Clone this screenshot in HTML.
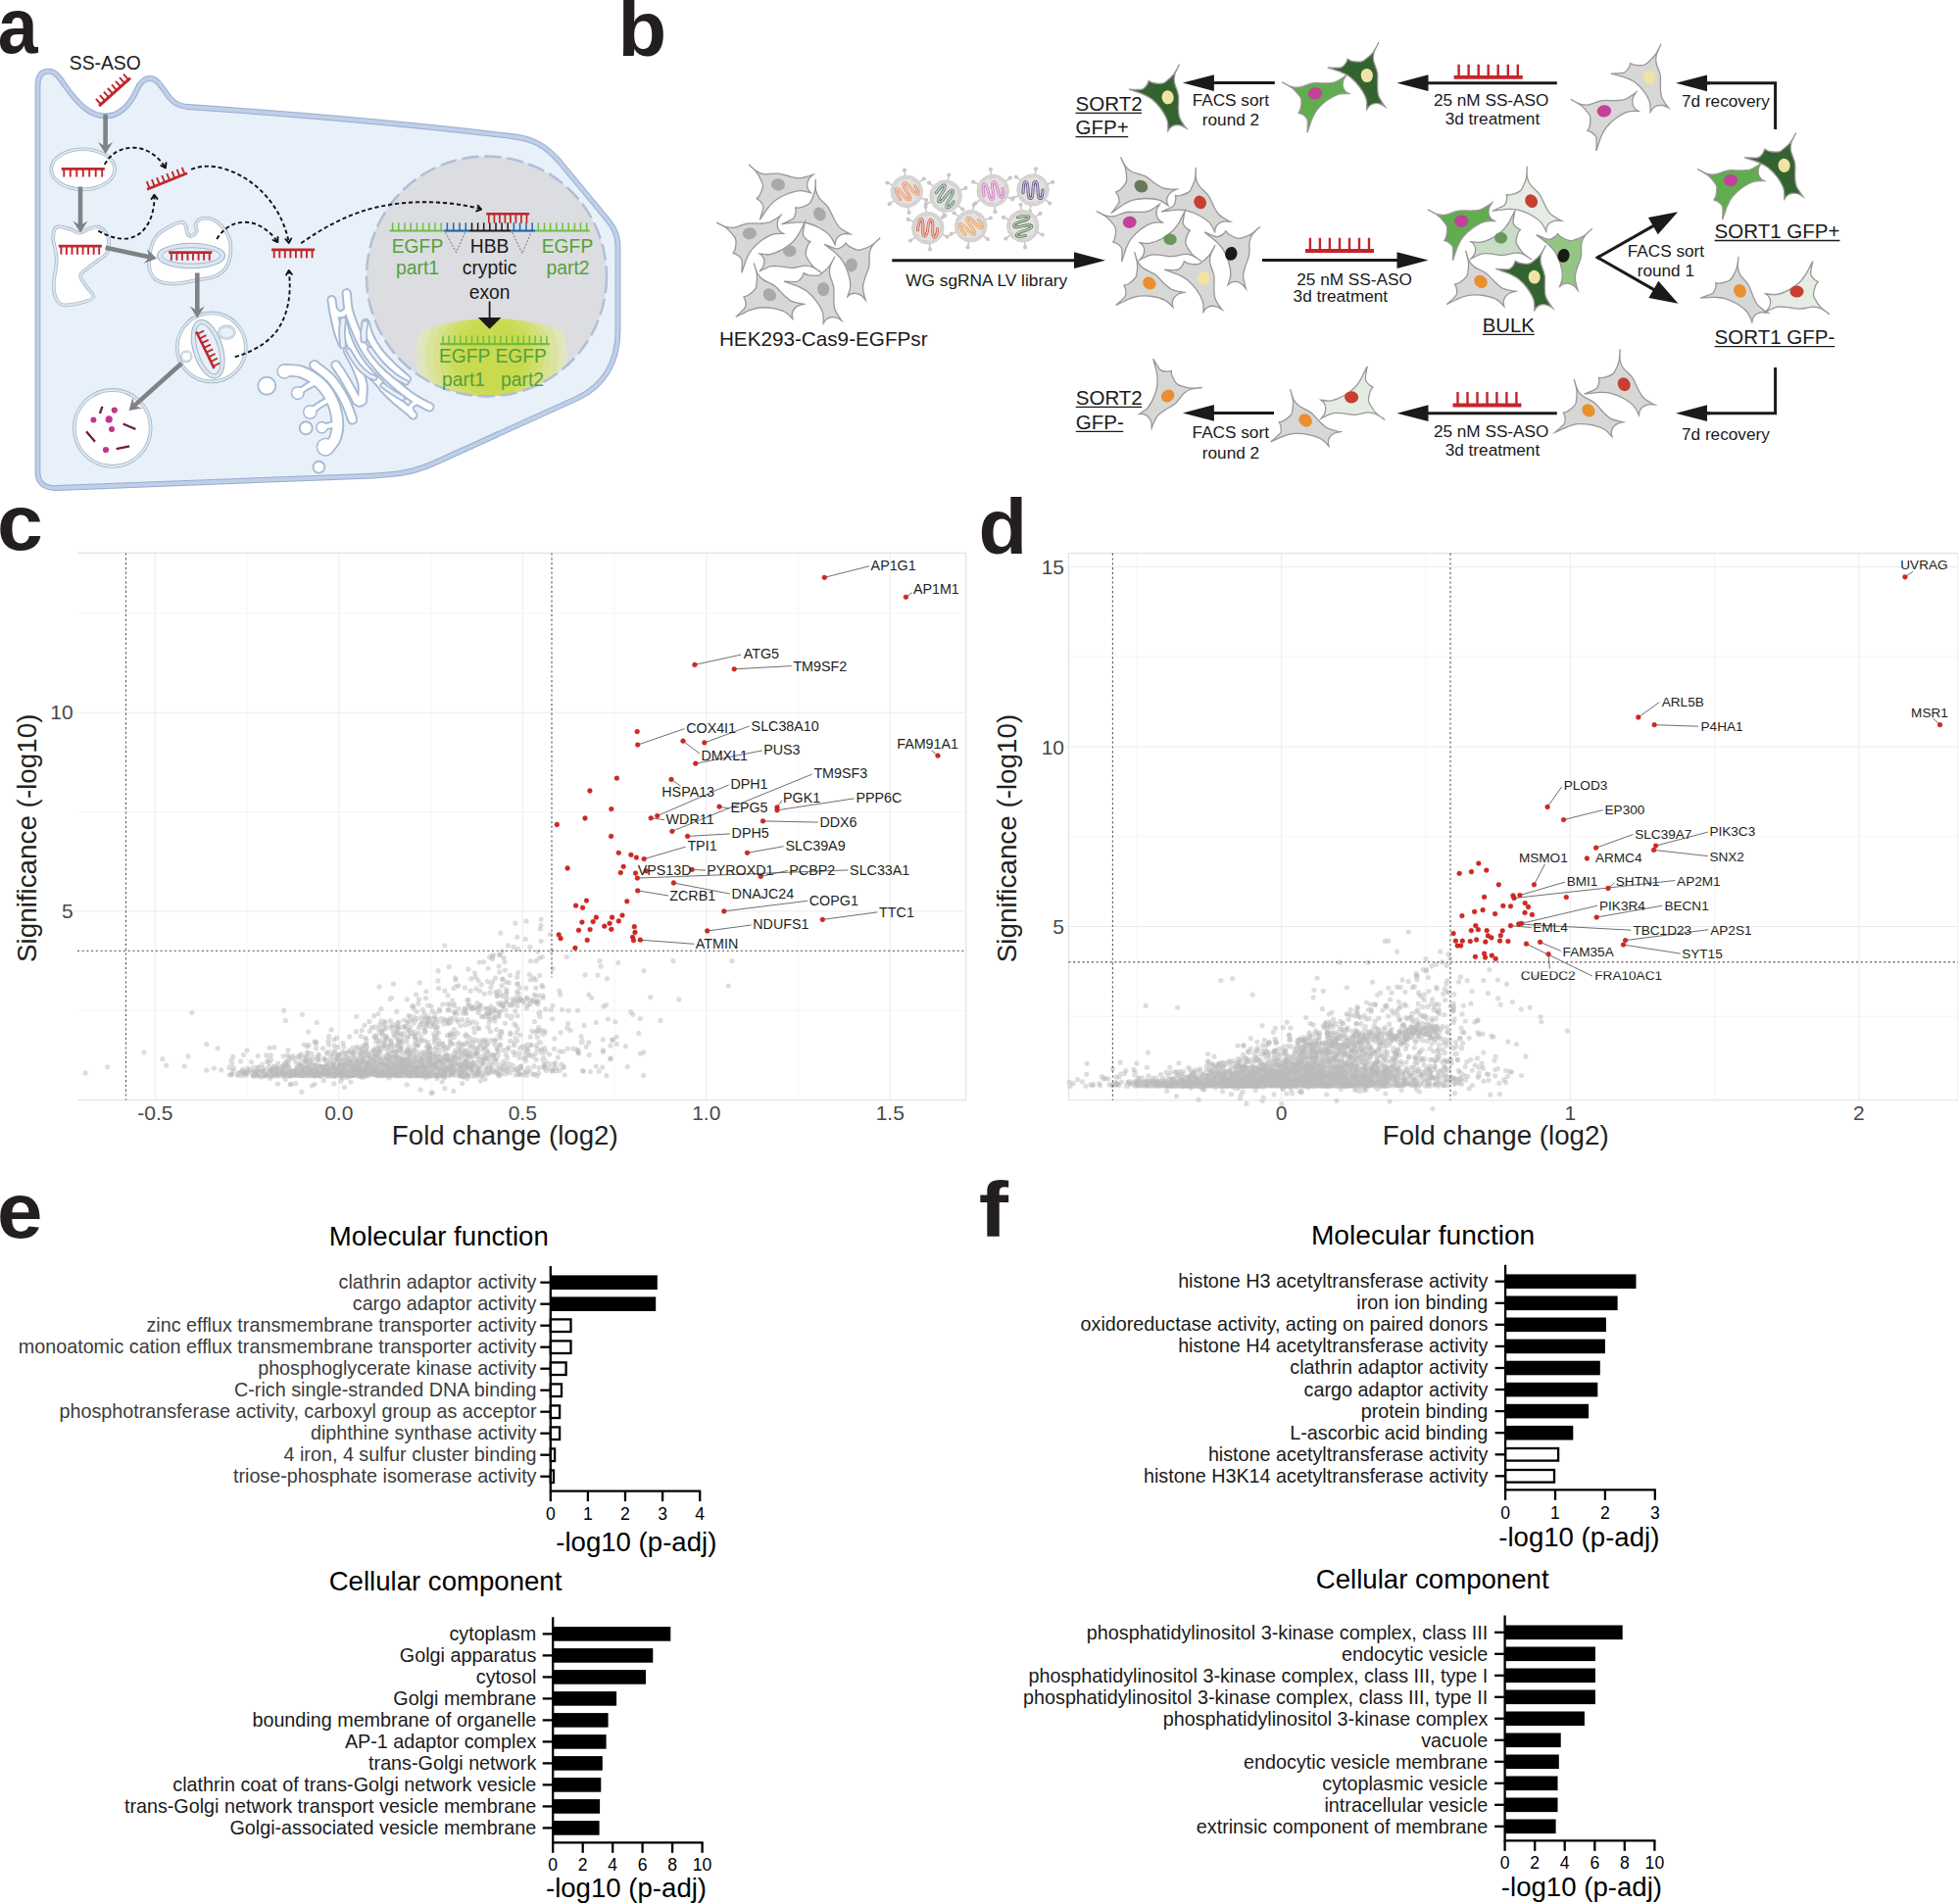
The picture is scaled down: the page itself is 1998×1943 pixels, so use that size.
<!DOCTYPE html>
<html><head><meta charset="utf-8"><title>Figure</title>
<style>
html,body{margin:0;padding:0;background:#fff;}
svg{display:block;font-family:"Liberation Sans",sans-serif;}
</style></head><body>
<svg width="1998" height="1943" viewBox="0 0 1998 1943">
<rect width="1998" height="1943" fill="#fff"/>
<text transform="translate(-2.3,54.3) scale(0.93,1)" font-size="79" font-weight="bold" fill="#231f20">a</text>
<text transform="translate(630.5,57) scale(1.03,1)" font-size="79" font-weight="bold" fill="#231f20">b</text>
<text transform="translate(-2.9,561.3) scale(1.065,1)" font-size="79" font-weight="bold" fill="#231f20">c</text>
<text transform="translate(998.6,564.6) scale(1.03,1)" font-size="79" font-weight="bold" fill="#231f20">d</text>
<text transform="translate(-3.0,1263) scale(1.057,1)" font-size="79" font-weight="bold" fill="#231f20">e</text>
<text transform="translate(998.7,1262.1) scale(1.15,1)" font-size="79" font-weight="bold" fill="#231f20">f</text>
<path d="M38.5 482 L38.5 88 C38.5 77 43 72.6 49.5 72.6 C56 72.6 60 78 65 85.5 C80 107 92 118.4 107.6 118.4 C123 118.4 133 106 139.5 92 C143 84 147 80 152.8 80 C160 80 164.5 87.5 169.5 95 C175 103.5 181 108 192 109 Q380 122 522 139 C545 141.5 557 149 571 165 L618.5 222.5 C627 233 630.5 240 630.5 252 L630.5 338 C630.5 372 614 394.5 590 406 L441 473.5 C420 482.5 405 484.3 380 485.6 L58 498 C44.5 498.5 38.5 492 38.5 482 Z" fill="#e8f0fa" stroke="#98add0" stroke-width="5.8" stroke-linejoin="round"/>
<path d="M38.5 482 L38.5 88 C38.5 77 43 72.6 49.5 72.6 C56 72.6 60 78 65 85.5 C80 107 92 118.4 107.6 118.4 C123 118.4 133 106 139.5 92 C143 84 147 80 152.8 80 C160 80 164.5 87.5 169.5 95 C175 103.5 181 108 192 109 Q380 122 522 139 C545 141.5 557 149 571 165 L618.5 222.5 C627 233 630.5 240 630.5 252 L630.5 338 C630.5 372 614 394.5 590 406 L441 473.5 C420 482.5 405 484.3 380 485.6 L58 498 C44.5 498.5 38.5 492 38.5 482 Z" fill="none" stroke="#bfcfe8" stroke-width="3.8" stroke-linejoin="round"/>
<clipPath id="nuc"><circle cx="496.5" cy="282" r="122.5"/></clipPath>
<circle cx="496.5" cy="282" r="122.5" fill="#dcdde1"/>
<radialGradient id="glow" gradientUnits="userSpaceOnUse" cx="501.7" cy="363" r="77"><stop offset="0" stop-color="#c8da4e"/><stop offset="0.46" stop-color="#c8da4e"/><stop offset="0.47" stop-color="#cbdc58"/><stop offset="0.54" stop-color="#cbdc58"/><stop offset="0.55" stop-color="#cfde66"/><stop offset="0.61" stop-color="#cfde66"/><stop offset="0.62" stop-color="#d3e078"/><stop offset="0.69" stop-color="#d3e078"/><stop offset="0.7" stop-color="#d7e28b"/><stop offset="0.77" stop-color="#d7e28b"/><stop offset="0.78" stop-color="#dbe49f"/><stop offset="0.87" stop-color="#dbe49f"/><stop offset="0.88" stop-color="#dee6b6"/><stop offset="1" stop-color="#e0e6c4"/></radialGradient>
<clipPath id="lens"><path d="M425.5 346Q425.5 337 440 334Q501.7 316 563.5 334Q578.5 337 578.5 346L578.5 412L425.5 412Z"/></clipPath>
<g clip-path="url(#nuc)"><g clip-path="url(#lens)"><circle cx="501.7" cy="363" r="77" fill="url(#glow)"/></g></g>
<circle cx="496.5" cy="282" r="122.5" fill="none" stroke="#a2b2ce" stroke-width="2.3" stroke-dasharray="17 6"/>
<circle cx="496.5" cy="282" r="122.5" fill="none" stroke="#c6d0e2" stroke-width="0.8" stroke-dasharray="17 6"/>
<path d="M373.2 329.6C373.8 331.7 374.7 337.4 376.8 342.2C379.0 347.1 382.3 353.2 386.3 358.5C390.3 363.9 396.2 369.6 401.0 374.3C405.8 379.0 412.8 384.8 415.2 386.9" fill="none" stroke="#a7b9d2" stroke-width="9.6" stroke-linecap="round" stroke-linejoin="round"/>
<path d="M353.7 299.2C354.1 302.1 354.3 310.1 355.8 316.5C357.4 322.9 360.2 330.5 363.2 337.5C366.2 344.5 369.1 351.5 373.7 358.5C378.2 365.5 384.4 373.0 390.5 379.5C396.6 386.1 404.7 393.1 410.5 397.9C416.2 402.7 420.5 405.5 425.2 408.4C429.8 411.3 436.1 414.1 438.3 415.3" fill="none" stroke="#a7b9d2" stroke-width="10.2" stroke-linecap="round" stroke-linejoin="round"/>
<path d="M338.5 306.0C338.9 308.3 339.5 314.1 340.6 319.7C341.7 325.3 343.8 334.5 345.3 339.6C346.8 344.8 348.8 348.8 349.5 350.7" fill="none" stroke="#a7b9d2" stroke-width="10.0" stroke-linecap="round" stroke-linejoin="round"/>
<path d="M341.1 316.5C342.2 317.3 345.2 321.2 347.4 321.2C349.7 321.2 353.4 317.3 354.6 316.5" fill="none" stroke="#a7b9d2" stroke-width="8.6" stroke-linecap="round" stroke-linejoin="round"/>
<path d="M350.1 327.0C350.7 329.5 351.9 336.5 353.7 341.7C355.6 347.0 358.1 353.1 361.1 358.5C364.1 364.0 368.2 369.8 371.6 374.3C375.0 378.8 379.9 383.5 381.6 385.3" fill="none" stroke="#a7b9d2" stroke-width="9.2" stroke-linecap="round" stroke-linejoin="round"/>
<path d="M391.0 395.8C392.9 397.7 397.8 403.0 402.1 406.8C406.3 410.7 413.5 416.1 416.8 418.9C420.0 421.7 420.7 422.9 421.5 423.7" fill="none" stroke="#a7b9d2" stroke-width="9.8" stroke-linecap="round" stroke-linejoin="round"/>
<path d="M421.5 423.7C421.1 422.3 418.3 417.5 418.9 415.3C419.5 413.0 424.1 410.9 425.2 410.0" fill="none" stroke="#a7b9d2" stroke-width="7.6" stroke-linecap="round" stroke-linejoin="round"/>
<path d="M381.6 385.3C382.5 386.3 385.8 389.3 387.4 391.1C388.9 392.8 390.4 395.0 391.0 395.8" fill="none" stroke="#a7b9d2" stroke-width="9.6" stroke-linecap="round" stroke-linejoin="round"/>
<path d="M355.3 358.0C356.8 360.9 361.8 369.6 364.2 375.3C366.7 381.0 369.1 386.5 370.0 392.1C370.9 397.7 369.6 406.1 369.5 408.9" fill="none" stroke="#a7b9d2" stroke-width="11.0" stroke-linecap="round" stroke-linejoin="round"/>
<path d="M342.7 372.7C343.8 374.4 347.1 378.8 349.5 382.7C352.0 386.6 355.0 392.0 357.4 396.3C359.9 400.7 363.1 406.8 364.2 408.9" fill="none" stroke="#a7b9d2" stroke-width="10.6" stroke-linecap="round" stroke-linejoin="round"/>
<path d="M364.2 408.9C364.7 409.2 366.0 410.5 366.9 410.5C367.7 410.5 369.1 409.2 369.5 408.9" fill="none" stroke="#a7b9d2" stroke-width="10.6" stroke-linecap="round" stroke-linejoin="round"/>
<path d="M320.7 372.7C323.4 374.9 332.1 380.7 336.9 385.8C341.7 391.0 346.4 398.4 349.5 403.7C352.7 408.9 354.2 413.3 355.8 417.4C357.5 421.4 358.9 426.1 359.5 427.9" fill="none" stroke="#a7b9d2" stroke-width="11.2" stroke-linecap="round" stroke-linejoin="round"/>
<path d="M290.2 378.0C293.1 378.2 301.5 377.3 307.5 379.5C313.6 381.7 321.2 386.2 326.4 391.1C331.7 396.0 336.1 402.5 339.0 408.9C342.0 415.4 343.8 423.7 344.3 430.0C344.8 436.3 343.8 442.2 342.2 446.8C340.6 451.3 336.1 455.5 334.8 457.3" fill="none" stroke="#a7b9d2" stroke-width="13.6" stroke-linecap="round" stroke-linejoin="round"/>
<path d="M303.8 401.1C305.5 399.9 310.8 396.1 313.8 394.2C316.9 392.4 320.8 390.7 322.2 390.0" fill="none" stroke="#a7b9d2" stroke-width="8.1" stroke-linecap="round" stroke-linejoin="round"/>
<path d="M316.4 420.5C318.1 419.3 323.2 415.3 326.4 413.2C329.7 411.1 334.3 408.8 335.9 407.9" fill="none" stroke="#a7b9d2" stroke-width="8.1" stroke-linecap="round" stroke-linejoin="round"/>
<path d="M328.5 436.3C329.9 435.9 334.3 434.9 336.9 434.2C339.6 433.5 343.1 432.4 344.3 432.1" fill="none" stroke="#a7b9d2" stroke-width="8.1" stroke-linecap="round" stroke-linejoin="round"/>
<circle cx="290.2" cy="379.0" r="6.9" fill="#fff" stroke="#a7b9d2" stroke-width="1.9"/>
<circle cx="303.8" cy="401.1" r="6.1" fill="#fff" stroke="#a7b9d2" stroke-width="1.9"/>
<circle cx="316.4" cy="420.5" r="6.5" fill="#fff" stroke="#a7b9d2" stroke-width="1.9"/>
<circle cx="328.5" cy="436.3" r="5.5" fill="#fff" stroke="#a7b9d2" stroke-width="1.9"/>
<circle cx="332.2" cy="456.2" r="8.6" fill="#fff" stroke="#a7b9d2" stroke-width="1.9"/>
<circle cx="272.3" cy="393.7" r="9.0" fill="#fff" stroke="#a7b9d2" stroke-width="1.9"/>
<circle cx="312.2" cy="436.8" r="6.5" fill="#fff" stroke="#a7b9d2" stroke-width="1.9"/>
<circle cx="325.4" cy="476.7" r="5.9" fill="#fff" stroke="#a7b9d2" stroke-width="1.9"/>
<path d="M373.2 329.6C373.8 331.7 374.7 337.4 376.8 342.2C379.0 347.1 382.3 353.2 386.3 358.5C390.3 363.9 396.2 369.6 401.0 374.3C405.8 379.0 412.8 384.8 415.2 386.9" fill="none" stroke="#fff" stroke-width="5.8" stroke-linecap="round" stroke-linejoin="round"/>
<path d="M353.7 299.2C354.1 302.1 354.3 310.1 355.8 316.5C357.4 322.9 360.2 330.5 363.2 337.5C366.2 344.5 369.1 351.5 373.7 358.5C378.2 365.5 384.4 373.0 390.5 379.5C396.6 386.1 404.7 393.1 410.5 397.9C416.2 402.7 420.5 405.5 425.2 408.4C429.8 411.3 436.1 414.1 438.3 415.3" fill="none" stroke="#fff" stroke-width="6.3999999999999995" stroke-linecap="round" stroke-linejoin="round"/>
<path d="M338.5 306.0C338.9 308.3 339.5 314.1 340.6 319.7C341.7 325.3 343.8 334.5 345.3 339.6C346.8 344.8 348.8 348.8 349.5 350.7" fill="none" stroke="#fff" stroke-width="6.2" stroke-linecap="round" stroke-linejoin="round"/>
<path d="M341.1 316.5C342.2 317.3 345.2 321.2 347.4 321.2C349.7 321.2 353.4 317.3 354.6 316.5" fill="none" stroke="#fff" stroke-width="4.8" stroke-linecap="round" stroke-linejoin="round"/>
<path d="M350.1 327.0C350.7 329.5 351.9 336.5 353.7 341.7C355.6 347.0 358.1 353.1 361.1 358.5C364.1 364.0 368.2 369.8 371.6 374.3C375.0 378.8 379.9 383.5 381.6 385.3" fill="none" stroke="#fff" stroke-width="5.3999999999999995" stroke-linecap="round" stroke-linejoin="round"/>
<path d="M391.0 395.8C392.9 397.7 397.8 403.0 402.1 406.8C406.3 410.7 413.5 416.1 416.8 418.9C420.0 421.7 420.7 422.9 421.5 423.7" fill="none" stroke="#fff" stroke-width="6.0" stroke-linecap="round" stroke-linejoin="round"/>
<path d="M421.5 423.7C421.1 422.3 418.3 417.5 418.9 415.3C419.5 413.0 424.1 410.9 425.2 410.0" fill="none" stroke="#fff" stroke-width="3.8" stroke-linecap="round" stroke-linejoin="round"/>
<path d="M381.6 385.3C382.5 386.3 385.8 389.3 387.4 391.1C388.9 392.8 390.4 395.0 391.0 395.8" fill="none" stroke="#fff" stroke-width="5.8" stroke-linecap="round" stroke-linejoin="round"/>
<path d="M355.3 358.0C356.8 360.9 361.8 369.6 364.2 375.3C366.7 381.0 369.1 386.5 370.0 392.1C370.9 397.7 369.6 406.1 369.5 408.9" fill="none" stroke="#fff" stroke-width="7.2" stroke-linecap="round" stroke-linejoin="round"/>
<path d="M342.7 372.7C343.8 374.4 347.1 378.8 349.5 382.7C352.0 386.6 355.0 392.0 357.4 396.3C359.9 400.7 363.1 406.8 364.2 408.9" fill="none" stroke="#fff" stroke-width="6.8" stroke-linecap="round" stroke-linejoin="round"/>
<path d="M364.2 408.9C364.7 409.2 366.0 410.5 366.9 410.5C367.7 410.5 369.1 409.2 369.5 408.9" fill="none" stroke="#fff" stroke-width="6.8" stroke-linecap="round" stroke-linejoin="round"/>
<path d="M320.7 372.7C323.4 374.9 332.1 380.7 336.9 385.8C341.7 391.0 346.4 398.4 349.5 403.7C352.7 408.9 354.2 413.3 355.8 417.4C357.5 421.4 358.9 426.1 359.5 427.9" fill="none" stroke="#fff" stroke-width="7.3999999999999995" stroke-linecap="round" stroke-linejoin="round"/>
<path d="M290.2 378.0C293.1 378.2 301.5 377.3 307.5 379.5C313.6 381.7 321.2 386.2 326.4 391.1C331.7 396.0 336.1 402.5 339.0 408.9C342.0 415.4 343.8 423.7 344.3 430.0C344.8 436.3 343.8 442.2 342.2 446.8C340.6 451.3 336.1 455.5 334.8 457.3" fill="none" stroke="#fff" stroke-width="9.8" stroke-linecap="round" stroke-linejoin="round"/>
<path d="M303.8 401.1C305.5 399.9 310.8 396.1 313.8 394.2C316.9 392.4 320.8 390.7 322.2 390.0" fill="none" stroke="#fff" stroke-width="4.3" stroke-linecap="round" stroke-linejoin="round"/>
<path d="M316.4 420.5C318.1 419.3 323.2 415.3 326.4 413.2C329.7 411.1 334.3 408.8 335.9 407.9" fill="none" stroke="#fff" stroke-width="4.3" stroke-linecap="round" stroke-linejoin="round"/>
<path d="M328.5 436.3C329.9 435.9 334.3 434.9 336.9 434.2C339.6 433.5 343.1 432.4 344.3 432.1" fill="none" stroke="#fff" stroke-width="4.3" stroke-linecap="round" stroke-linejoin="round"/>
<circle cx="290.2" cy="379.0" r="6.3" fill="#fff"/>
<circle cx="303.8" cy="401.1" r="5.5" fill="#fff"/>
<circle cx="316.4" cy="420.5" r="5.9" fill="#fff"/>
<circle cx="328.5" cy="436.3" r="4.9" fill="#fff"/>
<circle cx="332.2" cy="456.2" r="8.0" fill="#fff"/>
<path d="M350.2 326.8C350.0 328.6 349.0 333.5 349.0 337.8C348.9 342.1 349.8 350.0 350.0 352.5" fill="none" stroke="#a7b9d2" stroke-width="7.6" stroke-linecap="round"/>
<path d="M350.2 326.8C350.0 328.6 349.0 333.5 349.0 337.8C348.9 342.1 349.8 350.0 350.0 352.5" fill="none" stroke="#e8f0fa" stroke-width="4.0" stroke-linecap="round"/>
<path d="M372.5 330.1C372.3 331.5 371.4 335.8 371.2 338.5C371.0 341.3 371.3 345.3 371.3 346.6" fill="none" stroke="#a7b9d2" stroke-width="7.800000000000001" stroke-linecap="round"/>
<path d="M372.5 330.1C372.3 331.5 371.4 335.8 371.2 338.5C371.0 341.3 371.3 345.3 371.3 346.6" fill="none" stroke="#e8f0fa" stroke-width="4.2" stroke-linecap="round"/>
<path d="M377.4 356.2C379.3 358.6 384.5 366.2 388.8 370.9C393.2 375.5 399.2 380.9 403.5 384.1C407.8 387.4 412.7 389.3 414.6 390.4" fill="none" stroke="#a7b9d2" stroke-width="6.4" stroke-linecap="round"/>
<path d="M377.4 356.2C379.3 358.6 384.5 366.2 388.8 370.9C393.2 375.5 399.2 380.9 403.5 384.1C407.8 387.4 412.7 389.3 414.6 390.4" fill="none" stroke="#e8f0fa" stroke-width="2.8" stroke-linecap="round"/>
<path d="M355.7 358.0C357.3 360.5 362.0 369.0 365.3 373.1C368.6 377.2 372.8 380.6 375.6 382.6C378.4 384.7 381.1 385.1 382.2 385.6" fill="none" stroke="#a7b9d2" stroke-width="6.6" stroke-linecap="round"/>
<path d="M355.7 358.0C357.3 360.5 362.0 369.0 365.3 373.1C368.6 377.2 372.8 380.6 375.6 382.6C378.4 384.7 381.1 385.1 382.2 385.6" fill="none" stroke="#e8f0fa" stroke-width="3.0" stroke-linecap="round"/>
<path d="M390.7 393.3C392.3 394.5 397.2 398.1 400.6 400.3C404.0 402.5 409.2 405.5 410.9 406.5" fill="none" stroke="#a7b9d2" stroke-width="6.6" stroke-linecap="round"/>
<path d="M390.7 393.3C392.3 394.5 397.2 398.1 400.6 400.3C404.0 402.5 409.2 405.5 410.9 406.5" fill="none" stroke="#e8f0fa" stroke-width="3.0" stroke-linecap="round"/>
<ellipse cx="84.7" cy="172.8" rx="32.5" ry="20.5" fill="#fff" stroke="#a3b8c9" stroke-width="3.6"/>
<ellipse cx="84.7" cy="172.8" rx="32.5" ry="20.5" fill="none" stroke="#dde7f0" stroke-width="1.98"/>
<path d="M57.8 231.6C60.6 230.0 67.0 232.5 70.9 233.6C74.7 234.6 77.4 237.8 80.7 237.8C83.9 237.8 87.2 234.6 90.5 233.6C93.7 232.5 97.3 230.8 100.3 231.6C103.3 232.4 106.6 235.4 108.4 238.1C110.3 240.9 111.2 244.5 111.2 247.9C111.3 251.3 111.4 255.0 108.8 258.6C106.1 262.1 99.8 265.5 95.4 269.2C91.0 272.9 83.5 276.8 82.3 280.6C81.1 284.4 85.9 288.3 88.0 292.1C90.1 295.9 96.5 300.6 95.0 303.5C93.5 306.4 84.4 308.5 79.0 309.7C73.6 310.9 66.5 312.2 62.7 310.9C58.9 309.6 57.5 305.5 56.1 301.9C54.8 298.2 54.6 295.1 54.8 288.8C55.1 282.5 57.9 271.9 57.8 264.3C57.7 256.7 54.2 248.5 54.2 243.0C54.2 237.6 55.0 233.2 57.8 231.6Z" fill="#fff" stroke="#a3b8c9" stroke-width="3.6"/>
<path d="M57.8 231.6C60.6 230.0 67.0 232.5 70.9 233.6C74.7 234.6 77.4 237.8 80.7 237.8C83.9 237.8 87.2 234.6 90.5 233.6C93.7 232.5 97.3 230.8 100.3 231.6C103.3 232.4 106.6 235.4 108.4 238.1C110.3 240.9 111.2 244.5 111.2 247.9C111.3 251.3 111.4 255.0 108.8 258.6C106.1 262.1 99.8 265.5 95.4 269.2C91.0 272.9 83.5 276.8 82.3 280.6C81.1 284.4 85.9 288.3 88.0 292.1C90.1 295.9 96.5 300.6 95.0 303.5C93.5 306.4 84.4 308.5 79.0 309.7C73.6 310.9 66.5 312.2 62.7 310.9C58.9 309.6 57.5 305.5 56.1 301.9C54.8 298.2 54.6 295.1 54.8 288.8C55.1 282.5 57.9 271.9 57.8 264.3C57.7 256.7 54.2 248.5 54.2 243.0C54.2 237.6 55.0 233.2 57.8 231.6Z" fill="none" stroke="#dde7f0" stroke-width="2.0"/>
<path d="M154.2 252.8C155.6 247.4 157.5 243.4 160.7 239.8C164.0 236.1 169.7 233.0 173.8 230.8C177.9 228.6 182.6 226.7 185.3 226.7C187.9 226.7 188.9 228.9 189.8 230.8C190.8 232.7 190.0 236.5 191.0 238.1C191.9 239.8 193.8 241.1 195.4 240.7C197.0 240.4 200.1 238.1 200.8 236.2C201.5 234.2 198.8 231.4 199.6 229.1C200.5 226.9 202.4 223.6 205.7 222.9C209.0 222.3 215.1 222.3 219.6 225.1C224.1 227.9 230.0 234.6 232.6 239.8C235.3 244.9 235.7 250.7 235.4 256.1C235.2 261.6 233.7 268.1 231.0 272.5C228.4 276.8 225.0 279.6 219.6 281.9C214.1 284.2 205.4 285.1 198.3 286.3C191.2 287.6 183.6 289.7 177.1 289.6C170.5 289.5 163.2 288.4 159.1 285.5C155.0 282.7 153.1 277.9 152.2 272.5C151.4 267.0 152.8 258.3 154.2 252.8Z" fill="#fff" stroke="#a3b8c9" stroke-width="3.6"/>
<path d="M154.2 252.8C155.6 247.4 157.5 243.4 160.7 239.8C164.0 236.1 169.7 233.0 173.8 230.8C177.9 228.6 182.6 226.7 185.3 226.7C187.9 226.7 188.9 228.9 189.8 230.8C190.8 232.7 190.0 236.5 191.0 238.1C191.9 239.8 193.8 241.1 195.4 240.7C197.0 240.4 200.1 238.1 200.8 236.2C201.5 234.2 198.8 231.4 199.6 229.1C200.5 226.9 202.4 223.6 205.7 222.9C209.0 222.3 215.1 222.3 219.6 225.1C224.1 227.9 230.0 234.6 232.6 239.8C235.3 244.9 235.7 250.7 235.4 256.1C235.2 261.6 233.7 268.1 231.0 272.5C228.4 276.8 225.0 279.6 219.6 281.9C214.1 284.2 205.4 285.1 198.3 286.3C191.2 287.6 183.6 289.7 177.1 289.6C170.5 289.5 163.2 288.4 159.1 285.5C155.0 282.7 153.1 277.9 152.2 272.5C151.4 267.0 152.8 258.3 154.2 252.8Z" fill="none" stroke="#dde7f0" stroke-width="2.0"/>
<ellipse cx="195.1" cy="261" rx="34.6" ry="12.8" fill="#dbe6f0" stroke="#a3b8c9" stroke-width="1.1"/>
<ellipse cx="195.1" cy="261" rx="29.6" ry="8.2" fill="#e8f0fa" stroke="#a3b8c9" stroke-width="1.0"/>
<ellipse cx="215.8" cy="354.4" rx="35.0" ry="35.0" fill="#fff" stroke="#a3b8c9" stroke-width="3.6"/>
<ellipse cx="215.8" cy="354.4" rx="35.0" ry="35.0" fill="none" stroke="#dde7f0" stroke-width="1.98"/>
<ellipse cx="212.2" cy="356.2" rx="15" ry="30.8" fill="#dbe6f0" stroke="#a3b8c9" stroke-width="1.1" transform="rotate(-17 212.2 356.2)"/>
<ellipse cx="212.2" cy="356.2" rx="10.6" ry="26.4" fill="#e8f0fa" stroke="#a3b8c9" stroke-width="1.0" transform="rotate(-17 212.2 356.2)"/>
<ellipse cx="231.3" cy="339.2" rx="8.2" ry="6.4" fill="#e8f0fa" stroke="#a3b8c9" stroke-width="2.4"/>
<ellipse cx="231.3" cy="339.2" rx="8.2" ry="6.4" fill="none" stroke="#dde7f0" stroke-width="1.32"/>
<ellipse cx="190.2" cy="363.7" rx="5.2" ry="5.2" fill="#fff" stroke="#a3b8c9" stroke-width="2.2"/>
<ellipse cx="190.2" cy="363.7" rx="5.2" ry="5.2" fill="none" stroke="#dde7f0" stroke-width="1.21"/>
<ellipse cx="114.7" cy="436.9" rx="39.0" ry="39.0" fill="#fff" stroke="#a3b8c9" stroke-width="3.6"/>
<ellipse cx="114.7" cy="436.9" rx="39.0" ry="39.0" fill="none" stroke="#dde7f0" stroke-width="1.98"/>
<circle cx="116.8" cy="418.6" r="3.1" fill="#c2368c"/>
<circle cx="95.4" cy="428.4" r="3.0" fill="#c2368c"/>
<circle cx="111.2" cy="427.9" r="3.6" fill="#c2368c"/>
<circle cx="114.0" cy="438.0" r="3.0" fill="#c2368c"/>
<circle cx="108.0" cy="459.0" r="3.1" fill="#c2368c"/>
<line x1="104.4" y1="414.8" x2="101.9" y2="421.9" stroke="#6b1b45" stroke-width="2.3"/>
<line x1="125.6" y1="432.5" x2="138.4" y2="438.0" stroke="#6b1b45" stroke-width="2.3"/>
<line x1="88.0" y1="440.2" x2="97.0" y2="450.8" stroke="#6b1b45" stroke-width="2.3"/>
<line x1="118.7" y1="458.1" x2="132.1" y2="455.4" stroke="#6b1b45" stroke-width="2.3"/>
<path d="M103.0 106.5l-5.1 -5.7M107.0 102.9l-5.1 -5.7M111.0 99.3l-5.1 -5.7M115.0 95.7l-5.1 -5.7M119.1 92.1l-5.1 -5.7M123.1 88.5l-5.1 -5.7M127.1 84.9l-5.1 -5.7M131.1 81.3l-5.1 -5.7" stroke="#c1272d" stroke-width="2.0" fill="none"/>
<line x1="101.1" y1="108.2" x2="133.0" y2="79.6" stroke="#c1272d" stroke-width="3.0"/>
<path d="M65.3 172.4l-0.0 8.0M71.8 172.4l-0.0 8.0M78.3 172.4l-0.0 8.0M84.8 172.4l-0.0 8.0M91.2 172.4l-0.0 8.0M97.7 172.4l-0.0 8.0M104.2 172.4l-0.0 8.0" stroke="#c1272d" stroke-width="1.9" fill="none"/>
<line x1="62.7" y1="172.4" x2="106.8" y2="172.4" stroke="#c1272d" stroke-width="2.7"/>
<path d="M62.4 251.2l-0.0 8.5M67.9 251.2l-0.0 8.5M73.5 251.2l-0.0 8.5M79.0 251.2l-0.0 8.5M84.6 251.2l-0.0 8.5M90.1 251.2l-0.0 8.5M95.7 251.2l-0.0 8.5M101.2 251.2l-0.0 8.5" stroke="#c1272d" stroke-width="1.9" fill="none"/>
<line x1="59.7" y1="251.2" x2="103.9" y2="251.2" stroke="#c1272d" stroke-width="2.7"/>
<path d="M152.6 192.2l-2.8 -7.0M157.7 190.2l-2.8 -7.0M162.8 188.1l-2.8 -7.0M168.0 186.0l-2.8 -7.0M173.1 184.0l-2.8 -7.0M178.3 181.9l-2.8 -7.0M183.4 179.8l-2.8 -7.0M188.5 177.8l-2.8 -7.0" stroke="#c1272d" stroke-width="1.9" fill="none"/>
<line x1="150.1" y1="193.2" x2="191.0" y2="176.8" stroke="#c1272d" stroke-width="2.7"/>
<path d="M174.8 257.7l-0.0 8.0M180.4 257.7l-0.0 8.0M185.9 257.7l-0.0 8.0M191.5 257.7l-0.0 8.0M197.0 257.7l-0.0 8.0M202.6 257.7l-0.0 8.0M208.1 257.7l-0.0 8.0M213.7 257.7l-0.0 8.0" stroke="#c1272d" stroke-width="1.9" fill="none"/>
<line x1="172.2" y1="257.7" x2="216.3" y2="257.7" stroke="#c1272d" stroke-width="2.7"/>
<path d="M279.7 254.8l-0.0 8.5M285.3 254.8l-0.0 8.5M290.8 254.8l-0.0 8.5M296.4 254.8l-0.0 8.5M301.9 254.8l-0.0 8.5M307.5 254.8l-0.0 8.5M313.0 254.8l-0.0 8.5M318.6 254.8l-0.0 8.5" stroke="#c1272d" stroke-width="1.9" fill="none"/>
<line x1="277.1" y1="254.8" x2="321.2" y2="254.8" stroke="#c1272d" stroke-width="2.7"/>
<path d="M201.4 340.8l6.7 -3.3M203.7 345.5l6.7 -3.3M206.0 350.2l6.7 -3.3M208.3 354.9l6.7 -3.3M210.6 359.6l6.7 -3.3M212.9 364.3l6.7 -3.3M215.2 369.0l6.7 -3.3M217.5 373.8l6.7 -3.3" stroke="#c1272d" stroke-width="1.9" fill="none"/>
<line x1="200.3" y1="338.5" x2="218.6" y2="376.0" stroke="#c1272d" stroke-width="2.7"/>
<line x1="107.6" y1="116.5" x2="107.6" y2="150.4" stroke="#808285" stroke-width="4.6"/>
<path d="M107.6 157.0L100.1 145.0L107.6 149.6L115.1 145.0Z" fill="#808285"/>
<line x1="82.0" y1="190.5" x2="82.0" y2="230.9" stroke="#808285" stroke-width="4.6"/>
<path d="M82.0 237.5L74.5 225.5L82.0 230.1L89.5 225.5Z" fill="#808285"/>
<line x1="107.6" y1="252.8" x2="153.5" y2="262.4" stroke="#808285" stroke-width="4.6"/>
<path d="M160.0 263.8L146.7 268.7L152.7 262.3L149.8 254.0Z" fill="#808285"/>
<line x1="201.3" y1="278.5" x2="201.3" y2="317.9" stroke="#808285" stroke-width="4.6"/>
<path d="M201.3 324.5L193.8 312.5L201.3 317.1L208.8 312.5Z" fill="#808285"/>
<line x1="185.3" y1="370.7" x2="136.4" y2="414.6" stroke="#808285" stroke-width="4.6"/>
<path d="M131.5 419.0L135.4 405.4L137.0 414.0L145.4 416.6Z" fill="#808285"/>
<path d="M106.8 167.9C113 156 124 150.5 137 150.7C150 151 162 160 168.5 170.5" fill="none" stroke="#111" stroke-width="1.9" stroke-dasharray="4.2 2.8"/>
<path d="M164.3 168.9L168.9 171.3L169.5 166.1" fill="none" stroke="#111" stroke-width="1.9" stroke-linejoin="round" stroke-linecap="round"/>
<path d="M195.1 172.8C205 169 216 168.5 228 172C262 182 288 212 294.6 247" fill="none" stroke="#111" stroke-width="1.9" stroke-dasharray="4.2 2.8"/>
<path d="M291.3 244.0L294.7 248.0L297.2 243.4" fill="none" stroke="#111" stroke-width="1.9" stroke-linejoin="round" stroke-linecap="round"/>
<path d="M100.3 235.7C110 241 120 244.5 130 243.5C148 241 158 222 157.5 199.5" fill="none" stroke="#111" stroke-width="1.9" stroke-dasharray="4.2 2.8"/>
<path d="M160.5 202.9L157.4 198.7L154.6 203.1" fill="none" stroke="#111" stroke-width="1.9" stroke-linejoin="round" stroke-linecap="round"/>
<path d="M221.2 243.9C228 233 238 226.5 250.6 226.7C263 227 275 235 283 246.5" fill="none" stroke="#111" stroke-width="1.9" stroke-dasharray="4.2 2.8"/>
<path d="M278.5 245.0L283.3 247.1L283.5 241.9" fill="none" stroke="#111" stroke-width="1.9" stroke-linejoin="round" stroke-linecap="round"/>
<path d="M307.2 248.3C330 232 352 221 372.6 214.6C405 204.5 450 203 490 213" fill="none" stroke="#111" stroke-width="1.9" stroke-dasharray="4.2 2.8"/>
<path d="M486.2 215.4L491.1 213.6L487.6 209.7" fill="none" stroke="#111" stroke-width="1.9" stroke-linejoin="round" stroke-linecap="round"/>
<path d="M239.7 364.2C262 358 278 346 285.5 333C294 318 297.5 300 294.8 277" fill="none" stroke="#111" stroke-width="1.9" stroke-dasharray="4.2 2.8"/>
<path d="M297.9 280.0L294.7 275.9L292.1 280.4" fill="none" stroke="#111" stroke-width="1.9" stroke-linejoin="round" stroke-linecap="round"/>
<path d="M400.6 235.5v-8.3M406.8 235.5v-8.3M413.0 235.5v-8.3M419.2 235.5v-8.3M425.4 235.5v-8.3M431.6 235.5v-8.3M437.8 235.5v-8.3M444.0 235.5v-8.3M450.2 235.5v-8.3" stroke="#6cbe45" stroke-width="1.5" fill="none"/>
<line x1="397.5" y1="235.5" x2="453.3" y2="235.5" stroke="#6cbe45" stroke-width="2.2"/>
<path d="M456.4 235.5v-8.3M462.7 235.5v-8.3M469.0 235.5v-8.3M475.3 235.5v-8.3" stroke="#1c6aa8" stroke-width="1.5" fill="none"/>
<line x1="453.3" y1="235.5" x2="478.4" y2="235.5" stroke="#1c6aa8" stroke-width="2.2"/>
<path d="M481.5 235.5v-8.3M487.6 235.5v-8.3M493.7 235.5v-8.3M499.8 235.5v-8.3M506.0 235.5v-8.3M512.1 235.5v-8.3M518.2 235.5v-8.3" stroke="#1a1a1a" stroke-width="1.5" fill="none"/>
<line x1="478.4" y1="235.5" x2="521.3" y2="235.5" stroke="#1a1a1a" stroke-width="2.2"/>
<path d="M524.4 235.5v-8.3M530.6 235.5v-8.3M536.9 235.5v-8.3M543.1 235.5v-8.3" stroke="#1c6aa8" stroke-width="1.5" fill="none"/>
<line x1="521.3" y1="235.5" x2="546.2" y2="235.5" stroke="#1c6aa8" stroke-width="2.2"/>
<path d="M549.3 235.5v-8.3M555.5 235.5v-8.3M561.6 235.5v-8.3M567.8 235.5v-8.3M574.0 235.5v-8.3M580.2 235.5v-8.3M586.4 235.5v-8.3M592.5 235.5v-8.3M598.7 235.5v-8.3" stroke="#6cbe45" stroke-width="1.5" fill="none"/>
<line x1="546.2" y1="235.5" x2="601.8" y2="235.5" stroke="#6cbe45" stroke-width="2.2"/>
<path d="M498.8 218.2l-0.0 9.5M504.4 218.2l-0.0 9.5M509.9 218.2l-0.0 9.5M515.4 218.2l-0.0 9.5M520.9 218.2l-0.0 9.5M526.4 218.2l-0.0 9.5M531.9 218.2l-0.0 9.5M537.5 218.2l-0.0 9.5" stroke="#c1272d" stroke-width="1.7" fill="none"/>
<line x1="496.2" y1="218.2" x2="540.1" y2="218.2" stroke="#c1272d" stroke-width="2.5"/>
<path d="M454.5 237.2L465.5 257.5L474.7 237.2M522.7 237.2L532.9 258.5L542.1 237.2" fill="none" stroke="#555" stroke-width="0.8" stroke-dasharray="2 1.6"/>
<path d="M452.1 351.1v-8.6M458.0 351.1v-8.6M463.9 351.1v-8.6M469.8 351.1v-8.6M475.7 351.1v-8.6M481.5 351.1v-8.6M487.4 351.1v-8.6M493.3 351.1v-8.6M499.2 351.1v-8.6M505.0 351.1v-8.6M510.9 351.1v-8.6M516.8 351.1v-8.6M522.7 351.1v-8.6M528.6 351.1v-8.6M534.4 351.1v-8.6M540.3 351.1v-8.6M546.2 351.1v-8.6M552.1 351.1v-8.6M558.0 351.1v-8.6" stroke="#6cbe45" stroke-width="1.5" fill="none"/>
<line x1="449.2" y1="351.1" x2="560.9" y2="351.1" stroke="#6cbe45" stroke-width="2.2"/>
<line x1="499.6" y1="307.6" x2="499.6" y2="326" stroke="#1a1a1a" stroke-width="1.8"/>
<path d="M487.8 324L511.4 324L499.6 335.8Z" fill="#1a1a1a"/>
<text x="70.8" y="70.8" font-size="19.3" fill="#1a1a1a">SS-ASO</text>
<text x="426.0" y="257.5" font-size="19.3" text-anchor="middle" fill="#55a03c">EGFP</text>
<text x="426.0" y="280.4" font-size="19.3" text-anchor="middle" fill="#55a03c">part1</text>
<text x="499.6" y="257.5" font-size="19.3" text-anchor="middle" fill="#1a1a1a">HBB</text>
<text x="499.6" y="280.4" font-size="19.3" text-anchor="middle" fill="#1a1a1a">cryptic</text>
<text x="499.6" y="304.5" font-size="19.3" text-anchor="middle" fill="#1a1a1a">exon</text>
<text x="579.0" y="257.5" font-size="19.3" text-anchor="middle" fill="#55a03c">EGFP</text>
<text x="579.5" y="280.4" font-size="19.3" text-anchor="middle" fill="#55a03c">part2</text>
<text x="503.0" y="369.9" font-size="19.3" text-anchor="middle" fill="#55a03c">EGFP EGFP</text>
<text x="503.0" y="394.4" font-size="19.3" text-anchor="middle" fill="#55a03c" xml:space="preserve">part1   part2</text>
<path d="M764.1 168.0C765.5 169.2 769.8 173.5 772.6 175.1C775.4 176.8 777.1 177.4 780.7 177.8C784.3 178.1 789.8 176.7 794.3 177.1C798.8 177.6 804.0 179.8 807.7 180.6C811.4 181.4 813.7 182.0 816.7 181.9C819.7 181.7 823.6 180.2 825.8 179.5C827.9 178.9 829.2 178.2 829.9 178.0C829.1 178.7 826.4 180.8 825.4 182.6C824.3 184.5 823.6 187.0 823.5 188.9C823.4 190.7 824.2 192.4 824.9 193.8C825.5 195.1 827.1 196.3 827.6 196.9C825.8 196.5 820.8 194.5 816.7 194.7C812.7 194.9 807.5 196.4 803.3 198.0C799.1 199.6 794.7 202.0 791.5 204.3C788.3 206.5 786.2 209.3 784.2 211.5C782.3 213.7 781.3 215.6 779.8 217.7C778.3 219.9 776.0 223.3 775.3 224.5C775.7 223.1 777.4 218.3 777.9 216.0C778.5 213.7 779.2 212.5 778.8 210.7C778.5 208.9 776.8 206.7 775.7 205.4C774.6 204.1 772.7 203.2 772.1 202.7C772.6 202.1 774.3 201.2 775.3 199.1C776.4 197.0 778.2 192.5 778.5 190.2C778.8 187.8 778.1 187.1 777.1 184.9C776.1 182.6 774.8 179.3 772.6 176.5C770.4 173.7 765.5 169.4 764.1 168.0Z" fill="#d7d7d6" stroke="#9a9696" stroke-width="1.3" stroke-linejoin="miter" stroke-miterlimit="6"/>
<ellipse cx="794.0" cy="188.4" rx="7.1" ry="6.2" fill="#a9a9a9" transform="rotate(10 794.0 188.4)"/>
<path d="M731.2 227.1C732.9 227.8 738.1 230.9 741.2 231.7C744.3 232.6 746.2 232.8 749.7 232.2C753.2 231.6 758.0 228.8 762.5 228.1C766.9 227.4 772.4 228.2 776.2 228.0C780.0 227.7 782.3 227.8 785.2 226.9C788.0 225.9 791.2 223.5 793.2 222.3C795.1 221.1 796.1 220.2 796.7 219.7C796.2 220.7 794.1 223.4 793.6 225.4C793.1 227.4 793.1 230.0 793.5 231.8C793.9 233.6 795.1 235.1 796.1 236.2C797.1 237.3 798.9 238.1 799.5 238.4C797.7 238.6 792.4 238.0 788.6 239.2C784.7 240.4 780.2 243.2 776.6 245.8C773.0 248.4 769.5 251.9 767.0 254.8C764.6 257.8 763.3 261.0 762.0 263.6C760.7 266.3 760.3 268.3 759.4 270.8C758.6 273.2 757.3 277.1 756.9 278.4C757.0 276.9 757.3 271.9 757.2 269.6C757.2 267.2 757.5 265.8 756.6 264.2C755.8 262.6 753.7 261.0 752.2 260.0C750.8 259.0 748.8 258.6 748.1 258.3C748.4 257.6 749.7 256.3 750.2 254.0C750.7 251.8 751.2 247.0 750.8 244.7C750.5 242.3 749.7 241.9 748.1 239.9C746.6 238.0 744.4 235.2 741.6 233.0C738.8 230.9 732.9 228.0 731.2 227.1Z" fill="#d7d7d6" stroke="#9a9696" stroke-width="1.3" stroke-linejoin="miter" stroke-miterlimit="6"/>
<ellipse cx="764.9" cy="238.3" rx="7.1" ry="6.1" fill="#a9a9a9" transform="rotate(-6 764.9 238.3)"/>
<path d="M832.3 182.7C832.4 184.6 832.0 190.7 832.5 193.9C833.1 197.1 833.8 198.8 835.9 201.8C838.0 204.7 842.6 207.9 845.1 211.6C847.7 215.3 849.4 220.6 851.3 224.0C853.1 227.3 854.1 229.5 856.2 231.6C858.3 233.8 861.9 235.7 863.8 236.9C865.7 238.1 867.0 238.6 867.7 238.9C866.6 238.9 863.3 238.2 861.2 238.6C859.2 239.0 856.8 240.2 855.4 241.4C854.0 242.5 853.2 244.3 852.6 245.7C852.1 247.1 852.2 249.1 852.1 249.8C851.2 248.2 849.4 243.1 846.6 240.2C843.9 237.2 839.4 234.3 835.5 232.2C831.6 230.1 826.9 228.4 823.2 227.5C819.4 226.6 816.0 226.8 813.1 226.9C810.1 226.9 808.1 227.4 805.6 227.7C803.0 228.0 799.0 228.6 797.6 228.8C799.0 228.2 803.6 226.2 805.6 225.1C807.7 224.1 809.1 223.7 810.2 222.3C811.3 220.8 811.8 218.1 812.1 216.4C812.3 214.6 811.8 212.6 811.7 211.9C812.5 211.9 814.3 212.5 816.5 211.9C818.7 211.3 823.2 209.7 825.2 208.3C827.1 207.0 827.2 206.0 828.2 203.8C829.3 201.5 830.9 198.3 831.5 194.8C832.2 191.3 832.2 184.7 832.3 182.7Z" fill="#d7d7d6" stroke="#9a9696" stroke-width="1.3" stroke-linejoin="miter" stroke-miterlimit="6"/>
<ellipse cx="836.4" cy="218.4" rx="7.1" ry="6.1" fill="#a9a9a9" transform="rotate(59 836.4 218.4)"/>
<path d="M838.2 278.4C836.8 277.5 832.2 273.9 829.4 272.7C826.6 271.5 824.9 271.1 821.4 271.2C818.0 271.3 813.0 273.3 808.7 273.4C804.4 273.5 799.3 272.1 795.7 271.8C792.0 271.5 789.8 271.2 787.0 271.7C784.2 272.2 780.7 274.1 778.7 275.0C776.7 275.9 775.6 276.6 775.0 277.0C775.7 276.2 778.0 273.9 778.8 272.0C779.6 270.2 780.0 267.7 779.9 265.9C779.7 264.2 778.8 262.6 778.0 261.4C777.2 260.3 775.6 259.3 775.1 258.9C776.8 259.0 781.8 260.2 785.6 259.6C789.4 258.9 794.1 256.9 797.9 254.9C801.7 252.9 805.6 250.0 808.4 247.5C811.1 245.0 812.8 242.1 814.4 239.8C816.0 237.4 816.7 235.6 817.9 233.4C819.1 231.1 820.8 227.6 821.4 226.5C821.2 227.9 820.2 232.5 819.8 234.8C819.5 237.0 819.0 238.3 819.6 239.9C820.1 241.5 821.9 243.4 823.1 244.5C824.3 245.6 826.2 246.3 826.9 246.6C826.4 247.2 825.0 248.3 824.2 250.4C823.4 252.5 822.2 256.9 822.2 259.2C822.2 261.5 822.9 262.0 824.1 264.1C825.3 266.1 826.9 269.0 829.3 271.4C831.6 273.8 836.8 277.3 838.2 278.4Z" fill="#d7d7d6" stroke="#9a9696" stroke-width="1.3" stroke-linejoin="miter" stroke-miterlimit="6"/>
<ellipse cx="805.8" cy="256.2" rx="6.8" ry="5.9" fill="#a9a9a9" transform="rotate(183 805.8 256.2)"/>
<path d="M898.2 242.8C896.9 244.1 892.3 248.0 890.4 250.6C888.6 253.2 887.8 254.8 887.2 258.3C886.6 261.9 887.6 267.3 886.8 271.6C886.0 276.0 883.5 280.9 882.4 284.5C881.4 288.1 880.6 290.3 880.5 293.2C880.5 296.2 881.7 300.0 882.1 302.2C882.6 304.4 883.2 305.7 883.4 306.4C882.7 305.6 880.8 302.8 879.1 301.6C877.4 300.4 874.9 299.5 873.1 299.3C871.2 299.0 869.5 299.7 868.1 300.2C866.7 300.8 865.4 302.2 864.9 302.7C865.3 300.9 867.6 296.2 867.8 292.2C867.9 288.2 866.8 283.0 865.5 278.8C864.3 274.5 862.2 270.1 860.2 266.8C858.2 263.5 855.6 261.2 853.5 259.1C851.4 257.0 849.7 255.9 847.7 254.3C845.6 252.7 842.4 250.2 841.3 249.3C842.7 249.9 847.3 251.8 849.5 252.6C851.7 253.4 853.0 254.1 854.7 253.9C856.5 253.7 858.8 252.2 860.2 251.2C861.6 250.2 862.6 248.5 863.1 247.9C863.7 248.5 864.5 250.2 866.5 251.4C868.5 252.6 872.8 254.7 875.1 255.1C877.4 255.6 878.1 255.0 880.5 254.2C882.8 253.5 886.1 252.4 889.1 250.5C892.1 248.6 896.7 244.1 898.2 242.8Z" fill="#d7d7d6" stroke="#9a9696" stroke-width="1.3" stroke-linejoin="miter" stroke-miterlimit="6"/>
<ellipse cx="868.7" cy="270.5" rx="7.0" ry="6.1" fill="#a9a9a9" transform="rotate(104 868.7 270.5)"/>
<path d="M769.3 268.5C769.9 270.2 771.5 276.2 773.0 279.0C774.6 281.8 775.7 283.3 778.6 285.4C781.5 287.5 786.9 289.0 790.5 291.7C794.1 294.3 797.4 298.9 800.2 301.4C803.0 304.0 804.6 305.7 807.2 307.1C809.9 308.4 813.9 309.0 816.1 309.6C818.3 310.1 819.7 310.1 820.4 310.3C819.3 310.6 816.0 311.0 814.2 312.1C812.4 313.1 810.5 315.0 809.5 316.6C808.5 318.2 808.3 320.1 808.2 321.6C808.2 323.1 808.9 325.0 809.0 325.6C807.7 324.4 804.4 320.2 800.8 318.3C797.3 316.4 792.1 315.1 787.8 314.4C783.4 313.7 778.4 313.6 774.6 314.0C770.8 314.4 767.6 315.7 764.8 316.6C762.1 317.6 760.3 318.7 758.0 319.9C755.6 321.0 752.0 322.9 750.8 323.5C751.9 322.5 755.6 319.1 757.2 317.4C758.9 315.7 760.1 315.0 760.6 313.2C761.2 311.5 760.9 308.7 760.6 307.0C760.3 305.3 759.1 303.6 758.9 302.9C759.6 302.6 761.5 302.6 763.4 301.3C765.4 300.0 769.1 297.0 770.5 295.1C772.0 293.2 771.7 292.3 772.0 289.8C772.3 287.3 772.8 283.7 772.3 280.2C771.9 276.6 769.8 270.4 769.3 268.5Z" fill="#d7d7d6" stroke="#9a9696" stroke-width="1.3" stroke-linejoin="miter" stroke-miterlimit="6"/>
<ellipse cx="785.4" cy="300.8" rx="7.1" ry="6.1" fill="#a9a9a9" transform="rotate(40 785.4 300.8)"/>
<path d="M851.9 261.8C851.1 263.5 848.0 268.8 847.1 271.8C846.2 274.9 846.0 276.8 846.7 280.3C847.3 283.8 850.0 288.6 850.7 293.1C851.4 297.5 850.7 303.0 850.9 306.8C851.1 310.6 851.0 312.9 852.0 315.7C852.9 318.6 855.3 321.8 856.5 323.8C857.7 325.7 858.7 326.7 859.1 327.3C858.2 326.8 855.5 324.7 853.4 324.2C851.4 323.6 848.7 323.6 846.9 324.0C845.1 324.4 843.6 325.6 842.5 326.6C841.4 327.6 840.6 329.4 840.2 330.0C840.1 328.2 840.7 322.9 839.5 319.1C838.3 315.2 835.5 310.7 832.9 307.1C830.3 303.5 826.7 299.9 823.7 297.4C820.7 295.0 817.5 293.7 814.8 292.4C812.2 291.1 810.1 290.6 807.6 289.8C805.2 288.9 801.2 287.6 800.0 287.2C801.4 287.3 806.5 287.6 808.8 287.6C811.2 287.5 812.6 287.8 814.2 287.0C815.9 286.2 817.6 284.1 818.6 282.7C819.6 281.2 819.9 279.2 820.2 278.5C820.9 278.9 822.3 280.2 824.6 280.7C826.9 281.1 831.7 281.7 834.0 281.3C836.4 281.0 836.9 280.2 838.8 278.7C840.8 277.1 843.6 275.0 845.8 272.2C848.0 269.4 850.9 263.6 851.9 261.8Z" fill="#d7d7d6" stroke="#9a9696" stroke-width="1.3" stroke-linejoin="miter" stroke-miterlimit="6"/>
<ellipse cx="840.1" cy="295.0" rx="7.1" ry="6.1" fill="#a9a9a9" transform="rotate(85 840.1 295.0)"/>
<path d="M1143.5 160.5C1144.4 162.1 1146.9 167.7 1148.9 170.2C1150.9 172.7 1152.3 174.0 1155.5 175.5C1158.7 177.1 1164.3 177.7 1168.3 179.7C1172.3 181.8 1176.3 185.7 1179.5 187.7C1182.7 189.8 1184.6 191.2 1187.4 192.1C1190.3 193.0 1194.4 193.0 1196.6 193.1C1198.9 193.3 1200.3 193.1 1201.0 193.1C1200.0 193.6 1196.8 194.6 1195.2 195.9C1193.5 197.2 1192.0 199.4 1191.2 201.1C1190.5 202.8 1190.6 204.7 1190.7 206.2C1190.9 207.7 1192.0 209.4 1192.2 210.0C1190.6 209.1 1186.7 205.5 1182.8 204.2C1179.0 202.9 1173.7 202.5 1169.2 202.5C1164.8 202.5 1159.8 203.2 1156.1 204.2C1152.3 205.2 1149.4 207.1 1146.8 208.5C1144.2 209.9 1142.6 211.3 1140.4 212.8C1138.3 214.3 1135.0 216.7 1133.9 217.5C1134.8 216.3 1138.0 212.4 1139.3 210.5C1140.7 208.5 1141.8 207.6 1142.0 205.8C1142.3 204.0 1141.6 201.4 1141.0 199.7C1140.4 198.1 1139.0 196.6 1138.6 195.9C1139.3 195.6 1141.2 195.3 1142.9 193.7C1144.6 192.1 1147.9 188.5 1149.0 186.4C1150.1 184.3 1149.7 183.4 1149.6 180.9C1149.5 178.4 1149.4 174.9 1148.4 171.5C1147.4 168.1 1144.3 162.3 1143.5 160.5Z" fill="#d7d7d6" stroke="#9a9696" stroke-width="1.3" stroke-linejoin="miter" stroke-miterlimit="6"/>
<ellipse cx="1164.4" cy="190.1" rx="7.1" ry="6.1" fill="#67785c" transform="rotate(30 1164.4 190.1)"/>
<path d="M1118.7 215.5C1120.4 216.2 1125.7 219.3 1128.7 220.2C1131.8 221.0 1133.6 221.2 1137.1 220.6C1140.6 220.0 1145.3 217.2 1149.7 216.5C1154.0 215.8 1159.5 216.6 1163.3 216.4C1167.0 216.2 1169.3 216.3 1172.1 215.3C1174.9 214.4 1178.1 212.0 1180.0 210.8C1181.9 209.6 1182.8 208.6 1183.4 208.2C1182.9 209.1 1181.0 211.8 1180.4 213.9C1179.9 215.9 1180.0 218.5 1180.4 220.3C1180.8 222.1 1182.0 223.6 1183.0 224.7C1184.0 225.8 1185.9 226.6 1186.4 227.0C1184.6 227.1 1179.4 226.5 1175.6 227.7C1171.8 228.9 1167.4 231.7 1163.8 234.3C1160.3 236.9 1156.9 240.4 1154.5 243.4C1152.1 246.3 1150.8 249.5 1149.6 252.2C1148.4 254.8 1148.0 256.9 1147.2 259.3C1146.3 261.8 1145.1 265.7 1144.7 267.0C1144.8 265.5 1145.0 260.5 1144.9 258.1C1144.9 255.8 1145.2 254.4 1144.3 252.8C1143.5 251.2 1141.3 249.5 1139.9 248.5C1138.5 247.5 1136.5 247.1 1135.8 246.9C1136.1 246.1 1137.4 244.8 1137.8 242.5C1138.3 240.3 1138.7 235.5 1138.4 233.1C1138.0 230.8 1137.2 230.3 1135.6 228.4C1134.1 226.4 1131.9 223.6 1129.1 221.5C1126.3 219.3 1120.5 216.5 1118.7 215.5Z" fill="#d7d7d6" stroke="#9a9696" stroke-width="1.3" stroke-linejoin="miter" stroke-miterlimit="6"/>
<ellipse cx="1152.7" cy="226.8" rx="7.0" ry="6.1" fill="#c5409a" transform="rotate(-6 1152.7 226.8)"/>
<path d="M1220.3 171.0C1220.3 172.9 1219.8 178.9 1220.4 182.0C1221.0 185.1 1221.6 186.8 1223.7 189.7C1225.8 192.6 1230.4 195.7 1232.9 199.4C1235.5 203.0 1237.2 208.3 1239.0 211.5C1240.9 214.8 1241.9 216.9 1243.9 219.0C1246.0 221.2 1249.6 223.0 1251.5 224.2C1253.4 225.4 1254.7 225.9 1255.4 226.2C1254.3 226.2 1251.0 225.5 1248.9 225.9C1246.9 226.3 1244.5 227.4 1243.1 228.6C1241.6 229.7 1240.8 231.4 1240.3 232.8C1239.7 234.2 1239.8 236.1 1239.7 236.8C1238.8 235.2 1237.0 230.3 1234.3 227.4C1231.5 224.5 1227.0 221.6 1223.1 219.5C1219.2 217.4 1214.5 215.8 1210.8 214.9C1207.0 214.0 1203.6 214.2 1200.6 214.2C1197.7 214.2 1195.7 214.7 1193.1 215.0C1190.5 215.3 1186.4 215.8 1185.1 216.0C1186.5 215.4 1191.1 213.5 1193.2 212.5C1195.3 211.4 1196.7 211.1 1197.8 209.7C1198.8 208.3 1199.4 205.6 1199.7 203.9C1200.0 202.2 1199.4 200.2 1199.4 199.5C1200.2 199.5 1201.9 200.1 1204.2 199.6C1206.4 199.0 1210.9 197.4 1212.9 196.1C1214.9 194.8 1214.9 193.9 1216.0 191.6C1217.1 189.4 1218.7 186.3 1219.4 182.9C1220.1 179.4 1220.1 173.0 1220.3 171.0Z" fill="#d7d7d6" stroke="#9a9696" stroke-width="1.3" stroke-linejoin="miter" stroke-miterlimit="6"/>
<ellipse cx="1224.6" cy="206.4" rx="7.0" ry="6.1" fill="#c63f31" transform="rotate(59 1224.6 206.4)"/>
<path d="M1225.6 266.4C1224.1 265.5 1219.6 262.0 1216.8 260.8C1214.1 259.7 1212.3 259.3 1208.9 259.4C1205.5 259.6 1200.5 261.6 1196.3 261.7C1192.0 261.8 1186.9 260.5 1183.3 260.2C1179.7 259.9 1177.5 259.6 1174.7 260.2C1171.9 260.7 1168.5 262.6 1166.5 263.5C1164.5 264.3 1163.4 265.1 1162.8 265.5C1163.4 264.6 1165.7 262.3 1166.5 260.5C1167.4 258.7 1167.8 256.2 1167.7 254.5C1167.6 252.8 1166.7 251.3 1165.9 250.1C1165.1 249.0 1163.5 248.0 1163.0 247.6C1164.7 247.7 1169.6 248.9 1173.4 248.2C1177.2 247.5 1181.9 245.5 1185.7 243.5C1189.5 241.5 1193.4 238.6 1196.1 236.1C1198.8 233.6 1200.6 230.8 1202.2 228.5C1203.8 226.2 1204.5 224.3 1205.7 222.1C1206.9 219.9 1208.6 216.4 1209.2 215.3C1209.0 216.7 1207.9 221.3 1207.6 223.5C1207.3 225.7 1206.8 227.0 1207.3 228.6C1207.9 230.2 1209.6 232.0 1210.8 233.1C1212.0 234.2 1213.9 234.8 1214.5 235.1C1214.0 235.7 1212.6 236.8 1211.8 238.9C1211.0 241.0 1209.8 245.3 1209.8 247.6C1209.7 249.8 1210.4 250.4 1211.6 252.4C1212.8 254.4 1214.4 257.2 1216.7 259.6C1219.0 261.9 1224.1 265.3 1225.6 266.4Z" fill="#d7d7d6" stroke="#9a9696" stroke-width="1.3" stroke-linejoin="miter" stroke-miterlimit="6"/>
<ellipse cx="1194.0" cy="244.2" rx="6.7" ry="5.8" fill="#67975a" transform="rotate(182 1194.0 244.2)"/>
<path d="M1285.8 231.4C1284.5 232.6 1280.0 236.4 1278.2 239.0C1276.3 241.6 1275.6 243.2 1275.0 246.7C1274.4 250.2 1275.5 255.6 1274.7 260.0C1273.9 264.3 1271.4 269.2 1270.4 272.8C1269.4 276.4 1268.6 278.5 1268.6 281.5C1268.5 284.5 1269.7 288.3 1270.2 290.5C1270.7 292.7 1271.3 294.0 1271.5 294.7C1270.8 293.9 1268.9 291.1 1267.2 289.9C1265.5 288.6 1263.0 287.7 1261.2 287.4C1259.4 287.2 1257.6 287.7 1256.2 288.3C1254.9 288.8 1253.5 290.3 1253.0 290.7C1253.5 288.9 1255.7 284.2 1255.8 280.2C1255.9 276.3 1254.8 271.0 1253.5 266.8C1252.2 262.5 1250.1 258.0 1248.1 254.7C1246.0 251.3 1243.5 249.0 1241.4 246.9C1239.3 244.7 1237.6 243.6 1235.5 241.9C1233.5 240.3 1230.2 237.7 1229.2 236.9C1230.5 237.4 1235.1 239.5 1237.4 240.3C1239.6 241.1 1240.8 241.9 1242.6 241.7C1244.3 241.5 1246.6 240.1 1248.0 239.1C1249.4 238.1 1250.4 236.4 1250.9 235.8C1251.5 236.4 1252.3 238.1 1254.3 239.3C1256.3 240.6 1260.6 242.8 1262.9 243.3C1265.2 243.8 1265.9 243.2 1268.2 242.5C1270.5 241.7 1273.9 240.7 1276.8 238.9C1279.7 237.0 1284.3 232.6 1285.8 231.4Z" fill="#d7d7d6" stroke="#9a9696" stroke-width="1.3" stroke-linejoin="miter" stroke-miterlimit="6"/>
<ellipse cx="1256.3" cy="258.9" rx="7.0" ry="6.1" fill="#1a1a18" transform="rotate(104 1256.3 258.9)"/>
<path d="M1157.6 257.2C1158.2 258.9 1159.7 264.8 1161.2 267.6C1162.8 270.4 1163.9 271.8 1166.8 273.9C1169.7 276.0 1175.0 277.4 1178.6 280.1C1182.2 282.7 1185.5 287.2 1188.3 289.7C1191.1 292.2 1192.7 293.9 1195.3 295.3C1197.9 296.6 1201.9 297.2 1204.1 297.7C1206.3 298.2 1207.7 298.3 1208.4 298.4C1207.4 298.7 1204.0 299.2 1202.2 300.2C1200.4 301.3 1198.5 303.1 1197.5 304.6C1196.5 306.2 1196.3 308.1 1196.2 309.6C1196.1 311.1 1196.8 312.9 1197.0 313.6C1195.6 312.4 1192.3 308.2 1188.8 306.4C1185.3 304.5 1180.1 303.2 1175.8 302.5C1171.4 301.8 1166.4 301.7 1162.6 302.1C1158.8 302.5 1155.6 303.8 1152.8 304.8C1150.0 305.8 1148.3 306.8 1145.9 308.0C1143.6 309.1 1139.9 310.9 1138.7 311.5C1139.8 310.5 1143.5 307.3 1145.2 305.6C1146.9 303.9 1148.1 303.1 1148.6 301.4C1149.2 299.7 1148.9 297.0 1148.6 295.3C1148.3 293.6 1147.2 291.9 1146.9 291.2C1147.7 290.9 1149.5 290.9 1151.5 289.7C1153.4 288.4 1157.2 285.4 1158.6 283.5C1160.1 281.6 1159.8 280.7 1160.1 278.2C1160.5 275.8 1161.0 272.3 1160.5 268.8C1160.1 265.3 1158.1 259.1 1157.6 257.2Z" fill="#d7d7d6" stroke="#9a9696" stroke-width="1.3" stroke-linejoin="miter" stroke-miterlimit="6"/>
<ellipse cx="1172.9" cy="289.1" rx="7.0" ry="6.1" fill="#ea8f2d" transform="rotate(40 1172.9 289.1)"/>
<path d="M1240.1 250.2C1239.3 251.8 1236.2 257.1 1235.3 260.2C1234.4 263.2 1234.2 265.1 1234.8 268.7C1235.3 272.2 1238.1 277.1 1238.8 281.5C1239.4 285.9 1238.6 291.5 1238.8 295.3C1239.0 299.1 1238.9 301.4 1239.8 304.3C1240.7 307.1 1243.1 310.4 1244.3 312.4C1245.5 314.3 1246.5 315.4 1246.9 315.9C1246.0 315.4 1243.2 313.3 1241.2 312.8C1239.2 312.2 1236.5 312.2 1234.7 312.5C1232.9 312.9 1231.4 314.1 1230.3 315.1C1229.2 316.1 1228.4 317.9 1228.0 318.5C1227.9 316.7 1228.5 311.4 1227.3 307.5C1226.1 303.7 1223.4 299.0 1220.8 295.4C1218.2 291.8 1214.7 288.2 1211.7 285.7C1208.7 283.2 1205.5 281.8 1202.9 280.5C1200.2 279.2 1198.2 278.7 1195.7 277.8C1193.2 276.9 1189.3 275.6 1188.1 275.2C1189.5 275.2 1194.5 275.6 1196.9 275.6C1199.3 275.6 1200.7 275.9 1202.3 275.1C1203.9 274.3 1205.7 272.2 1206.7 270.8C1207.7 269.4 1208.1 267.3 1208.4 266.6C1209.1 267.0 1210.4 268.3 1212.7 268.8C1215.0 269.3 1219.8 269.9 1222.1 269.6C1224.5 269.3 1225.0 268.5 1227.0 266.9C1228.9 265.4 1231.8 263.3 1234.0 260.5C1236.1 257.7 1239.1 251.9 1240.1 250.2Z" fill="#d7d7d6" stroke="#9a9696" stroke-width="1.3" stroke-linejoin="miter" stroke-miterlimit="6"/>
<ellipse cx="1228.1" cy="284.0" rx="7.1" ry="6.1" fill="#f0e3a4" transform="rotate(85 1228.1 284.0)"/>
<path d="M1558.2 169.8C1558.3 171.7 1557.8 177.8 1558.4 180.9C1559.0 184.0 1559.6 185.8 1561.7 188.7C1563.8 191.6 1568.4 194.7 1571.0 198.3C1573.5 202.0 1575.3 207.3 1577.1 210.6C1578.9 213.9 1579.9 216.0 1582.0 218.1C1584.1 220.3 1587.7 222.1 1589.6 223.3C1591.5 224.5 1592.8 225.0 1593.5 225.4C1592.4 225.3 1589.1 224.7 1587.0 225.1C1585.0 225.5 1582.6 226.6 1581.1 227.8C1579.7 228.9 1578.9 230.6 1578.3 232.0C1577.8 233.4 1577.9 235.4 1577.8 236.1C1576.9 234.5 1575.1 229.5 1572.3 226.6C1569.5 223.7 1565.1 220.8 1561.2 218.7C1557.2 216.6 1552.5 215.0 1548.8 214.1C1545.0 213.2 1541.5 213.4 1538.6 213.4C1535.6 213.5 1533.6 213.9 1531.0 214.3C1528.4 214.6 1524.4 215.1 1523.0 215.3C1524.4 214.7 1529.0 212.8 1531.1 211.7C1533.2 210.7 1534.6 210.3 1535.7 208.9C1536.8 207.5 1537.4 204.8 1537.6 203.1C1537.9 201.4 1537.4 199.4 1537.3 198.6C1538.1 198.6 1539.9 199.3 1542.1 198.7C1544.4 198.1 1548.9 196.5 1550.9 195.1C1552.9 193.8 1552.9 192.9 1554.0 190.6C1555.1 188.4 1556.7 185.3 1557.4 181.8C1558.1 178.3 1558.1 171.8 1558.2 169.8Z" fill="#e5ece3" stroke="#9a9696" stroke-width="1.3" stroke-linejoin="miter" stroke-miterlimit="6"/>
<ellipse cx="1562.6" cy="205.2" rx="7.1" ry="6.1" fill="#c63f31" transform="rotate(59 1562.6 205.2)"/>
<path d="M1457.0 213.9C1458.7 214.7 1463.9 217.8 1467.0 218.7C1470.1 219.6 1472.0 219.8 1475.5 219.2C1479.1 218.6 1483.9 215.8 1488.3 215.1C1492.7 214.4 1498.3 215.2 1502.1 215.0C1505.9 214.8 1508.2 214.8 1511.0 213.9C1513.9 212.9 1517.1 210.5 1519.1 209.3C1521.0 208.1 1522.0 207.2 1522.6 206.7C1522.1 207.7 1520.1 210.4 1519.5 212.4C1519.0 214.5 1518.9 217.1 1519.3 218.9C1519.7 220.8 1520.9 222.2 1521.9 223.4C1522.9 224.5 1524.8 225.2 1525.4 225.6C1523.5 225.7 1518.2 225.1 1514.4 226.4C1510.5 227.6 1506.0 230.3 1502.4 232.9C1498.7 235.6 1495.2 239.1 1492.7 242.1C1490.3 245.1 1488.9 248.3 1487.7 251.0C1486.4 253.6 1485.9 255.7 1485.0 258.1C1484.2 260.6 1482.9 264.5 1482.5 265.8C1482.5 264.3 1482.8 259.3 1482.8 257.0C1482.8 254.6 1483.1 253.2 1482.3 251.6C1481.5 249.9 1479.3 248.2 1477.9 247.2C1476.5 246.2 1474.4 245.8 1473.7 245.6C1474.1 244.8 1475.4 243.5 1475.9 241.2C1476.4 238.9 1476.9 234.1 1476.6 231.8C1476.2 229.4 1475.4 228.9 1473.9 227.0C1472.3 225.0 1470.2 222.2 1467.4 220.0C1464.6 217.8 1458.7 215.0 1457.0 213.9Z" fill="#5fad4e" stroke="#9a9696" stroke-width="1.3" stroke-linejoin="miter" stroke-miterlimit="6"/>
<ellipse cx="1491.2" cy="225.6" rx="7.1" ry="6.1" fill="#c5409a" transform="rotate(-5 1491.2 225.6)"/>
<path d="M1563.0 264.9C1561.5 264.0 1557.0 260.6 1554.3 259.4C1551.5 258.3 1549.8 257.9 1546.4 258.1C1543.1 258.2 1538.2 260.2 1534.0 260.4C1529.8 260.5 1524.7 259.2 1521.2 258.9C1517.6 258.7 1515.5 258.4 1512.7 258.9C1509.9 259.5 1506.6 261.3 1504.6 262.2C1502.7 263.0 1501.6 263.8 1501.0 264.1C1501.6 263.3 1503.9 261.1 1504.6 259.3C1505.4 257.5 1505.8 255.1 1505.6 253.4C1505.5 251.7 1504.6 250.2 1503.8 249.1C1503.0 248.0 1501.4 247.1 1500.9 246.7C1502.6 246.8 1507.5 247.9 1511.2 247.2C1514.9 246.5 1519.5 244.5 1523.2 242.6C1526.9 240.6 1530.7 237.8 1533.4 235.3C1536.0 232.9 1537.7 230.1 1539.2 227.8C1540.8 225.6 1541.5 223.8 1542.6 221.6C1543.7 219.5 1545.4 216.0 1546.0 214.9C1545.7 216.3 1544.8 220.8 1544.5 222.9C1544.2 225.1 1543.8 226.3 1544.3 227.9C1544.9 229.5 1546.6 231.3 1547.8 232.3C1549.0 233.4 1550.9 234.0 1551.5 234.3C1551.1 234.9 1549.7 236.0 1548.9 238.0C1548.2 240.0 1547.1 244.3 1547.1 246.5C1547.1 248.7 1547.8 249.2 1549.0 251.2C1550.1 253.1 1551.8 255.9 1554.1 258.2C1556.4 260.5 1561.5 263.8 1563.0 264.9Z" fill="#c8dcc6" stroke="#9a9696" stroke-width="1.3" stroke-linejoin="miter" stroke-miterlimit="6"/>
<ellipse cx="1531.6" cy="242.8" rx="6.6" ry="5.7" fill="#67975a" transform="rotate(182 1531.6 242.8)"/>
<path d="M1624.6 233.4C1623.3 234.7 1618.7 238.5 1616.9 241.1C1615.1 243.6 1614.3 245.3 1613.7 248.7C1613.1 252.2 1614.2 257.5 1613.4 261.9C1612.6 266.2 1610.1 271.0 1609.0 274.6C1608.0 278.1 1607.2 280.3 1607.2 283.2C1607.1 286.1 1608.3 289.9 1608.8 292.1C1609.3 294.3 1609.9 295.5 1610.1 296.2C1609.4 295.4 1607.5 292.6 1605.8 291.5C1604.0 290.3 1601.6 289.4 1599.7 289.2C1597.9 288.9 1596.1 289.5 1594.8 290.1C1593.4 290.6 1592.1 292.1 1591.5 292.5C1592.0 290.8 1594.3 286.1 1594.4 282.1C1594.5 278.2 1593.4 273.1 1592.1 268.9C1590.8 264.7 1588.7 260.3 1586.7 257.0C1584.7 253.8 1582.1 251.5 1580.0 249.4C1577.9 247.3 1576.2 246.2 1574.1 244.6C1572.1 243.0 1568.9 240.5 1567.8 239.7C1569.2 240.3 1573.8 242.2 1576.0 243.0C1578.2 243.7 1579.4 244.5 1581.2 244.3C1583.0 244.0 1585.3 242.6 1586.7 241.6C1588.1 240.7 1589.1 238.9 1589.6 238.4C1590.1 238.9 1590.9 240.6 1592.9 241.8C1594.9 243.0 1599.2 245.1 1601.6 245.5C1603.9 246.0 1604.6 245.4 1606.9 244.6C1609.3 243.9 1612.6 242.8 1615.5 241.0C1618.5 239.1 1623.1 234.7 1624.6 233.4Z" fill="#94c584" stroke="#9a9696" stroke-width="1.3" stroke-linejoin="miter" stroke-miterlimit="6"/>
<ellipse cx="1595.5" cy="260.9" rx="7.0" ry="6.0" fill="#1a1a18" transform="rotate(104 1595.5 260.9)"/>
<path d="M1495.6 255.8C1496.2 257.5 1497.6 263.5 1499.2 266.3C1500.7 269.1 1501.8 270.5 1504.7 272.6C1507.7 274.7 1513.0 276.2 1516.6 278.9C1520.2 281.5 1523.5 286.0 1526.3 288.6C1529.1 291.1 1530.7 292.8 1533.3 294.2C1536.0 295.5 1540.0 296.1 1542.2 296.7C1544.4 297.2 1545.8 297.2 1546.6 297.3C1545.5 297.6 1542.1 298.1 1540.3 299.2C1538.5 300.2 1536.5 302.1 1535.5 303.6C1534.5 305.2 1534.3 307.1 1534.2 308.6C1534.1 310.1 1534.8 312.0 1534.9 312.7C1533.6 311.4 1530.3 307.2 1526.7 305.4C1523.2 303.5 1518.0 302.2 1513.6 301.5C1509.2 300.8 1504.2 300.7 1500.3 301.1C1496.5 301.5 1493.2 302.8 1490.4 303.8C1487.6 304.8 1485.8 305.9 1483.5 307.0C1481.1 308.1 1477.4 310.0 1476.2 310.6C1477.3 309.6 1481.1 306.3 1482.8 304.6C1484.4 302.9 1485.7 302.1 1486.3 300.4C1486.8 298.6 1486.6 295.9 1486.3 294.2C1486.0 292.5 1484.9 290.7 1484.6 290.1C1485.3 289.8 1487.2 289.8 1489.2 288.5C1491.2 287.2 1495.0 284.2 1496.4 282.3C1497.9 280.4 1497.7 279.5 1498.0 277.0C1498.3 274.5 1498.9 271.0 1498.5 267.5C1498.1 263.9 1496.0 257.7 1495.6 255.8Z" fill="#d7d7d6" stroke="#9a9696" stroke-width="1.3" stroke-linejoin="miter" stroke-miterlimit="6"/>
<ellipse cx="1511.0" cy="287.4" rx="7.1" ry="6.1" fill="#ea8f2d" transform="rotate(40 1511.0 287.4)"/>
<path d="M1577.4 250.4C1576.6 252.0 1573.6 257.1 1572.7 260.1C1571.8 263.1 1571.7 264.9 1572.2 268.3C1572.8 271.8 1575.6 276.5 1576.2 280.9C1576.9 285.2 1576.1 290.6 1576.3 294.3C1576.5 297.9 1576.5 300.2 1577.4 303.0C1578.3 305.8 1580.7 309.0 1581.9 310.9C1583.1 312.8 1584.0 313.8 1584.4 314.4C1583.5 313.8 1580.8 311.8 1578.8 311.3C1576.8 310.7 1574.2 310.6 1572.4 311.0C1570.6 311.4 1569.2 312.5 1568.1 313.5C1567.0 314.4 1566.2 316.2 1565.8 316.8C1565.7 315.0 1566.3 309.8 1565.1 306.1C1563.9 302.3 1561.2 297.8 1558.7 294.3C1556.1 290.7 1552.6 287.2 1549.7 284.8C1546.7 282.4 1543.6 281.0 1541.0 279.7C1538.3 278.4 1536.3 278.0 1533.9 277.1C1531.5 276.2 1527.6 274.9 1526.3 274.5C1527.8 274.6 1532.7 274.9 1535.1 274.9C1537.4 274.9 1538.8 275.3 1540.4 274.5C1542.0 273.7 1543.6 271.7 1544.6 270.3C1545.6 268.9 1546.0 266.9 1546.3 266.2C1547.0 266.6 1548.3 267.9 1550.5 268.4C1552.8 268.9 1557.5 269.5 1559.8 269.2C1562.2 268.9 1562.6 268.1 1564.6 266.6C1566.5 265.2 1569.3 263.1 1571.4 260.4C1573.6 257.7 1576.4 252.1 1577.4 250.4Z" fill="#33632f" stroke="#9a9696" stroke-width="1.3" stroke-linejoin="miter" stroke-miterlimit="6"/>
<ellipse cx="1565.7" cy="282.7" rx="6.9" ry="6.0" fill="#f0e3a4" transform="rotate(85 1565.7 282.7)"/>
<path d="M1732.0 172.5C1733.7 173.3 1739.0 176.4 1742.0 177.3C1745.1 178.2 1747.0 178.4 1750.5 177.8C1754.1 177.3 1758.9 174.6 1763.4 173.9C1767.8 173.3 1773.4 174.1 1777.2 174.0C1780.9 173.8 1783.3 173.9 1786.1 173.0C1789.0 172.1 1792.3 169.7 1794.2 168.5C1796.1 167.4 1797.1 166.4 1797.7 166.0C1797.2 166.9 1795.2 169.6 1794.6 171.6C1794.1 173.6 1794.1 176.2 1794.5 178.1C1794.9 179.9 1796.1 181.3 1797.1 182.5C1798.1 183.6 1799.9 184.4 1800.5 184.7C1798.7 184.8 1793.4 184.2 1789.5 185.4C1785.7 186.5 1781.1 189.2 1777.5 191.8C1773.9 194.3 1770.3 197.8 1767.9 200.7C1765.4 203.7 1764.1 206.8 1762.8 209.5C1761.5 212.1 1761.1 214.1 1760.2 216.5C1759.4 219.0 1758.1 222.9 1757.7 224.1C1757.7 222.7 1758.0 217.7 1758.0 215.3C1757.9 213.0 1758.3 211.6 1757.4 210.0C1756.6 208.4 1754.5 206.7 1753.0 205.7C1751.6 204.7 1749.5 204.3 1748.8 204.0C1749.2 203.3 1750.5 202.0 1751.0 199.7C1751.5 197.4 1752.0 192.7 1751.7 190.3C1751.3 188.0 1750.5 187.5 1748.9 185.5C1747.4 183.6 1745.2 180.8 1742.4 178.6C1739.6 176.4 1733.7 173.5 1732.0 172.5Z" fill="#5fad4e" stroke="#9a9696" stroke-width="1.3" stroke-linejoin="miter" stroke-miterlimit="6"/>
<ellipse cx="1766.1" cy="184.1" rx="7.1" ry="6.1" fill="#c5409a" transform="rotate(-5 1766.1 184.1)"/>
<path d="M1832.8 135.6C1832.0 137.3 1828.8 142.5 1827.9 145.5C1827.0 148.6 1826.8 150.4 1827.5 154.0C1828.1 157.5 1830.9 162.3 1831.6 166.7C1832.3 171.1 1831.5 176.6 1831.7 180.3C1831.9 184.1 1831.8 186.4 1832.8 189.2C1833.7 192.1 1836.2 195.3 1837.4 197.2C1838.6 199.2 1839.6 200.2 1840.0 200.8C1839.0 200.2 1836.3 198.2 1834.2 197.7C1832.2 197.1 1829.5 197.1 1827.6 197.5C1825.8 197.9 1824.3 199.0 1823.2 200.0C1822.0 201.0 1821.2 202.9 1820.8 203.4C1820.7 201.6 1821.3 196.3 1820.1 192.5C1818.9 188.7 1816.1 184.2 1813.5 180.6C1810.8 177.0 1807.2 173.4 1804.2 171.0C1801.2 168.5 1797.9 167.2 1795.2 165.9C1792.5 164.7 1790.5 164.2 1788.0 163.3C1785.4 162.5 1781.5 161.2 1780.2 160.7C1781.7 160.8 1786.8 161.1 1789.2 161.1C1791.6 161.1 1793.0 161.4 1794.6 160.6C1796.3 159.8 1798.0 157.7 1799.0 156.3C1800.0 154.8 1800.4 152.8 1800.7 152.1C1801.4 152.5 1802.8 153.8 1805.1 154.3C1807.4 154.8 1812.3 155.3 1814.7 155.0C1817.1 154.7 1817.6 153.8 1819.5 152.3C1821.5 150.8 1824.4 148.7 1826.6 145.9C1828.8 143.1 1831.7 137.3 1832.8 135.6Z" fill="#33632f" stroke="#9a9696" stroke-width="1.3" stroke-linejoin="miter" stroke-miterlimit="6"/>
<ellipse cx="1820.6" cy="168.8" rx="7.1" ry="6.1" fill="#f0e3a4" transform="rotate(85 1820.6 168.8)"/>
<path d="M1774.1 261.9C1773.9 263.7 1773.0 269.6 1773.3 272.8C1773.6 275.9 1774.1 277.7 1775.9 280.7C1777.8 283.8 1782.1 287.2 1784.3 291.0C1786.5 294.8 1787.8 300.2 1789.4 303.6C1790.9 307.0 1791.7 309.1 1793.6 311.4C1795.5 313.6 1798.9 315.8 1800.7 317.1C1802.5 318.4 1803.8 319.0 1804.4 319.4C1803.3 319.3 1800.1 318.4 1798.0 318.6C1795.9 318.9 1793.5 319.8 1791.9 320.8C1790.4 321.9 1789.4 323.5 1788.8 324.8C1788.1 326.1 1788.1 328.1 1787.9 328.8C1787.1 327.1 1785.8 322.0 1783.3 319.0C1780.8 315.9 1776.6 312.7 1772.8 310.3C1769.1 308.0 1764.6 306.0 1760.9 304.8C1757.3 303.6 1753.8 303.6 1750.9 303.4C1747.9 303.2 1745.9 303.5 1743.3 303.6C1740.7 303.7 1736.6 303.9 1735.3 304.0C1736.7 303.5 1741.4 302.0 1743.6 301.1C1745.8 300.2 1747.2 300.0 1748.4 298.7C1749.6 297.3 1750.4 294.7 1750.8 293.1C1751.2 291.4 1750.8 289.4 1750.8 288.6C1751.6 288.7 1753.3 289.5 1755.6 289.1C1757.9 288.7 1762.6 287.4 1764.6 286.3C1766.7 285.1 1766.8 284.2 1768.1 282.1C1769.4 279.9 1771.2 277.0 1772.2 273.6C1773.2 270.2 1773.8 263.8 1774.1 261.9Z" fill="#d7d7d6" stroke="#9a9696" stroke-width="1.3" stroke-linejoin="miter" stroke-miterlimit="6"/>
<ellipse cx="1775.5" cy="296.8" rx="7.0" ry="6.1" fill="#ea8f2d" transform="rotate(63 1775.5 296.8)"/>
<path d="M1867.0 320.8C1865.5 319.8 1860.8 316.0 1857.9 314.7C1855.0 313.4 1853.2 313.0 1849.6 313.1C1846.1 313.2 1840.9 315.2 1836.5 315.2C1832.0 315.3 1826.7 313.7 1823.0 313.4C1819.2 313.0 1816.9 312.7 1814.0 313.2C1811.1 313.7 1807.5 315.6 1805.4 316.5C1803.4 317.4 1802.2 318.2 1801.6 318.5C1802.2 317.7 1804.6 315.3 1805.5 313.4C1806.3 311.5 1806.7 308.9 1806.6 307.1C1806.5 305.2 1805.5 303.6 1804.7 302.4C1803.9 301.2 1802.2 300.1 1801.7 299.7C1803.5 299.8 1808.6 301.2 1812.6 300.5C1816.5 299.9 1821.4 297.9 1825.4 295.8C1829.3 293.8 1833.3 290.8 1836.2 288.2C1839.0 285.7 1840.8 282.7 1842.5 280.3C1844.1 277.9 1844.9 276.0 1846.1 273.7C1847.3 271.4 1849.2 267.7 1849.8 266.5C1849.5 268.0 1848.5 272.8 1848.1 275.1C1847.8 277.5 1847.3 278.8 1847.9 280.5C1848.4 282.2 1850.3 284.2 1851.5 285.3C1852.8 286.5 1854.7 287.2 1855.3 287.5C1854.9 288.2 1853.4 289.3 1852.6 291.5C1851.8 293.6 1850.5 298.2 1850.5 300.6C1850.5 303.0 1851.2 303.5 1852.4 305.7C1853.6 307.8 1855.3 310.9 1857.7 313.4C1860.2 315.9 1865.5 319.6 1867.0 320.8Z" fill="#e5ece3" stroke="#9a9696" stroke-width="1.3" stroke-linejoin="miter" stroke-miterlimit="6"/>
<ellipse cx="1833.5" cy="297.5" rx="7.0" ry="6.1" fill="#c63f31" transform="rotate(183 1833.5 297.5)"/>
<path d="M1203.6 65.7C1202.8 67.3 1199.7 72.6 1198.9 75.7C1198.0 78.7 1197.8 80.6 1198.4 84.1C1199.0 87.7 1201.7 92.5 1202.4 96.9C1203.1 101.3 1202.3 106.8 1202.4 110.6C1202.6 114.4 1202.6 116.7 1203.5 119.5C1204.4 122.3 1206.8 125.6 1208.0 127.5C1209.2 129.4 1210.1 130.4 1210.6 131.0C1209.6 130.5 1206.9 128.5 1204.9 128.0C1202.9 127.4 1200.3 127.4 1198.4 127.8C1196.6 128.2 1195.2 129.4 1194.1 130.4C1192.9 131.4 1192.2 133.2 1191.8 133.8C1191.7 132.0 1192.3 126.7 1191.1 122.9C1189.9 119.1 1187.2 114.5 1184.6 110.9C1182.0 107.3 1178.5 103.8 1175.6 101.3C1172.6 98.9 1169.4 97.6 1166.8 96.3C1164.1 95.0 1162.1 94.6 1159.6 93.7C1157.2 92.8 1153.3 91.6 1152.0 91.2C1153.5 91.2 1158.5 91.5 1160.8 91.5C1163.2 91.4 1164.6 91.7 1166.2 90.9C1167.8 90.1 1169.5 88.0 1170.5 86.6C1171.5 85.1 1171.9 83.1 1172.2 82.4C1172.9 82.8 1174.2 84.1 1176.5 84.5C1178.7 85.0 1183.5 85.5 1185.9 85.2C1188.2 84.9 1188.7 84.0 1190.6 82.5C1192.6 81.0 1195.4 78.8 1197.6 76.0C1199.7 73.2 1202.6 67.4 1203.6 65.7Z" fill="#33632f" stroke="#9a9696" stroke-width="1.3" stroke-linejoin="miter" stroke-miterlimit="6"/>
<ellipse cx="1191.6" cy="99.3" rx="7.1" ry="6.1" fill="#f0e3a4" transform="rotate(85 1191.6 99.3)"/>
<path d="M1308.0 83.7C1309.7 84.5 1315.0 87.6 1318.1 88.5C1321.2 89.4 1323.1 89.6 1326.6 89.0C1330.2 88.4 1335.0 85.7 1339.4 85.0C1343.8 84.3 1349.4 85.2 1353.1 85.0C1356.9 84.8 1359.3 84.9 1362.1 83.9C1364.9 83.0 1368.2 80.6 1370.1 79.5C1372.0 78.3 1373.0 77.3 1373.6 76.9C1373.1 77.8 1371.1 80.5 1370.6 82.5C1370.0 84.6 1370.0 87.2 1370.5 89.0C1370.9 90.8 1372.1 92.3 1373.1 93.4C1374.1 94.5 1376.0 95.3 1376.6 95.6C1374.7 95.8 1369.4 95.1 1365.6 96.3C1361.8 97.5 1357.2 100.2 1353.6 102.8C1350.0 105.4 1346.5 108.8 1344.1 111.8C1341.7 114.8 1340.4 117.9 1339.1 120.6C1337.9 123.2 1337.4 125.2 1336.6 127.7C1335.7 130.1 1334.5 134.0 1334.1 135.3C1334.1 133.8 1334.4 128.8 1334.3 126.5C1334.3 124.1 1334.6 122.7 1333.7 121.1C1332.9 119.5 1330.7 117.8 1329.3 116.8C1327.9 115.8 1325.8 115.4 1325.1 115.2C1325.5 114.4 1326.8 113.1 1327.2 110.9C1327.7 108.6 1328.2 103.8 1327.8 101.5C1327.5 99.1 1326.6 98.7 1325.1 96.7C1323.5 94.8 1321.3 92.0 1318.5 89.8C1315.7 87.6 1309.8 84.7 1308.0 83.7Z" fill="#5fad4e" stroke="#9a9696" stroke-width="1.3" stroke-linejoin="miter" stroke-miterlimit="6"/>
<ellipse cx="1342.0" cy="95.3" rx="7.1" ry="6.1" fill="#c5409a" transform="rotate(-5 1342.0 95.3)"/>
<path d="M1406.9 43.4C1406.1 45.1 1403.0 50.3 1402.1 53.4C1401.2 56.5 1401.0 58.4 1401.6 61.9C1402.1 65.5 1404.9 70.3 1405.6 74.7C1406.2 79.2 1405.4 84.7 1405.6 88.5C1405.7 92.3 1405.7 94.6 1406.6 97.5C1407.5 100.3 1409.9 103.6 1411.1 105.5C1412.3 107.5 1413.3 108.5 1413.7 109.1C1412.7 108.5 1410.0 106.5 1408.0 106.0C1406.0 105.4 1403.3 105.4 1401.5 105.8C1399.6 106.2 1398.1 107.4 1397.0 108.4C1395.9 109.4 1395.1 111.2 1394.7 111.8C1394.6 110.0 1395.3 104.7 1394.1 100.8C1392.9 97.0 1390.1 92.4 1387.5 88.8C1384.9 85.2 1381.4 81.6 1378.5 79.2C1375.5 76.7 1372.3 75.4 1369.6 74.1C1366.9 72.8 1364.9 72.3 1362.4 71.5C1359.9 70.6 1356.0 69.3 1354.7 68.9C1356.2 69.0 1361.2 69.3 1363.6 69.2C1366.0 69.2 1367.4 69.5 1369.0 68.7C1370.7 67.9 1372.4 65.7 1373.4 64.3C1374.4 62.9 1374.8 60.8 1375.1 60.1C1375.8 60.5 1377.1 61.8 1379.4 62.3C1381.7 62.8 1386.5 63.3 1388.9 63.0C1391.3 62.6 1391.8 61.8 1393.7 60.3C1395.7 58.7 1398.6 56.6 1400.8 53.8C1403.0 51.0 1405.9 45.1 1406.9 43.4Z" fill="#33632f" stroke="#9a9696" stroke-width="1.3" stroke-linejoin="miter" stroke-miterlimit="6"/>
<ellipse cx="1394.8" cy="77.0" rx="7.1" ry="6.1" fill="#f0e3a4" transform="rotate(85 1394.8 77.0)"/>
<path d="M1695.0 45.1C1694.2 46.9 1691.2 52.4 1690.4 55.6C1689.5 58.7 1689.4 60.6 1690.0 64.1C1690.6 67.6 1693.4 72.2 1694.2 76.5C1694.9 80.9 1694.2 86.5 1694.4 90.3C1694.7 94.1 1694.6 96.4 1695.6 99.2C1696.6 101.9 1699.0 105.0 1700.2 106.8C1701.4 108.7 1702.4 109.6 1702.8 110.1C1701.9 109.7 1699.2 107.9 1697.1 107.5C1695.1 107.2 1692.5 107.4 1690.7 107.9C1688.9 108.5 1687.4 109.8 1686.3 110.9C1685.2 112.0 1684.5 113.9 1684.1 114.5C1684.0 112.7 1684.5 107.4 1683.2 103.6C1682.0 99.9 1679.2 95.6 1676.6 92.2C1673.9 88.8 1670.4 85.5 1667.4 83.3C1664.4 81.2 1661.2 80.1 1658.5 79.1C1655.9 78.0 1653.8 77.7 1651.4 77.1C1648.9 76.4 1645.0 75.5 1643.7 75.2C1645.2 75.1 1650.2 75.0 1652.5 74.7C1654.9 74.5 1656.3 74.7 1657.9 73.7C1659.5 72.8 1661.2 70.5 1662.1 69.0C1663.1 67.4 1663.5 65.4 1663.7 64.6C1664.5 64.9 1665.8 66.1 1668.1 66.4C1670.4 66.7 1675.1 66.8 1677.5 66.3C1679.8 65.7 1680.3 64.9 1682.2 63.2C1684.1 61.4 1686.9 59.0 1689.1 56.0C1691.2 53.0 1694.0 46.9 1695.0 45.1Z" fill="#d7d7d6" stroke="#9a9696" stroke-width="1.3" stroke-linejoin="miter" stroke-miterlimit="6"/>
<ellipse cx="1683.2" cy="79.1" rx="7.0" ry="6.1" fill="#f0e3a4" transform="rotate(82 1683.2 79.1)"/>
<path d="M1602.8 101.5C1604.5 102.3 1609.9 105.4 1613.0 106.3C1616.1 107.2 1618.0 107.4 1621.6 106.8C1625.2 106.2 1630.1 103.4 1634.6 102.7C1639.0 102.0 1644.7 102.8 1648.5 102.6C1652.3 102.4 1654.7 102.5 1657.6 101.6C1660.4 100.6 1663.8 98.2 1665.7 97.0C1667.6 95.8 1668.7 94.8 1669.3 94.4C1668.7 95.3 1666.7 98.1 1666.1 100.1C1665.6 102.2 1665.6 104.8 1666.0 106.7C1666.4 108.5 1667.6 110.0 1668.6 111.1C1669.7 112.3 1671.5 113.1 1672.1 113.4C1670.3 113.6 1664.9 112.9 1661.0 114.2C1657.1 115.4 1652.5 118.1 1648.8 120.8C1645.2 123.4 1641.6 126.9 1639.1 130.0C1636.7 133.0 1635.3 136.2 1634.0 138.9C1632.7 141.6 1632.3 143.7 1631.4 146.2C1630.5 148.6 1629.3 152.6 1628.8 153.9C1628.9 152.4 1629.2 147.3 1629.1 144.9C1629.1 142.5 1629.4 141.1 1628.6 139.5C1627.7 137.9 1625.6 136.1 1624.1 135.1C1622.7 134.1 1620.6 133.7 1619.9 133.4C1620.3 132.7 1621.6 131.4 1622.1 129.1C1622.5 126.7 1623.1 121.9 1622.7 119.5C1622.4 117.1 1621.5 116.7 1620.0 114.7C1618.4 112.7 1616.2 109.8 1613.4 107.6C1610.5 105.4 1604.6 102.5 1602.8 101.5Z" fill="#d7d7d6" stroke="#9a9696" stroke-width="1.3" stroke-linejoin="miter" stroke-miterlimit="6"/>
<ellipse cx="1636.9" cy="113.4" rx="7.2" ry="6.2" fill="#c5409a" transform="rotate(-5 1636.9 113.4)"/>
<path d="M1653.1 356.3C1653.1 358.2 1652.6 364.3 1653.1 367.5C1653.7 370.7 1654.3 372.5 1656.4 375.5C1658.6 378.5 1663.2 381.7 1665.8 385.4C1668.4 389.2 1670.1 394.6 1672.0 398.0C1673.8 401.3 1674.8 403.5 1676.9 405.7C1679.0 407.9 1682.7 409.8 1684.6 411.0C1686.6 412.3 1687.9 412.8 1688.6 413.1C1687.5 413.1 1684.1 412.4 1682.0 412.8C1679.9 413.2 1677.4 414.3 1675.9 415.4C1674.5 416.6 1673.6 418.3 1673.0 419.7C1672.5 421.1 1672.6 423.2 1672.5 423.9C1671.6 422.2 1669.8 417.1 1667.0 414.1C1664.2 411.2 1659.6 408.2 1655.6 406.0C1651.7 403.9 1646.9 402.1 1643.0 401.2C1639.2 400.2 1635.7 400.4 1632.7 400.4C1629.7 400.4 1627.6 400.9 1625.0 401.1C1622.3 401.4 1618.2 402.0 1616.8 402.1C1618.2 401.5 1622.9 399.6 1625.1 398.6C1627.2 397.5 1628.7 397.2 1629.8 395.7C1630.9 394.3 1631.5 391.6 1631.8 389.9C1632.1 388.1 1631.5 386.1 1631.5 385.3C1632.3 385.3 1634.1 386.0 1636.4 385.4C1638.7 384.9 1643.3 383.3 1645.4 381.9C1647.4 380.6 1647.5 379.6 1648.6 377.4C1649.7 375.1 1651.3 372.0 1652.1 368.4C1652.8 364.9 1652.9 358.3 1653.1 356.3Z" fill="#d7d7d6" stroke="#9a9696" stroke-width="1.3" stroke-linejoin="miter" stroke-miterlimit="6"/>
<ellipse cx="1657.2" cy="392.2" rx="7.2" ry="6.2" fill="#c63f31" transform="rotate(59 1657.2 392.2)"/>
<path d="M1606.2 387.0C1606.8 388.8 1608.2 394.8 1609.7 397.7C1611.2 400.6 1612.4 402.1 1615.2 404.3C1618.1 406.5 1623.4 408.2 1627.0 411.0C1630.5 413.8 1633.8 418.5 1636.5 421.1C1639.3 423.8 1640.9 425.6 1643.5 427.1C1646.1 428.5 1650.1 429.3 1652.3 429.9C1654.5 430.5 1655.9 430.6 1656.6 430.8C1655.6 431.0 1652.2 431.4 1650.4 432.3C1648.5 433.3 1646.6 435.1 1645.6 436.6C1644.6 438.2 1644.4 440.1 1644.3 441.6C1644.1 443.1 1644.9 445.0 1645.0 445.7C1643.6 444.4 1640.4 440.1 1636.9 438.0C1633.4 436.0 1628.3 434.5 1623.9 433.6C1619.6 432.7 1614.6 432.4 1610.8 432.7C1606.9 432.9 1603.7 434.1 1600.9 435.0C1598.1 435.8 1596.4 436.9 1594.0 437.9C1591.6 439.0 1588.0 440.7 1586.8 441.2C1587.8 440.3 1591.6 437.1 1593.3 435.4C1595.0 433.8 1596.2 433.1 1596.8 431.4C1597.4 429.7 1597.1 426.9 1596.9 425.2C1596.6 423.4 1595.5 421.7 1595.2 421.0C1595.9 420.7 1597.8 420.8 1599.8 419.6C1601.7 418.4 1605.5 415.5 1607.0 413.7C1608.4 411.8 1608.2 410.9 1608.5 408.4C1608.9 405.9 1609.4 402.4 1609.0 398.8C1608.6 395.3 1606.7 389.0 1606.2 387.0Z" fill="#d7d7d6" stroke="#9a9696" stroke-width="1.3" stroke-linejoin="miter" stroke-miterlimit="6"/>
<ellipse cx="1620.9" cy="418.9" rx="7.1" ry="6.1" fill="#ea8f2d" transform="rotate(42 1620.9 418.9)"/>
<path d="M1413.1 428.4C1411.6 427.4 1406.9 423.7 1403.9 422.5C1401.0 421.2 1399.3 420.8 1395.7 420.9C1392.2 421.1 1387.0 423.2 1382.6 423.3C1378.2 423.5 1372.9 422.0 1369.1 421.7C1365.4 421.4 1363.1 421.1 1360.2 421.6C1357.3 422.2 1353.7 424.2 1351.7 425.2C1349.6 426.1 1348.5 426.9 1347.9 427.3C1348.5 426.4 1350.9 424.0 1351.7 422.0C1352.5 420.1 1352.9 417.4 1352.7 415.6C1352.6 413.7 1351.6 412.1 1350.8 410.9C1350.0 409.6 1348.3 408.6 1347.8 408.2C1349.6 408.3 1354.7 409.6 1358.6 408.9C1362.5 408.1 1367.4 406.0 1371.3 403.8C1375.2 401.7 1379.1 398.7 1381.9 396.0C1384.8 393.3 1386.5 390.3 1388.1 387.8C1389.7 385.4 1390.5 383.4 1391.6 381.1C1392.8 378.7 1394.6 375.0 1395.2 373.8C1394.9 375.2 1394.0 380.2 1393.7 382.5C1393.4 384.9 1392.9 386.2 1393.5 387.9C1394.0 389.6 1395.9 391.6 1397.2 392.8C1398.4 394.0 1400.4 394.6 1401.0 395.0C1400.6 395.6 1399.1 396.8 1398.3 399.0C1397.5 401.2 1396.4 405.9 1396.4 408.3C1396.4 410.7 1397.1 411.2 1398.4 413.4C1399.6 415.5 1401.3 418.6 1403.8 421.1C1406.2 423.6 1411.6 427.2 1413.1 428.4Z" fill="#e5ece3" stroke="#9a9696" stroke-width="1.3" stroke-linejoin="miter" stroke-miterlimit="6"/>
<ellipse cx="1379.1" cy="405.3" rx="7.1" ry="6.1" fill="#c63f31" transform="rotate(182 1379.1 405.3)"/>
<path d="M1316.6 397.1C1317.2 398.8 1318.6 404.8 1320.1 407.7C1321.7 410.5 1322.8 412.0 1325.7 414.2C1328.7 416.5 1334.1 418.2 1337.7 420.9C1341.3 423.7 1344.6 428.4 1347.4 431.0C1350.2 433.7 1351.8 435.5 1354.5 436.9C1357.2 438.4 1361.3 439.2 1363.5 439.8C1365.7 440.4 1367.1 440.5 1367.8 440.6C1366.8 440.9 1363.4 441.2 1361.5 442.2C1359.7 443.2 1357.7 444.9 1356.7 446.4C1355.6 448.0 1355.4 449.8 1355.3 451.3C1355.2 452.8 1355.9 454.7 1356.0 455.4C1354.6 454.1 1351.4 449.8 1347.8 447.8C1344.2 445.8 1339.0 444.2 1334.5 443.3C1330.1 442.4 1325.0 442.2 1321.1 442.4C1317.2 442.6 1313.9 443.8 1311.1 444.6C1308.3 445.5 1306.4 446.5 1304.0 447.5C1301.6 448.6 1297.9 450.3 1296.6 450.8C1297.8 449.9 1301.6 446.7 1303.3 445.1C1305.1 443.5 1306.3 442.8 1306.9 441.1C1307.5 439.4 1307.2 436.6 1307.0 434.9C1306.7 433.2 1305.5 431.4 1305.3 430.7C1306.0 430.5 1307.9 430.6 1309.9 429.4C1311.9 428.2 1315.8 425.4 1317.3 423.5C1318.8 421.7 1318.6 420.8 1318.9 418.3C1319.3 415.9 1319.8 412.4 1319.4 408.8C1319.0 405.3 1317.0 399.0 1316.6 397.1Z" fill="#d7d7d6" stroke="#9a9696" stroke-width="1.3" stroke-linejoin="miter" stroke-miterlimit="6"/>
<ellipse cx="1332.1" cy="428.9" rx="7.2" ry="6.2" fill="#ea8f2d" transform="rotate(42 1332.1 428.9)"/>
<path d="M1226.8 395.6C1224.9 395.8 1218.8 396.1 1215.7 397.0C1212.6 397.9 1210.9 398.8 1208.2 401.2C1205.6 403.6 1203.0 408.5 1199.6 411.4C1196.3 414.4 1191.1 416.7 1188.0 418.9C1184.9 421.1 1182.9 422.3 1181.0 424.6C1179.2 426.9 1177.7 430.7 1176.7 432.7C1175.8 434.7 1175.4 436.1 1175.2 436.8C1175.1 435.7 1175.3 432.3 1174.7 430.4C1174.0 428.4 1172.6 426.2 1171.2 424.9C1169.9 423.6 1168.1 423.0 1166.6 422.6C1165.2 422.2 1163.2 422.6 1162.5 422.6C1164.0 421.5 1168.8 419.1 1171.4 416.0C1173.9 413.0 1176.3 408.2 1177.9 404.1C1179.6 400.0 1180.7 395.2 1181.1 391.4C1181.5 387.6 1180.9 384.2 1180.5 381.3C1180.1 378.4 1179.4 376.5 1178.8 373.9C1178.2 371.4 1177.1 367.5 1176.8 366.2C1177.5 367.4 1180.0 371.8 1181.3 373.7C1182.7 375.7 1183.2 377.0 1184.8 377.9C1186.3 378.8 1189.1 379.1 1190.8 379.2C1192.6 379.2 1194.5 378.4 1195.3 378.3C1195.4 379.1 1195.0 380.9 1195.8 383.0C1196.7 385.2 1198.8 389.5 1200.4 391.3C1202.0 393.1 1203.0 393.0 1205.3 393.8C1207.7 394.6 1211.1 395.8 1214.7 396.1C1218.2 396.4 1224.8 395.6 1226.8 395.6Z" fill="#d7d7d6" stroke="#9a9696" stroke-width="1.3" stroke-linejoin="miter" stroke-miterlimit="6"/>
<ellipse cx="1191.6" cy="404.0" rx="7.1" ry="6.1" fill="#ea8f2d" transform="rotate(142 1191.6 404.0)"/>
<line x1="910.3" y1="265.7" x2="1097.0" y2="265.7" stroke="#1a1a1a" stroke-width="3.0"/>
<path d="M1128.0 265.7L1096.0 274.1L1096.0 257.3Z" fill="#1a1a1a"/>
<line x1="1287.9" y1="265.6" x2="1426.5" y2="265.6" stroke="#1a1a1a" stroke-width="3.0"/>
<path d="M1457.5 265.6L1425.5 274.0L1425.5 257.2Z" fill="#1a1a1a"/>
<line x1="1300.8" y1="84.6" x2="1237.9" y2="84.6" stroke="#1a1a1a" stroke-width="3.0"/>
<path d="M1206.9 84.6L1238.9 76.2L1238.9 93.0Z" fill="#1a1a1a"/>
<line x1="1588.8" y1="84.7" x2="1456.5" y2="84.7" stroke="#1a1a1a" stroke-width="3.0"/>
<path d="M1425.5 84.7L1457.5 76.3L1457.5 93.1Z" fill="#1a1a1a"/>
<line x1="1300.0" y1="421.4" x2="1237.9" y2="421.4" stroke="#1a1a1a" stroke-width="3.0"/>
<path d="M1206.9 421.4L1238.9 413.0L1238.9 429.8Z" fill="#1a1a1a"/>
<line x1="1588.8" y1="421.7" x2="1456.5" y2="421.7" stroke="#1a1a1a" stroke-width="3.0"/>
<path d="M1425.5 421.7L1457.5 413.3L1457.5 430.1Z" fill="#1a1a1a"/>
<path d="M1811.6 131.9V84.8H1740" fill="none" stroke="#1a1a1a" stroke-width="3.0"/>
<line x1="1745.0" y1="84.8" x2="1741.0" y2="84.8" stroke="#1a1a1a" stroke-width="3.0"/>
<path d="M1710.0 84.8L1742.0 76.4L1742.0 93.2Z" fill="#1a1a1a"/>
<path d="M1811.6 375V421.7H1740" fill="none" stroke="#1a1a1a" stroke-width="3.0"/>
<line x1="1745.0" y1="421.7" x2="1741.0" y2="421.7" stroke="#1a1a1a" stroke-width="3.0"/>
<path d="M1710.0 421.7L1742.0 413.3L1742.0 430.1Z" fill="#1a1a1a"/>
<line x1="1630.3" y1="262.8" x2="1687.8" y2="230.1" stroke="#1a1a1a" stroke-width="3.0"/>
<path d="M1712.1 216.3L1691.8 239.3L1681.9 221.9Z" fill="#1a1a1a"/>
<line x1="1630.3" y1="262.8" x2="1688.2" y2="295.9" stroke="#1a1a1a" stroke-width="3.0"/>
<path d="M1712.5 309.8L1682.4 304.1L1692.3 286.7Z" fill="#1a1a1a"/>
<path d="M1632.5 261.5L1630.3 262.8L1632.5 264.1" fill="none" stroke="#1a1a1a" stroke-width="3.0" stroke-linejoin="miter"/>
<path d="M1336.9 256V242.8M1346.9 256V242.8M1356.9 256V242.8M1367.0 256V242.8M1377.0 256V242.8M1387.0 256V242.8M1397.0 256V242.8" stroke="#c4242b" stroke-width="2.4" fill="none"/>
<line x1="1331.9" y1="256" x2="1402" y2="256" stroke="#c4242b" stroke-width="3.8"/>
<path d="M1488.6 78.9V65.7M1498.6 78.9V65.7M1508.7 78.9V65.7M1518.7 78.9V65.7M1528.7 78.9V65.7M1538.8 78.9V65.7M1548.8 78.9V65.7" stroke="#c4242b" stroke-width="2.4" fill="none"/>
<line x1="1483.6" y1="78.9" x2="1553.8" y2="78.9" stroke="#c4242b" stroke-width="3.8"/>
<path d="M1487.5 413.5V400M1497.5 413.5V400M1507.5 413.5V400M1517.5 413.5V400M1527.4 413.5V400M1537.4 413.5V400M1547.4 413.5V400" stroke="#c4242b" stroke-width="2.4" fill="none"/>
<line x1="1482.5" y1="413.5" x2="1552.4" y2="413.5" stroke="#c4242b" stroke-width="3.8"/>
<circle cx="923.0" cy="173.7" r="2.1" fill="#cbc7c7"/>
<circle cx="942.9" cy="182.5" r="2.1" fill="#cbc7c7"/>
<circle cx="945.2" cy="204.2" r="2.1" fill="#cbc7c7"/>
<circle cx="927.6" cy="217.0" r="2.1" fill="#cbc7c7"/>
<circle cx="907.7" cy="208.2" r="2.1" fill="#cbc7c7"/>
<circle cx="905.4" cy="186.5" r="2.1" fill="#cbc7c7"/>
<path d="M923.6 179.2L923.0 173.7M938.4 185.8L942.9 182.5M940.1 201.9L945.2 204.2M927.0 211.5L927.6 217.0M912.2 204.9L907.7 208.2M910.5 188.8L905.4 186.5" stroke="#cbc7c7" stroke-width="1.6"/>
<circle cx="925.3" cy="195.4" r="16.2" fill="#d9d5d5" stroke="#d0cccc" stroke-width="1"/>
<circle cx="925.3" cy="195.4" r="13.2" fill="#e4e1e1" stroke="#cfcbcb" stroke-width="0.9" stroke-dasharray="7 2.5"/>
<path d="M915.3 198.4C915.3 183.9 920.3 183.9 920.3 195.4C920.3 206.9 925.3 206.9 925.3 195.4C925.3 183.9 930.3 183.9 930.3 195.4C930.3 206.9 935.3 206.9 935.3 195.4" fill="none" stroke="#ee8352" stroke-width="2.9" stroke-linecap="round" transform="rotate(-35 925.3 195.4)"/>
<path d="M915.3 198.4C915.3 183.9 920.3 183.9 920.3 195.4C920.3 206.9 925.3 206.9 925.3 195.4C925.3 183.9 930.3 183.9 930.3 195.4C930.3 206.9 935.3 206.9 935.3 195.4" fill="none" stroke="#ece4e0" stroke-width="1.5" stroke-linecap="round" opacity="0.8" transform="rotate(-35 925.3 195.4)"/>
<circle cx="968.2" cy="178.5" r="2.1" fill="#cbc7c7"/>
<circle cx="985.4" cy="191.9" r="2.1" fill="#cbc7c7"/>
<circle cx="982.3" cy="213.5" r="2.1" fill="#cbc7c7"/>
<circle cx="962.1" cy="221.6" r="2.1" fill="#cbc7c7"/>
<circle cx="944.9" cy="208.2" r="2.1" fill="#cbc7c7"/>
<circle cx="948.0" cy="186.6" r="2.1" fill="#cbc7c7"/>
<path d="M967.4 184.0L968.2 178.5M980.2 194.0L985.4 191.9M977.9 210.0L982.3 213.5M962.9 216.1L962.1 221.6M950.1 206.1L944.9 208.2M952.4 190.1L948.0 186.6" stroke="#cbc7c7" stroke-width="1.6"/>
<circle cx="965.1" cy="200.1" r="16.2" fill="#d9d5d5" stroke="#d0cccc" stroke-width="1"/>
<circle cx="965.1" cy="200.1" r="13.2" fill="#e4e1e1" stroke="#cfcbcb" stroke-width="0.9" stroke-dasharray="7 2.5"/>
<path d="M955.1 203.1C955.1 188.6 960.1 188.6 960.1 200.1C960.1 211.6 965.1 211.6 965.1 200.1C965.1 188.6 970.1 188.6 970.1 200.1C970.1 211.6 975.1 211.6 975.1 200.1" fill="none" stroke="#4f7a66" stroke-width="2.9" stroke-linecap="round" transform="rotate(35 965.1 200.1)"/>
<path d="M955.1 203.1C955.1 188.6 960.1 188.6 960.1 200.1C960.1 211.6 965.1 211.6 965.1 200.1C965.1 188.6 970.1 188.6 970.1 200.1C970.1 211.6 975.1 211.6 975.1 200.1" fill="none" stroke="#ece4e0" stroke-width="1.5" stroke-linecap="round" opacity="0.8" transform="rotate(35 965.1 200.1)"/>
<circle cx="1010.9" cy="172.9" r="2.1" fill="#cbc7c7"/>
<circle cx="1030.8" cy="181.7" r="2.1" fill="#cbc7c7"/>
<circle cx="1033.1" cy="203.4" r="2.1" fill="#cbc7c7"/>
<circle cx="1015.4" cy="216.2" r="2.1" fill="#cbc7c7"/>
<circle cx="995.5" cy="207.3" r="2.1" fill="#cbc7c7"/>
<circle cx="993.2" cy="185.7" r="2.1" fill="#cbc7c7"/>
<path d="M1011.5 178.4L1010.9 172.9M1026.3 185.0L1030.8 181.7M1028.0 201.1L1033.1 203.4M1014.8 210.6L1015.4 216.2M1000.1 204.1L995.5 207.3M998.4 187.9L993.2 185.7" stroke="#cbc7c7" stroke-width="1.6"/>
<circle cx="1013.2" cy="194.5" r="16.2" fill="#d9d5d5" stroke="#d0cccc" stroke-width="1"/>
<circle cx="1013.2" cy="194.5" r="13.2" fill="#e4e1e1" stroke="#cfcbcb" stroke-width="0.9" stroke-dasharray="7 2.5"/>
<path d="M1003.2 197.5C1003.2 183.0 1008.2 183.0 1008.2 194.5C1008.2 206.0 1013.2 206.0 1013.2 194.5C1013.2 183.0 1018.2 183.0 1018.2 194.5C1018.2 206.0 1023.2 206.0 1023.2 194.5" fill="none" stroke="#d56bc5" stroke-width="2.9" stroke-linecap="round" transform="rotate(-12 1013.2 194.5)"/>
<path d="M1003.2 197.5C1003.2 183.0 1008.2 183.0 1008.2 194.5C1008.2 206.0 1013.2 206.0 1013.2 194.5C1013.2 183.0 1018.2 183.0 1018.2 194.5C1018.2 206.0 1023.2 206.0 1023.2 194.5" fill="none" stroke="#ece4e0" stroke-width="1.5" stroke-linecap="round" opacity="0.8" transform="rotate(-12 1013.2 194.5)"/>
<circle cx="1057.0" cy="172.3" r="2.1" fill="#cbc7c7"/>
<circle cx="1074.2" cy="185.8" r="2.1" fill="#cbc7c7"/>
<circle cx="1071.2" cy="207.3" r="2.1" fill="#cbc7c7"/>
<circle cx="1051.0" cy="215.5" r="2.1" fill="#cbc7c7"/>
<circle cx="1033.8" cy="202.1" r="2.1" fill="#cbc7c7"/>
<circle cx="1036.8" cy="180.5" r="2.1" fill="#cbc7c7"/>
<path d="M1056.3 177.9L1057.0 172.3M1069.0 187.9L1074.2 185.8M1066.8 203.9L1071.2 207.3M1051.8 210.0L1051.0 215.5M1039.0 200.0L1033.8 202.1M1041.2 183.9L1036.8 180.5" stroke="#cbc7c7" stroke-width="1.6"/>
<circle cx="1054.0" cy="193.9" r="16.2" fill="#d9d5d5" stroke="#d0cccc" stroke-width="1"/>
<circle cx="1054.0" cy="193.9" r="13.2" fill="#e4e1e1" stroke="#cfcbcb" stroke-width="0.9" stroke-dasharray="7 2.5"/>
<path d="M1044.0 196.9C1044.0 182.4 1049.0 182.4 1049.0 193.9C1049.0 205.4 1054.0 205.4 1054.0 193.9C1054.0 182.4 1059.0 182.4 1059.0 193.9C1059.0 205.4 1064.0 205.4 1064.0 193.9" fill="none" stroke="#4a3f86" stroke-width="2.9" stroke-linecap="round" transform="rotate(0 1054.0 193.9)"/>
<path d="M1044.0 196.9C1044.0 182.4 1049.0 182.4 1049.0 193.9C1049.0 205.4 1054.0 205.4 1054.0 193.9C1054.0 182.4 1059.0 182.4 1059.0 193.9C1059.0 205.4 1064.0 205.4 1064.0 193.9" fill="none" stroke="#ece4e0" stroke-width="1.5" stroke-linecap="round" opacity="0.8" transform="rotate(0 1054.0 193.9)"/>
<circle cx="944.5" cy="211.1" r="2.1" fill="#cbc7c7"/>
<circle cx="964.4" cy="219.9" r="2.1" fill="#cbc7c7"/>
<circle cx="966.7" cy="241.6" r="2.1" fill="#cbc7c7"/>
<circle cx="949.0" cy="254.4" r="2.1" fill="#cbc7c7"/>
<circle cx="929.1" cy="245.6" r="2.1" fill="#cbc7c7"/>
<circle cx="926.8" cy="223.9" r="2.1" fill="#cbc7c7"/>
<path d="M945.1 216.6L944.5 211.1M959.9 223.2L964.4 219.9M961.6 239.3L966.7 241.6M948.5 248.8L949.0 254.4M933.7 242.3L929.1 245.6M932.0 226.1L926.8 223.9" stroke="#cbc7c7" stroke-width="1.6"/>
<circle cx="946.8" cy="232.7" r="16.2" fill="#d9d5d5" stroke="#d0cccc" stroke-width="1"/>
<circle cx="946.8" cy="232.7" r="13.2" fill="#e4e1e1" stroke="#cfcbcb" stroke-width="0.9" stroke-dasharray="7 2.5"/>
<path d="M936.8 235.7C936.8 221.2 941.8 221.2 941.8 232.7C941.8 244.2 946.8 244.2 946.8 232.7C946.8 221.2 951.8 221.2 951.8 232.7C951.8 244.2 956.8 244.2 956.8 232.7" fill="none" stroke="#d8502e" stroke-width="2.9" stroke-linecap="round" transform="rotate(5 946.8 232.7)"/>
<path d="M936.8 235.7C936.8 221.2 941.8 221.2 941.8 232.7C941.8 244.2 946.8 244.2 946.8 232.7C946.8 221.2 951.8 221.2 951.8 232.7C951.8 244.2 956.8 244.2 956.8 232.7" fill="none" stroke="#ece4e0" stroke-width="1.5" stroke-linecap="round" opacity="0.8" transform="rotate(5 946.8 232.7)"/>
<circle cx="993.7" cy="209.1" r="2.1" fill="#cbc7c7"/>
<circle cx="1010.9" cy="222.5" r="2.1" fill="#cbc7c7"/>
<circle cx="1007.9" cy="244.1" r="2.1" fill="#cbc7c7"/>
<circle cx="987.7" cy="252.3" r="2.1" fill="#cbc7c7"/>
<circle cx="970.5" cy="238.9" r="2.1" fill="#cbc7c7"/>
<circle cx="973.5" cy="217.3" r="2.1" fill="#cbc7c7"/>
<path d="M992.9 214.7L993.7 209.1M1005.7 224.6L1010.9 222.5M1003.5 240.7L1007.9 244.1M988.4 246.7L987.7 252.3M975.7 236.8L970.5 238.9M977.9 220.7L973.5 217.3" stroke="#cbc7c7" stroke-width="1.6"/>
<circle cx="990.7" cy="230.7" r="16.2" fill="#d9d5d5" stroke="#d0cccc" stroke-width="1"/>
<circle cx="990.7" cy="230.7" r="13.2" fill="#e4e1e1" stroke="#cfcbcb" stroke-width="0.9" stroke-dasharray="7 2.5"/>
<path d="M980.7 233.7C980.7 219.2 985.7 219.2 985.7 230.7C985.7 242.2 990.7 242.2 990.7 230.7C990.7 219.2 995.7 219.2 995.7 230.7C995.7 242.2 1000.7 242.2 1000.7 230.7" fill="none" stroke="#f0963f" stroke-width="2.9" stroke-linecap="round" transform="rotate(-40 990.7 230.7)"/>
<path d="M980.7 233.7C980.7 219.2 985.7 219.2 985.7 230.7C985.7 242.2 990.7 242.2 990.7 230.7C990.7 219.2 995.7 219.2 995.7 230.7C995.7 242.2 1000.7 242.2 1000.7 230.7" fill="none" stroke="#ece4e0" stroke-width="1.5" stroke-linecap="round" opacity="0.8" transform="rotate(-40 990.7 230.7)"/>
<circle cx="1041.5" cy="209.0" r="2.1" fill="#cbc7c7"/>
<circle cx="1061.4" cy="217.9" r="2.1" fill="#cbc7c7"/>
<circle cx="1063.7" cy="239.6" r="2.1" fill="#cbc7c7"/>
<circle cx="1046.1" cy="252.4" r="2.1" fill="#cbc7c7"/>
<circle cx="1026.2" cy="243.5" r="2.1" fill="#cbc7c7"/>
<circle cx="1023.9" cy="221.8" r="2.1" fill="#cbc7c7"/>
<path d="M1042.1 214.6L1041.5 209.0M1056.9 221.2L1061.4 217.9M1058.6 237.3L1063.7 239.6M1045.5 246.8L1046.1 252.4M1030.7 240.2L1026.2 243.5M1029.0 224.1L1023.9 221.8" stroke="#cbc7c7" stroke-width="1.6"/>
<circle cx="1043.8" cy="230.7" r="16.2" fill="#d9d5d5" stroke="#d0cccc" stroke-width="1"/>
<circle cx="1043.8" cy="230.7" r="13.2" fill="#e4e1e1" stroke="#cfcbcb" stroke-width="0.9" stroke-dasharray="7 2.5"/>
<path d="M1033.8 233.7C1033.8 219.2 1038.8 219.2 1038.8 230.7C1038.8 242.2 1043.8 242.2 1043.8 230.7C1043.8 219.2 1048.8 219.2 1048.8 230.7C1048.8 242.2 1053.8 242.2 1053.8 230.7" fill="none" stroke="#3f6d42" stroke-width="2.9" stroke-linecap="round" transform="rotate(75 1043.8 230.7)"/>
<path d="M1033.8 233.7C1033.8 219.2 1038.8 219.2 1038.8 230.7C1038.8 242.2 1043.8 242.2 1043.8 230.7C1043.8 219.2 1048.8 219.2 1048.8 230.7C1048.8 242.2 1053.8 242.2 1053.8 230.7" fill="none" stroke="#ece4e0" stroke-width="1.5" stroke-linecap="round" opacity="0.8" transform="rotate(75 1043.8 230.7)"/>
<text x="733.9" y="353.3" font-size="20.7" fill="#1a1a1a">HEK293-Cas9-EGFPsr</text>
<text x="924.3" y="292.4" font-size="17.3" fill="#1a1a1a">WG sgRNA LV library</text>
<text x="1323.3" y="290.8" font-size="17.2" fill="#1a1a1a">25 nM SS-ASO</text>
<text x="1319.6" y="307.5" font-size="17.2" fill="#1a1a1a">3d treatment</text>
<text x="1462.9" y="108.0" font-size="17.2" fill="#1a1a1a">25 nM SS-ASO</text>
<text x="1474.7" y="126.9" font-size="17.2" fill="#1a1a1a">3d treatment</text>
<text x="1462.9" y="446.3" font-size="17.2" fill="#1a1a1a">25 nM SS-ASO</text>
<text x="1474.7" y="464.5" font-size="17.2" fill="#1a1a1a">3d treatment</text>
<text x="1716.0" y="108.7" font-size="17.2" fill="#1a1a1a">7d recovery</text>
<text x="1716.0" y="448.5" font-size="17.2" fill="#1a1a1a">7d recovery</text>
<text x="1216.7" y="107.5" font-size="17.2" fill="#1a1a1a">FACS sort</text>
<text x="1226.8" y="128.2" font-size="17.2" fill="#1a1a1a">round 2</text>
<text x="1216.6" y="447.4" font-size="17.2" fill="#1a1a1a">FACS sort</text>
<text x="1226.8" y="468.2" font-size="17.2" fill="#1a1a1a">round 2</text>
<text x="1660.8" y="261.6" font-size="17.2" fill="#1a1a1a">FACS sort</text>
<text x="1670.7" y="282.0" font-size="17.2" fill="#1a1a1a">round 1</text>
<text x="1097.6" y="112.7" font-size="20.5" fill="#1a1a1a">SORT2</text>
<line x1="1097.6" y1="115.4" x2="1165.0" y2="115.4" stroke="#1a1a1a" stroke-width="1.3"/>
<text x="1097.6" y="136.9" font-size="20.5" fill="#1a1a1a">GFP+</text>
<line x1="1097.6" y1="139.6" x2="1151.2" y2="139.6" stroke="#1a1a1a" stroke-width="1.3"/>
<text x="1097.8" y="412.6" font-size="20.5" fill="#1a1a1a">SORT2</text>
<line x1="1097.8" y1="415.3" x2="1165.2" y2="415.3" stroke="#1a1a1a" stroke-width="1.3"/>
<text x="1097.8" y="437.6" font-size="20.5" fill="#1a1a1a">GFP-</text>
<line x1="1097.8" y1="440.3" x2="1146.3" y2="440.3" stroke="#1a1a1a" stroke-width="1.3"/>
<text x="1512.8" y="338.7" font-size="20.3" fill="#1a1a1a">BULK</text>
<line x1="1512.8" y1="341.4" x2="1565.7" y2="341.4" stroke="#1a1a1a" stroke-width="1.3"/>
<text x="1749.6" y="242.8" font-size="20.5" fill="#1a1a1a">SORT1 GFP+</text>
<line x1="1749.6" y1="245.5" x2="1877.4" y2="245.5" stroke="#1a1a1a" stroke-width="1.3"/>
<text x="1749.6" y="350.9" font-size="20.5" fill="#1a1a1a">SORT1 GFP-</text>
<line x1="1749.6" y1="353.6" x2="1872.3" y2="353.6" stroke="#1a1a1a" stroke-width="1.3"/>
<line x1="252.1" x2="252.1" y1="564.4" y2="1122.6" stroke="#f2f2f2" stroke-width="0.8"/>
<line x1="439.6" x2="439.6" y1="564.4" y2="1122.6" stroke="#f2f2f2" stroke-width="0.8"/>
<line x1="627.0" x2="627.0" y1="564.4" y2="1122.6" stroke="#f2f2f2" stroke-width="0.8"/>
<line x1="814.5" x2="814.5" y1="564.4" y2="1122.6" stroke="#f2f2f2" stroke-width="0.8"/>
<line x1="79" x2="985.8" y1="1031.2" y2="1031.2" stroke="#f2f2f2" stroke-width="0.8"/>
<line x1="79" x2="985.8" y1="828.5" y2="828.5" stroke="#f2f2f2" stroke-width="0.8"/>
<line x1="79" x2="985.8" y1="625.8" y2="625.8" stroke="#f2f2f2" stroke-width="0.8"/>
<line x1="158.3" x2="158.3" y1="564.4" y2="1122.6" stroke="#ebebeb" stroke-width="1"/>
<line x1="345.8" x2="345.8" y1="564.4" y2="1122.6" stroke="#ebebeb" stroke-width="1"/>
<line x1="533.3" x2="533.3" y1="564.4" y2="1122.6" stroke="#ebebeb" stroke-width="1"/>
<line x1="720.8" x2="720.8" y1="564.4" y2="1122.6" stroke="#ebebeb" stroke-width="1"/>
<line x1="908.3" x2="908.3" y1="564.4" y2="1122.6" stroke="#ebebeb" stroke-width="1"/>
<line x1="76.5" x2="985.8" y1="929.9" y2="929.9" stroke="#ebebeb" stroke-width="1"/>
<line x1="76.5" x2="985.8" y1="727.2" y2="727.2" stroke="#ebebeb" stroke-width="1"/>
<path d="M79 564.4H985.8V1122.6H79" fill="none" stroke="#e2e2e2" stroke-width="1.1"/>
<path d="M398.4 1083.3h0M406.2 1081.9h0M357.9 1092.8h0M389.9 1055.7h0M308.4 1090.5h0M309.3 1091.7h0M450.0 1085.6h0M365.0 1093.0h0M245.7 1083.1h0M437.3 1098.4h0M313.4 1096.7h0M393.4 1080.6h0M470.7 1088.4h0M348.0 1091.5h0M341.9 1098.0h0M445.6 1097.4h0M438.9 1046.8h0M312.4 1083.1h0M333.8 1084.2h0M425.0 1093.6h0M376.5 1077.7h0M483.1 1067.7h0M303.0 1088.9h0M317.5 1086.9h0M406.6 1079.6h0M403.4 1092.8h0M464.6 997.8h0M549.5 1048.5h0M383.5 1091.7h0M414.4 1093.5h0M252.3 1095.0h0M310.5 1089.1h0M369.1 1090.8h0M370.0 1081.8h0M376.1 1093.6h0M423.6 1058.3h0M283.6 1085.1h0M386.7 1081.0h0M262.8 1097.9h0M341.6 1093.8h0M541.4 1000.0h0M437.8 1080.9h0M368.8 1071.3h0M352.7 1075.1h0M415.8 1079.2h0M370.3 1081.2h0M273.5 1095.4h0M486.0 1074.8h0M517.9 1070.8h0M442.1 1094.5h0M333.5 1092.9h0M525.9 1091.6h0M499.0 1063.6h0M284.1 1090.0h0M449.0 1082.9h0M548.2 1098.1h0M341.4 1083.1h0M371.9 1089.3h0M489.2 1062.0h0M372.7 1093.0h0M400.0 1096.7h0M357.8 1097.7h0M376.5 1093.0h0M382.8 1070.4h0M448.1 1065.5h0M349.6 1073.4h0M394.4 1087.2h0M289.1 1094.7h0M405.2 1097.3h0M396.1 1095.9h0M440.0 1098.1h0M353.2 1097.6h0M406.5 1097.5h0M390.0 1090.3h0M380.2 1096.8h0M299.4 1093.0h0M465.8 1096.9h0M487.7 1049.0h0M350.0 1098.1h0M488.4 1080.8h0M453.5 1086.7h0M329.9 1095.5h0M477.7 1099.4h0M549.9 1052.6h0M426.2 1073.8h0M447.2 1088.5h0M460.7 1095.0h0M484.2 1053.5h0M454.5 1089.9h0M508.6 1095.6h0M408.2 1072.1h0M457.1 1041.4h0M384.7 1093.1h0M342.1 1097.8h0M446.9 1000.9h0M444.6 1096.5h0M386.0 1094.1h0M436.1 1094.3h0M397.9 1090.7h0M483.5 1049.3h0M392.3 1042.3h0M288.9 1097.9h0M487.0 1069.0h0M506.6 1050.6h0M313.2 1075.7h0M350.8 1096.5h0M358.0 1094.6h0M334.7 1095.5h0M330.3 1091.5h0M414.8 1095.7h0M452.1 1094.9h0M345.0 1076.6h0M466.7 1092.3h0M441.6 1093.3h0M234.0 1089.4h0M451.4 1065.8h0M386.0 1075.4h0M407.1 1068.4h0M520.5 1094.8h0M387.4 1084.2h0M284.7 1097.0h0M488.2 1092.4h0M372.2 1096.1h0M395.7 1095.2h0M436.3 1063.3h0M348.0 1097.9h0M370.8 1083.4h0M410.8 1082.1h0M397.8 1042.2h0M493.1 1083.7h0M447.8 1062.2h0M562.4 1030.5h0M271.5 1076.9h0M368.7 1071.9h0M407.7 1081.7h0M335.5 1091.5h0M385.9 1069.9h0M236.8 1095.9h0M355.3 1085.3h0M367.6 1095.5h0M397.4 1068.5h0M475.7 1087.3h0M456.6 1091.6h0M260.1 1097.2h0M527.7 1004.0h0M347.9 1103.3h0M408.8 1093.0h0M475.6 1082.0h0M371.3 1090.3h0M413.3 1085.2h0M378.9 1089.2h0M325.0 1087.3h0M309.6 1089.3h0M399.1 1095.5h0M281.0 1095.0h0M468.4 1080.1h0M443.2 1097.8h0M391.9 1084.6h0M352.5 1090.1h0M555.7 1069.3h0M408.6 1056.0h0M326.9 1097.5h0M472.2 1065.6h0M302.3 1097.2h0M315.6 1093.0h0M405.6 1059.9h0M294.8 1093.0h0M266.7 1092.8h0M497.5 1073.6h0M320.3 1092.1h0M326.9 1097.9h0M406.6 1084.3h0M528.0 1089.8h0M388.9 1041.9h0M400.5 1092.0h0M454.0 1080.5h0M401.3 1087.4h0M419.1 1093.9h0M433.3 1091.5h0M369.7 1095.1h0M385.0 1097.4h0M340.9 1097.2h0M292.7 1082.5h0M426.9 1096.4h0M474.3 1007.9h0M539.8 1076.8h0M504.5 1094.2h0M278.5 1092.4h0M374.3 1089.6h0M446.8 1088.2h0M473.1 1072.2h0M356.6 1081.9h0M354.5 1096.3h0M339.8 1095.7h0M428.8 1097.0h0M353.7 1093.8h0M402.7 1094.7h0M376.3 1095.7h0M274.1 1088.7h0M441.9 1078.5h0M375.6 1097.0h0M296.7 1080.4h0M411.7 1097.0h0M405.5 1090.2h0M390.9 1044.1h0M354.3 1097.4h0M401.4 1095.2h0M310.5 1097.4h0M403.2 1088.1h0M481.2 1085.9h0M360.8 1091.7h0M399.5 1066.8h0M375.1 1090.6h0M464.6 1097.2h0M471.7 1105.7h0M368.0 1069.2h0M349.9 1093.3h0M315.1 1092.1h0M557.3 1092.5h0M321.3 1096.4h0M476.9 1091.5h0M309.5 1097.1h0M358.4 1092.4h0M290.3 1097.4h0M320.4 1090.6h0M297.7 1097.6h0M366.4 1087.0h0M432.9 1098.0h0M236.7 1085.5h0M321.8 1097.4h0M443.4 1085.4h0M530.5 1069.4h0M339.1 1082.9h0M444.5 1080.0h0M274.9 1089.1h0M477.7 1097.6h0M424.0 1096.3h0M438.5 1073.5h0M425.2 1079.6h0M351.9 1096.0h0M459.0 1091.5h0M340.1 1088.0h0M441.6 1084.5h0M421.4 1089.0h0M393.2 1083.6h0M383.8 1091.3h0M292.0 1090.5h0M375.7 1092.0h0M433.1 1084.1h0M465.5 1094.9h0M452.8 1067.7h0M387.7 1084.8h0M355.2 1095.0h0M434.0 1096.9h0M370.1 1097.4h0M386.7 1074.3h0M405.1 1073.1h0M365.7 1096.2h0M381.9 1095.7h0M405.9 1096.1h0M374.0 1088.8h0M324.4 1093.8h0M443.8 1088.6h0M447.3 1088.7h0M536.7 1082.8h0M465.7 1040.3h0M399.9 1071.9h0M414.2 1087.0h0M350.6 1097.8h0M289.5 1093.2h0M353.3 1087.6h0M315.0 1088.9h0M368.3 1075.3h0M345.9 1092.4h0M473.6 1085.5h0M319.5 1097.6h0M562.9 970.5h0M308.1 1095.0h0M513.4 1088.4h0M344.8 1068.5h0M246.8 1092.8h0M263.3 1091.7h0M351.9 1091.3h0M430.7 1073.7h0M370.1 1095.2h0M362.3 1087.5h0M438.5 1069.2h0M260.9 1094.0h0M329.5 1069.8h0M398.5 1096.1h0M343.2 1091.4h0M428.8 1095.4h0M310.8 1095.3h0M366.2 1088.6h0M412.6 1091.2h0M312.5 1097.2h0M382.0 1093.7h0M358.0 1087.6h0M343.8 1059.2h0M461.8 1087.4h0M423.3 1091.5h0M445.8 1100.4h0M402.1 1095.3h0M555.5 1089.2h0M455.2 1092.6h0M427.0 1065.4h0M529.1 1095.4h0M399.7 1083.3h0M369.5 1094.6h0M398.8 1083.2h0M370.4 1090.0h0M367.7 1096.9h0M394.0 1096.9h0M445.0 1096.4h0M374.4 1085.9h0M527.9 1093.2h0M475.2 1055.8h0M487.7 1093.8h0M322.4 1063.2h0M431.5 1093.1h0M375.3 1085.4h0M361.5 1092.7h0M425.5 1089.9h0M360.7 1093.6h0M497.7 1079.2h0M402.7 1096.2h0M470.4 1094.8h0M248.4 1076.5h0M293.6 1087.4h0M307.7 1089.5h0M410.9 1086.9h0M353.7 1099.8h0M274.8 1094.0h0M418.4 1083.4h0M381.8 1058.0h0M406.7 1090.6h0M374.5 1068.3h0M352.0 1090.7h0M453.2 1095.7h0M512.3 1091.8h0M407.6 1090.6h0M430.6 1094.3h0M259.3 1098.1h0M368.5 1098.1h0M392.4 1089.5h0M398.5 1089.4h0M449.7 1092.7h0M434.8 1087.7h0M411.1 1084.3h0M428.0 1091.3h0M355.3 1091.2h0M314.9 1093.1h0M418.8 1098.1h0M291.8 1095.0h0M363.4 1052.7h0M408.8 1070.5h0M459.0 1082.6h0M449.9 1086.6h0M393.9 1083.3h0M288.4 1088.4h0M395.2 1086.7h0M321.7 1088.0h0M438.3 1090.5h0M451.1 1104.0h0M369.0 1091.6h0M306.5 1087.6h0M429.7 1081.6h0M323.2 1092.1h0M332.3 1094.0h0M573.7 1030.3h0M437.4 1039.4h0M421.4 1089.9h0M401.5 1090.5h0M531.3 1088.7h0M463.4 1093.3h0M333.6 1085.7h0M362.2 1092.7h0M270.6 1097.6h0M420.6 1085.3h0M415.6 1080.6h0M355.8 1090.5h0M448.4 1093.7h0M363.0 1088.3h0M319.2 1096.4h0M307.5 1075.8h0M415.2 1106.8h0M352.1 1087.9h0M505.7 1081.6h0M372.3 1073.0h0M295.1 1090.2h0M468.3 1086.7h0M313.6 1074.0h0M365.6 1082.8h0M469.9 1097.5h0M370.0 1099.5h0M281.1 1092.0h0M553.5 976.5h0M424.5 1098.0h0M416.9 1051.8h0M428.8 1096.1h0M396.8 1083.4h0M487.1 1098.1h0M354.5 1095.9h0M456.5 1076.7h0M396.2 1085.3h0M411.7 1081.4h0M369.2 1051.6h0M400.2 1079.3h0M475.9 1065.4h0M464.0 1052.0h0M392.0 1057.9h0M311.4 1077.9h0M406.0 1066.3h0M476.8 1097.1h0M428.2 1083.6h0M314.9 1093.7h0M526.3 1097.0h0M484.5 1097.7h0M476.9 1100.8h0M409.4 1091.6h0M335.0 1062.2h0M445.2 1078.0h0M309.8 1098.0h0M501.9 1090.8h0M327.9 1096.4h0M300.8 1095.0h0M390.2 1095.7h0M491.2 1081.7h0M477.7 1028.4h0M409.0 1084.5h0M429.8 1089.1h0M524.8 1045.2h0M460.3 1042.9h0M446.9 1082.6h0M438.9 1082.9h0M452.8 1078.6h0M414.9 1073.1h0M313.4 1091.6h0M332.6 1081.9h0M274.4 1097.0h0M364.5 1068.1h0M489.0 1094.7h0M280.1 1096.3h0M288.7 1097.1h0M378.8 1074.2h0M394.2 1059.1h0M367.0 1092.9h0M537.3 1028.9h0M495.7 1094.3h0M406.3 1092.3h0M369.5 1093.6h0M365.8 1096.9h0M390.4 1094.9h0M398.3 1070.0h0M462.8 1113.4h0M374.6 1073.0h0M422.3 1094.5h0M359.8 1095.6h0M425.6 1075.5h0M499.2 1029.8h0M423.2 1065.7h0M375.6 1095.2h0M323.2 1087.4h0M268.6 1093.8h0M368.8 1096.6h0M399.3 1078.2h0M523.6 1073.5h0M343.1 1081.2h0M475.3 1075.8h0M361.2 1078.3h0M389.8 1086.8h0M321.2 1106.3h0M463.3 1050.5h0M462.2 1039.6h0M365.7 1091.5h0M422.5 1070.0h0M390.3 1096.1h0M576.2 1097.0h0M368.2 1096.5h0M238.7 1090.1h0M373.0 1098.1h0M366.6 1089.1h0M438.2 1098.1h0M383.7 1069.6h0M309.2 1095.2h0M436.7 1072.9h0M480.1 1090.2h0M396.0 1090.4h0M288.7 1091.0h0M272.1 1083.5h0M477.1 1085.1h0M414.1 1090.0h0M235.9 1082.4h0M474.5 1093.9h0M345.8 1095.4h0M491.6 1097.9h0M448.1 1078.2h0M564.8 1086.3h0M383.2 1082.0h0M278.0 1094.0h0M443.7 1064.2h0M390.9 1090.1h0M537.6 1097.3h0M298.7 1077.5h0M380.0 1091.1h0M462.9 1055.0h0M416.1 1087.0h0M367.5 1097.6h0M383.0 1079.2h0M418.5 1074.4h0M408.5 1097.5h0M364.2 1082.8h0M332.8 1094.1h0M357.5 1079.5h0M478.9 1066.3h0M571.2 1092.5h0M341.9 1098.1h0M347.7 1087.9h0M408.6 1097.6h0M361.3 1096.8h0M439.1 1074.6h0M498.4 1063.1h0M431.0 1092.2h0M263.1 1089.8h0M392.2 1091.1h0M596.2 1046.3h0M620.4 1040.1h0M615.5 1073.4h0M560.7 1076.1h0M580.2 1031.2h0M579.2 1070.2h0M575.2 1088.4h0M590.5 1075.0h0M589.9 1071.5h0M618.6 1025.5h0M560.6 1085.5h0M547.3 1066.8h0M555.2 1086.4h0M546.3 1075.2h0M594.7 1092.6h0M549.8 1033.9h0M613.0 986.1h0M550.2 1089.7h0M496.5 1034.4h0M468.2 1029.6h0M441.0 1047.2h0M533.4 1021.5h0M524.5 1021.4h0M537.7 1018.1h0M479.9 1028.6h0M511.7 1023.6h0M488.7 1029.3h0M489.4 1030.4h0M500.5 1033.6h0M453.7 1040.7h0M513.2 1026.3h0M463.5 1026.7h0M505.7 1031.1h0M548.8 1022.5h0M453.5 1041.2h0M444.0 1034.7h0M413.9 1048.8h0M401.2 1045.7h0M405.9 1044.0h0M478.2 1020.5h0M425.2 1032.5h0M433.0 1038.8h0M406.4 1049.3h0M507.1 1016.0h0M477.8 1025.2h0M437.2 1043.7h0M546.9 1016.2h0M443.8 1037.4h0M147.1 1073.8h0M188.3 1088.0h0M210.8 1092.1h0M289.6 1031.2h0M387.1 1006.9h0M510.8 952.2h0M527.7 956.3h0M578.3 976.5h0M630.8 982.6h0M657.0 990.7h0M747.0 980.6h0M638.3 1067.7h0M582.0 1051.5h0M448.5 1030.0h0M386.6 1063.9h0M527.8 997.2h0M459.4 1063.3h0M512.5 999.1h0M417.0 1057.3h0M499.7 976.7h0M463.0 1026.4h0M505.9 1012.4h0M414.8 1063.2h0M550.8 1032.9h0M457.5 1044.5h0M390.2 1067.0h0M492.8 1037.6h0M490.2 1025.4h0M440.1 1026.8h0M494.2 1014.2h0M428.7 1045.6h0M519.4 1002.9h0M500.0 1013.2h0M499.2 1043.0h0M459.0 1025.3h0M536.2 958.3h0M480.2 1011.2h0M424.5 1014.9h0M548.9 971.1h0M408.7 1062.9h0M398.4 1041.5h0M459.0 1056.1h0M541.1 1058.1h0M445.1 1048.5h0M530.7 1018.4h0M515.5 1044.3h0M509.9 1032.4h0M463.4 1033.0h0M501.1 1061.6h0M542.9 1052.1h0M422.7 1029.9h0M497.5 1064.7h0M504.2 1037.8h0" stroke="#b4b4b4" stroke-opacity="0.45" stroke-width="5.2" stroke-linecap="round" fill="none"/>
<path d="M331.5 1096.3h0M450.4 1039.3h0M283.5 1106.1h0M306.4 1085.8h0M384.1 1086.5h0M465.7 1076.5h0M379.5 1095.0h0M396.5 1091.4h0M410.6 1081.4h0M319.2 1095.8h0M461.8 1087.3h0M325.2 1096.0h0M373.8 1064.6h0M341.1 1092.7h0M387.6 1080.5h0M400.0 1091.6h0M467.4 1066.0h0M322.2 1086.7h0M325.4 1097.4h0M293.8 1095.9h0M346.4 1092.3h0M394.3 1096.3h0M299.0 1096.9h0M487.4 1075.0h0M383.0 1096.5h0M393.3 1094.3h0M295.3 1079.1h0M319.9 1097.9h0M349.2 1081.8h0M395.3 1077.3h0M451.3 1082.5h0M311.9 1081.3h0M290.0 1088.0h0M307.3 1090.4h0M385.1 1071.9h0M363.9 1088.1h0M325.0 1075.9h0M316.9 1082.7h0M481.2 1087.0h0M277.0 1091.7h0M322.4 1088.4h0M317.5 1083.3h0M391.3 1093.2h0M320.1 1093.6h0M403.3 1092.2h0M356.9 1093.2h0M419.6 1090.4h0M281.5 1092.4h0M303.7 1094.8h0M375.1 1084.7h0M465.6 1079.4h0M420.9 1096.3h0M325.8 1081.7h0M435.3 1093.1h0M403.8 1094.0h0M513.3 1071.4h0M444.7 1084.6h0M278.6 1091.9h0M360.2 1097.5h0M342.7 1095.8h0M307.8 1114.4h0M396.1 1084.4h0M392.0 1063.9h0M407.4 1068.8h0M280.2 1092.2h0M517.3 1093.1h0M389.9 1097.3h0M413.9 1093.8h0M344.0 1096.2h0M362.6 1091.8h0M445.6 1097.2h0M455.8 1082.2h0M459.3 1082.5h0M365.5 1071.9h0M412.0 1088.6h0M503.9 1077.0h0M403.4 1076.4h0M492.8 1097.9h0M358.1 1071.0h0M336.4 1073.4h0M447.3 1078.9h0M396.3 1089.6h0M404.5 1084.5h0M470.2 1089.1h0M381.9 1092.2h0M374.3 1091.8h0M249.6 1094.9h0M367.9 1090.7h0M538.4 1070.6h0M378.1 1090.0h0M350.2 1084.6h0M357.7 1097.8h0M436.2 1071.3h0M410.3 1078.1h0M531.7 1090.6h0M402.2 1072.7h0M361.5 1090.7h0M261.9 1092.5h0M387.2 1097.5h0M385.2 1096.2h0M428.5 1090.7h0M415.3 1089.4h0M500.4 1052.6h0M467.8 1069.7h0M305.8 1091.7h0M345.2 1089.4h0M503.2 1093.0h0M526.9 1017.9h0M394.0 1079.5h0M417.6 1071.7h0M324.4 1089.3h0M361.5 1073.2h0M526.5 1074.7h0M441.2 1087.5h0M470.1 1076.5h0M508.4 1023.8h0M495.6 1090.6h0M415.2 1087.4h0M458.4 1097.4h0M432.3 1085.7h0M516.7 1014.2h0M344.6 1078.0h0M454.8 1042.9h0M330.3 1095.9h0M510.0 1090.1h0M346.5 1083.9h0M429.9 1061.5h0M366.1 1092.9h0M516.9 1091.4h0M402.1 1087.6h0M400.1 1090.7h0M454.8 1096.9h0M406.2 1067.5h0M479.2 1073.5h0M408.3 1080.2h0M360.2 1069.4h0M552.6 1071.0h0M365.4 1092.6h0M486.9 1088.3h0M405.8 1094.9h0M323.7 1092.6h0M408.4 1069.8h0M424.4 1097.5h0M458.9 1086.6h0M486.2 1075.3h0M458.1 1094.4h0M341.6 1072.0h0M468.1 1005.8h0M454.7 1076.5h0M473.9 1029.7h0M337.1 1080.5h0M365.8 1089.0h0M403.1 1097.1h0M452.0 1087.3h0M391.5 1050.4h0M448.7 1091.5h0M297.9 1095.7h0M407.6 1070.3h0M432.0 1078.9h0M323.2 1097.2h0M347.0 1086.9h0M450.6 1088.9h0M339.7 1090.9h0M347.1 1089.3h0M434.3 1092.6h0M304.1 1096.1h0M277.0 1098.1h0M526.8 1046.8h0M424.6 1093.0h0M356.7 1057.9h0M372.5 1097.9h0M322.5 1064.5h0M477.2 1097.9h0M372.9 1087.5h0M329.6 1090.9h0M356.5 1097.5h0M359.4 1083.9h0M327.9 1088.1h0M462.6 1079.3h0M287.9 1088.8h0M331.3 1096.2h0M405.1 1077.1h0M323.6 1095.3h0M409.5 1096.2h0M354.3 1097.2h0M337.6 1089.6h0M454.5 1076.3h0M545.5 1096.1h0M378.6 1083.0h0M368.8 1093.2h0M343.2 1095.1h0M415.7 1085.6h0M397.1 1079.5h0M376.5 1077.7h0M310.4 1066.0h0M444.2 1083.1h0M308.4 1097.6h0M459.3 1091.5h0M336.7 1095.1h0M316.8 1090.8h0M407.6 1085.8h0M546.0 1053.6h0M339.6 1092.8h0M307.9 1091.2h0M441.6 1075.0h0M399.6 1018.3h0M469.2 1098.0h0M555.8 1052.2h0M237.7 1092.6h0M451.6 1079.4h0M482.5 1084.6h0M340.8 1097.4h0M365.2 1074.0h0M416.6 1080.2h0M342.5 1092.4h0M531.0 1056.3h0M481.2 1096.8h0M367.5 1077.4h0M458.8 1066.6h0M508.9 1097.3h0M310.6 1083.8h0M376.1 1075.5h0M382.6 1048.2h0M382.2 1072.0h0M334.7 1085.6h0M302.7 1090.5h0M296.2 1098.1h0M281.9 1089.8h0M349.4 1092.1h0M347.7 1097.0h0M494.6 1068.8h0M377.5 1086.2h0M349.1 1095.5h0M409.8 1090.7h0M464.6 1084.9h0M301.5 1094.7h0M440.0 1094.0h0M489.8 1078.0h0M451.8 1097.9h0M346.3 1095.7h0M473.0 1085.5h0M345.1 1094.2h0M495.1 1101.3h0M369.2 1078.2h0M391.7 1048.2h0M300.7 1096.2h0M260.0 1093.7h0M357.3 1097.9h0M339.4 1087.5h0M456.5 1056.6h0M404.9 1080.1h0M516.1 1076.1h0M403.2 1089.4h0M431.0 1093.8h0M430.1 1097.6h0M411.7 1084.3h0M450.4 1096.0h0M373.0 1092.7h0M315.2 1085.1h0M473.6 1077.8h0M455.7 1095.8h0M362.2 1084.0h0M292.2 1087.0h0M435.2 1068.6h0M477.4 1097.2h0M530.2 1075.2h0M326.9 1092.2h0M331.1 1088.4h0M364.1 1096.2h0M392.5 1069.7h0M514.9 981.5h0M488.3 1089.4h0M314.6 1089.9h0M528.2 1036.5h0M398.3 1090.8h0M318.7 1096.9h0M461.8 1090.3h0M431.7 1095.7h0M428.3 1088.7h0M480.4 1085.5h0M488.8 1049.7h0M384.5 1096.1h0M329.8 1093.5h0M279.9 1088.2h0M505.9 1061.2h0M423.3 1084.7h0M436.3 1094.8h0M458.6 1091.7h0M402.9 1088.8h0M465.4 1093.7h0M455.5 1042.3h0M491.7 1094.7h0M334.2 1093.3h0M394.4 1085.0h0M472.3 1066.0h0M448.6 1082.1h0M313.2 1094.8h0M429.0 1092.2h0M402.1 1096.3h0M334.9 1097.6h0M399.7 1096.8h0M294.0 1071.5h0M525.3 1076.6h0M380.5 1080.1h0M306.4 1097.2h0M405.4 1086.6h0M329.5 1091.0h0M472.6 1091.7h0M403.3 1086.4h0M281.7 1089.7h0M413.6 1090.0h0M314.0 1098.0h0M379.5 1096.3h0M426.3 1067.5h0M405.3 1093.6h0M259.1 1089.3h0M439.9 1115.4h0M449.8 1098.0h0M483.2 1097.9h0M390.2 1084.6h0M360.3 1094.6h0M536.0 1094.4h0M382.3 1085.7h0M263.2 1089.1h0M335.9 1086.3h0M478.3 1077.5h0M372.1 1096.6h0M318.4 1108.1h0M344.2 1096.9h0M386.4 1050.1h0M388.6 1096.0h0M438.5 1088.1h0M433.9 1095.2h0M386.8 1096.2h0M341.4 1092.0h0M366.6 1098.1h0M324.3 1093.0h0M284.2 1098.0h0M430.2 1082.1h0M444.6 1096.9h0M333.3 1097.6h0M423.8 1054.0h0M485.7 1008.8h0M421.2 1097.7h0M362.9 1093.4h0M330.8 1079.7h0M320.3 1095.2h0M317.8 1091.8h0M274.2 1081.2h0M369.4 1092.9h0M457.9 1090.9h0M312.0 1078.8h0M349.0 1088.5h0M450.6 1041.9h0M448.3 1094.0h0M409.5 1097.4h0M390.7 1095.0h0M523.1 1087.1h0M501.6 1086.9h0M501.0 1027.2h0M420.2 1093.4h0M249.4 1094.2h0M357.7 1095.0h0M495.9 1095.5h0M481.0 1092.2h0M389.9 1082.5h0M376.5 1088.5h0M432.5 1098.0h0M314.7 1053.0h0M281.0 1094.7h0M371.6 1079.9h0M394.2 1087.0h0M447.3 1096.7h0M465.7 1084.8h0M401.0 1093.5h0M332.7 1097.7h0M247.1 1095.3h0M445.6 1088.8h0M314.5 1095.4h0M347.1 1092.2h0M363.6 1084.5h0M397.9 1094.3h0M435.7 1095.8h0M450.7 1092.2h0M452.6 1084.8h0M474.5 1073.6h0M289.5 1095.4h0M369.7 1094.6h0M384.7 1088.6h0M434.7 1088.0h0M356.6 1073.3h0M306.9 1090.7h0M409.7 1087.4h0M435.6 1077.4h0M567.8 1089.3h0M508.5 1073.6h0M475.5 1087.5h0M357.1 1087.1h0M334.3 1092.9h0M388.9 1029.4h0M268.9 1090.1h0M455.8 1090.6h0M529.2 1093.5h0M338.7 1094.9h0M461.0 1095.9h0M388.8 1093.6h0M433.5 1076.0h0M495.9 1080.3h0M472.7 1089.4h0M353.9 1080.8h0M461.6 1021.0h0M490.4 1103.1h0M367.2 1072.8h0M445.2 1089.1h0M339.2 1094.2h0M369.9 1084.1h0M334.9 1075.1h0M510.0 1096.8h0M263.2 1089.0h0M345.9 1082.2h0M463.8 1084.1h0M415.4 1097.2h0M291.3 1101.3h0M327.7 1092.4h0M280.0 1094.5h0M382.0 1077.5h0M429.0 1092.7h0M494.4 1076.1h0M508.9 1035.9h0M456.9 1080.2h0M384.2 1077.5h0M491.5 1066.8h0M263.2 1097.2h0M344.2 1080.3h0M337.1 1077.2h0M410.6 1096.1h0M447.5 1097.9h0M526.1 1059.6h0M476.7 1087.9h0M307.8 1092.9h0M306.3 1091.9h0M394.7 1059.6h0M337.7 1075.5h0M399.1 1097.8h0M511.9 1052.7h0M472.3 1097.9h0M388.2 1094.4h0M478.0 1080.7h0M367.2 1083.8h0M288.4 1095.8h0M253.4 1093.7h0M322.1 1090.7h0M398.9 1061.7h0M355.3 1092.8h0M497.0 1096.1h0M456.4 1097.8h0M394.1 1096.5h0M393.9 1079.3h0M440.2 1080.6h0M563.6 1039.8h0M364.7 1070.6h0M460.0 1064.9h0M351.4 1088.8h0M434.9 1086.8h0M455.3 1093.7h0M395.8 1096.0h0M310.2 1087.6h0M407.6 1092.5h0M432.2 1090.3h0M271.6 1097.3h0M386.2 1068.8h0M341.1 1097.0h0M456.6 1097.2h0M422.8 1072.2h0M424.5 1087.8h0M360.4 1087.8h0M252.8 1093.1h0M437.6 1097.3h0M343.3 1096.0h0M424.3 1083.6h0M306.8 1091.9h0M267.8 1093.1h0M487.9 1000.3h0M367.3 1086.6h0M387.5 1061.7h0M425.3 1094.1h0M322.4 1097.0h0M475.8 1034.3h0M382.6 1093.7h0M464.6 1071.9h0M285.8 1093.8h0M434.3 1042.5h0M381.7 1081.8h0M327.5 1092.0h0M296.9 1106.4h0M411.4 1059.1h0M306.1 1077.4h0M438.5 1083.8h0M435.4 1085.7h0M373.8 1061.3h0M331.9 1091.6h0M322.0 1097.5h0M366.2 1096.2h0M263.1 1091.4h0M529.7 1096.6h0M375.4 1094.8h0M393.7 1097.5h0M319.2 1097.3h0M304.0 1092.2h0M398.2 1019.5h0M298.9 1092.7h0M435.2 1090.1h0M418.7 1054.6h0M431.7 1087.5h0M276.8 1081.6h0M447.9 1079.9h0M471.3 1092.8h0M279.8 1068.6h0M445.5 1068.7h0M487.4 1093.3h0M430.0 1090.2h0M347.0 1089.0h0M324.3 1080.9h0M501.6 1092.1h0M349.0 1093.2h0M536.3 1072.5h0M589.1 1072.4h0M594.1 1061.8h0M602.5 1093.6h0M543.9 1078.2h0M615.3 1060.9h0M614.9 1089.0h0M565.9 1059.9h0M587.7 1070.8h0M622.6 1080.8h0M624.6 1061.2h0M600.7 1063.9h0M571.0 1073.0h0M563.9 988.4h0M593.0 1057.5h0M584.9 1070.2h0M563.1 1093.0h0M611.2 1093.2h0M466.1 1035.1h0M464.5 1035.2h0M416.7 1036.5h0M482.0 1029.5h0M502.4 1032.4h0M505.2 1038.4h0M425.4 1039.4h0M494.8 1029.1h0M550.9 1016.0h0M516.0 1030.5h0M501.0 1032.8h0M431.0 1042.0h0M501.0 1007.5h0M400.6 1048.0h0M405.5 1048.6h0M421.6 1052.9h0M454.1 1041.0h0M500.9 1040.3h0M429.2 1038.5h0M445.1 1040.2h0M478.8 1025.8h0M432.4 1048.7h0M448.4 1031.9h0M487.9 1033.5h0M554.0 1016.2h0M453.0 1045.0h0M540.6 1021.1h0M528.6 1021.5h0M546.8 1023.0h0M504.0 1032.6h0M165.8 1080.7h0M195.8 1033.3h0M218.3 1090.0h0M308.3 1035.3h0M428.3 1002.9h0M525.8 942.1h0M540.8 966.4h0M597.1 994.8h0M600.8 1015.0h0M687.0 980.6h0M653.3 1039.4h0M608.3 1043.4h0M593.3 1063.7h0M433.7 1039.9h0M528.7 992.6h0M463.0 1024.0h0M405.8 1054.1h0M501.4 1003.6h0M541.4 1020.0h0M513.2 999.4h0M550.5 977.6h0M524.8 1064.2h0M492.8 1061.7h0M441.8 1044.1h0M520.4 995.2h0M372.0 1046.2h0M413.4 1047.7h0M502.8 975.9h0M406.7 1043.2h0M544.4 997.8h0M410.6 1063.0h0M528.6 1049.9h0M540.2 994.5h0M521.0 1055.5h0M552.0 944.3h0M471.5 1040.7h0M476.9 1020.4h0M514.3 1027.7h0M432.9 1034.2h0M516.2 1002.2h0M412.2 1041.0h0M550.9 1037.6h0M530.3 1007.9h0M541.5 980.8h0M480.8 998.9h0M447.5 1054.0h0M529.1 1013.7h0M509.6 974.3h0M392.5 1043.7h0M458.2 1030.7h0M513.6 1030.7h0M527.5 1062.1h0M502.7 1001.9h0" stroke="#b4b4b4" stroke-opacity="0.45" stroke-width="5.2" stroke-linecap="round" fill="none"/>
<path d="M402.8 1056.4h0M260.2 1096.2h0M337.6 1092.1h0M282.3 1096.4h0M448.3 1085.0h0M338.7 1092.6h0M375.5 1097.8h0M477.2 1040.9h0M351.5 1078.5h0M471.2 1097.8h0M334.9 1092.5h0M394.5 1088.5h0M507.6 1069.8h0M382.7 1095.1h0M498.5 1048.3h0M427.0 1097.6h0M304.8 1086.1h0M275.0 1069.3h0M393.7 1087.9h0M397.2 1081.3h0M346.9 1091.9h0M439.7 1083.7h0M363.5 1087.9h0M513.0 1017.0h0M440.0 1087.3h0M381.3 1095.3h0M443.5 1057.7h0M315.3 1080.6h0M470.3 1074.1h0M436.1 1080.0h0M370.4 1097.7h0M481.7 1090.4h0M414.5 1095.5h0M433.1 1074.4h0M410.6 1088.3h0M336.3 1094.8h0M510.7 1053.2h0M470.2 1073.7h0M342.6 1091.9h0M537.9 1066.2h0M459.8 1059.8h0M325.0 1094.2h0M395.4 1094.6h0M417.1 1089.4h0M376.2 1086.3h0M416.0 1086.0h0M378.8 1094.2h0M426.6 1088.7h0M428.0 1082.2h0M275.3 1100.6h0M397.2 1094.0h0M395.3 1095.9h0M457.3 1083.0h0M380.3 1093.4h0M414.3 1090.3h0M407.1 1063.5h0M331.5 1088.9h0M470.0 1086.4h0M440.7 1095.0h0M372.7 1074.0h0M424.0 1078.6h0M497.4 1090.1h0M569.3 1079.1h0M404.5 1086.3h0M348.4 1077.3h0M341.6 1090.8h0M445.7 1058.1h0M406.1 1093.6h0M322.7 1097.0h0M367.3 1096.8h0M338.1 1096.7h0M422.8 1091.7h0M555.5 1087.1h0M407.3 1079.5h0M571.8 1015.2h0M419.1 1092.7h0M345.3 1094.6h0M371.4 1096.5h0M400.5 1091.7h0M537.5 1068.1h0M445.8 1084.6h0M475.0 1057.0h0M368.3 1083.4h0M431.0 1082.0h0M267.2 1086.7h0M530.0 1079.6h0M372.0 1092.7h0M346.5 1086.8h0M463.5 1075.2h0M418.7 1037.4h0M347.3 1076.5h0M454.2 1093.4h0M388.8 1091.7h0M339.7 1089.4h0M360.0 1093.8h0M405.5 1083.1h0M328.8 1096.0h0M234.2 1097.0h0M415.3 1071.7h0M370.6 1094.4h0M443.7 1087.7h0M492.8 1085.3h0M388.5 1086.1h0M347.6 1095.7h0M345.4 1096.5h0M388.8 1094.4h0M512.1 1005.9h0M383.3 1092.1h0M481.3 1076.9h0M533.8 1096.8h0M464.5 1074.1h0M275.7 1094.3h0M299.5 1096.9h0M429.4 1087.4h0M409.5 1090.3h0M396.7 1096.2h0M339.8 1094.2h0M305.6 1097.3h0M443.8 1089.9h0M327.6 1091.2h0M382.2 1083.9h0M304.3 1096.5h0M330.3 1095.1h0M366.3 1095.8h0M306.5 1093.6h0M409.5 1073.3h0M256.3 1083.8h0M517.5 1079.7h0M509.4 1097.7h0M547.2 1081.3h0M459.9 1086.8h0M403.9 1094.6h0M304.6 1095.4h0M320.7 1095.2h0M349.3 1097.9h0M335.5 1095.1h0M419.1 1077.6h0M428.8 1095.2h0M461.6 1085.6h0M291.9 1095.5h0M432.0 1087.6h0M390.8 1097.5h0M341.1 1098.0h0M566.5 1084.7h0M485.0 1088.2h0M307.0 1097.6h0M484.6 1071.1h0M475.2 1085.0h0M449.1 1097.0h0M341.1 1087.0h0M482.9 1074.6h0M421.3 1080.0h0M515.3 990.1h0M415.8 1089.0h0M375.1 1084.7h0M443.6 1070.7h0M474.6 1088.8h0M423.9 1080.5h0M422.5 1081.1h0M393.9 1097.1h0M438.0 1042.7h0M426.1 1079.7h0M342.9 1087.6h0M459.3 1056.2h0M357.9 1094.7h0M423.9 1097.3h0M370.0 1098.1h0M352.7 1086.1h0M458.9 1096.8h0M458.5 1091.1h0M348.6 1098.1h0M297.7 1093.6h0M355.5 1084.4h0M517.3 1089.7h0M486.1 1044.2h0M455.6 1070.9h0M424.6 1097.5h0M394.5 1092.6h0M255.8 1092.0h0M379.7 1084.9h0M445.2 1090.4h0M372.7 1093.1h0M315.6 1094.1h0M429.6 1057.9h0M388.5 1084.9h0M423.2 1057.4h0M486.9 1073.0h0M359.5 1074.3h0M375.8 1095.0h0M364.4 1082.7h0M338.1 1050.9h0M416.6 1092.4h0M403.7 1097.9h0M574.8 1089.4h0M289.1 1092.1h0M447.9 1084.4h0M404.4 1079.9h0M368.9 1094.7h0M380.3 1082.7h0M378.9 1092.4h0M379.3 1048.7h0M487.1 1095.4h0M246.3 1097.7h0M429.7 1093.9h0M393.0 1097.2h0M362.9 1095.4h0M407.2 1087.8h0M280.6 1097.0h0M255.1 1091.6h0M550.7 995.5h0M443.4 1095.8h0M337.4 1093.4h0M513.1 1091.7h0M367.4 1097.9h0M427.6 1078.8h0M444.1 1092.1h0M428.8 1097.4h0M394.3 1089.2h0M422.7 1093.1h0M410.8 1088.3h0M359.4 1091.8h0M350.0 1064.4h0M296.2 1106.5h0M258.0 1097.3h0M541.0 1024.7h0M408.1 1080.0h0M313.4 1090.4h0M381.8 1095.6h0M315.0 1066.4h0M510.7 1066.6h0M457.8 1092.7h0M482.8 1084.4h0M515.5 1094.1h0M350.2 1096.0h0M297.8 1095.8h0M413.8 1095.5h0M527.0 1054.0h0M336.0 1090.5h0M412.6 1093.4h0M506.0 1076.4h0M410.6 1087.1h0M471.9 1076.3h0M396.2 1075.8h0M251.2 1097.3h0M425.8 1088.7h0M470.4 1089.2h0M418.7 1084.9h0M289.2 1077.8h0M390.1 1054.6h0M390.9 1087.5h0M410.2 1092.9h0M480.9 1068.7h0M295.5 1096.1h0M499.7 1094.6h0M553.9 1081.4h0M541.2 1066.1h0M396.7 1087.6h0M415.4 1096.0h0M341.6 1074.3h0M400.3 1085.0h0M402.5 1067.3h0M383.1 1088.9h0M469.7 1046.8h0M379.1 1092.6h0M434.3 1097.8h0M334.2 1092.6h0M306.4 1080.7h0M406.8 1097.2h0M511.8 1086.2h0M366.5 1089.4h0M351.3 1095.5h0M320.7 1093.7h0M338.2 1090.9h0M401.4 1004.1h0M473.2 1098.1h0M266.2 1099.0h0M427.3 1054.6h0M428.9 1076.7h0M430.9 1062.0h0M329.1 1094.0h0M272.8 1097.6h0M398.8 1065.4h0M545.0 1087.8h0M373.2 1093.3h0M531.6 1087.9h0M387.5 1053.5h0M395.2 1097.4h0M358.2 1096.4h0M350.7 1090.7h0M330.4 1093.4h0M544.6 1088.4h0M325.2 1077.5h0M415.4 1019.8h0M351.8 1085.7h0M355.1 1097.7h0M409.9 1091.8h0M386.3 1095.3h0M290.9 1084.6h0M351.5 1074.9h0M482.8 1092.1h0M436.8 1066.6h0M504.6 1062.2h0M377.2 1079.9h0M336.0 1097.9h0M506.0 1079.0h0M314.2 1096.2h0M513.4 1095.6h0M291.9 1097.5h0M421.4 1096.9h0M249.9 1095.0h0M415.7 1075.0h0M425.7 1060.5h0M364.7 1086.5h0M355.2 1095.9h0M446.7 1097.9h0M392.3 1066.0h0M413.7 1081.0h0M386.3 1089.9h0M485.2 1093.9h0M388.8 1096.8h0M325.8 1095.2h0M322.7 1069.7h0M362.4 1087.5h0M365.3 1092.7h0M289.8 1096.8h0M563.8 1092.6h0M507.4 1094.8h0M396.9 1078.5h0M420.2 1094.2h0M438.5 1074.3h0M324.1 1096.4h0M290.3 1095.2h0M495.9 1078.4h0M420.6 1097.3h0M311.7 1092.6h0M423.1 1094.8h0M470.3 1069.1h0M443.1 1061.3h0M312.6 1092.1h0M424.5 1082.2h0M471.1 1092.2h0M463.6 1078.7h0M456.4 1082.2h0M482.3 1063.6h0M556.7 1082.9h0M481.1 1088.8h0M402.0 1085.3h0M385.2 1091.9h0M476.4 1056.6h0M387.6 1072.0h0M462.2 1065.3h0M372.8 1090.3h0M427.2 1049.2h0M362.1 1087.7h0M311.7 1094.6h0M390.1 1081.8h0M367.1 1093.2h0M414.9 1096.3h0M335.4 1097.0h0M494.0 1063.2h0M420.4 1089.9h0M322.0 1092.0h0M453.2 1098.1h0M392.8 1077.5h0M345.3 1092.9h0M395.4 1091.7h0M386.9 1094.5h0M438.2 1069.7h0M335.1 1097.7h0M451.8 1064.5h0M469.7 1097.7h0M476.4 1071.6h0M373.8 1075.9h0M418.8 1097.0h0M401.9 1087.4h0M372.8 1091.1h0M409.3 1082.7h0M400.1 1097.3h0M300.6 1080.1h0M452.2 1084.4h0M482.4 1042.9h0M464.7 1085.8h0M317.8 1092.0h0M295.5 1093.8h0M419.4 1097.2h0M421.8 1037.8h0M421.3 1091.1h0M282.2 1091.1h0M446.0 1082.8h0M310.6 1091.8h0M342.1 1097.3h0M300.3 1096.0h0M351.6 1109.5h0M364.9 1090.9h0M428.1 1090.2h0M438.0 1096.8h0M554.9 1079.8h0M535.0 1080.1h0M449.6 1090.0h0M380.0 1084.5h0M333.3 1087.8h0M380.4 1086.7h0M508.1 1077.7h0M367.8 1082.5h0M430.7 1096.3h0M352.3 1093.3h0M430.9 1093.9h0M388.2 1094.6h0M426.4 1080.5h0M513.7 1083.3h0M515.8 1091.6h0M440.6 1087.2h0M344.5 1095.0h0M360.5 1097.5h0M379.9 1092.3h0M395.1 1093.9h0M359.4 1084.2h0M329.3 1090.4h0M442.4 1078.8h0M376.0 1097.0h0M364.9 1094.0h0M406.4 1098.0h0M332.5 1094.3h0M331.2 1095.4h0M286.8 1094.5h0M462.8 1090.8h0M381.7 1096.1h0M330.5 1092.2h0M393.1 1093.1h0M409.2 1082.5h0M394.2 1079.5h0M389.0 1070.5h0M406.1 1083.2h0M263.3 1077.5h0M434.6 1099.9h0M475.4 1083.6h0M494.5 1069.8h0M394.3 1057.0h0M360.4 1094.1h0M497.1 1072.3h0M270.2 1097.9h0M417.5 1097.5h0M460.4 1082.0h0M553.8 1055.3h0M350.5 1093.0h0M449.9 1097.1h0M312.2 1096.5h0M367.0 1083.7h0M297.3 1097.2h0M370.0 1094.7h0M385.7 1090.5h0M453.5 1096.5h0M459.8 1094.5h0M358.1 1092.3h0M427.3 1087.5h0M388.3 1087.7h0M289.7 1095.6h0M339.3 1089.9h0M313.7 1092.4h0M487.0 1090.2h0M298.6 1094.0h0M243.9 1094.7h0M441.5 1114.9h0M372.9 1059.0h0M456.1 1088.3h0M249.8 1096.5h0M243.1 1096.9h0M425.7 1092.5h0M433.3 1053.6h0M319.9 1096.1h0M444.4 1085.9h0M401.8 1066.9h0M528.5 1090.9h0M500.3 1076.3h0M487.9 1093.2h0M437.4 1078.9h0M433.7 1091.1h0M302.9 1092.6h0M478.3 1089.2h0M296.5 1095.6h0M429.1 1112.0h0M420.4 1094.5h0M358.9 1085.4h0M377.1 1093.3h0M524.5 1066.8h0M403.1 1078.4h0M395.2 1091.1h0M400.3 1084.4h0M434.2 1052.9h0M404.5 1078.0h0M536.8 1092.6h0M418.4 1091.1h0M386.0 1034.6h0M281.4 1097.9h0M497.4 1001.6h0M444.7 1072.1h0M493.3 1081.5h0M437.3 1069.6h0M394.5 1095.4h0M411.1 1088.3h0M477.2 1077.4h0M370.7 1067.2h0M515.9 1095.9h0M476.7 1096.4h0M452.5 1067.2h0M315.6 1095.5h0M462.1 1093.3h0M383.6 1076.2h0M418.5 1048.3h0M435.2 1097.8h0M277.3 1092.1h0M537.7 1093.4h0M327.3 1088.8h0M403.7 1058.0h0M347.9 1080.1h0M281.9 1096.0h0M360.7 1073.1h0M549.7 1095.2h0M335.2 1098.0h0M432.4 1092.0h0M475.2 1057.7h0M294.9 1098.1h0M453.9 964.8h0M470.7 1093.6h0M366.2 1088.1h0M623.0 1066.9h0M560.2 1089.8h0M579.6 1044.4h0M629.4 1065.4h0M572.7 1086.2h0M618.9 1097.6h0M601.2 1076.5h0M552.3 1051.2h0M538.9 1089.5h0M609.9 995.2h0M595.2 1093.2h0M653.4 1075.2h0M629.3 1058.1h0M643.6 1032.5h0M565.6 1070.4h0M627.8 1042.8h0M564.0 1026.4h0M546.9 1008.2h0M512.7 1025.6h0M537.2 1018.9h0M498.1 1035.4h0M489.9 1026.5h0M423.7 1041.6h0M496.9 1035.2h0M516.1 1022.0h0M444.9 1042.4h0M436.3 1037.1h0M527.9 1026.3h0M497.2 1029.0h0M536.7 1008.2h0M507.6 1016.5h0M491.5 1037.2h0M421.8 1040.9h0M499.6 1031.1h0M516.8 1009.6h0M435.0 1047.4h0M481.9 1028.9h0M422.4 1043.9h0M553.0 1005.5h0M487.0 1023.5h0M549.1 1021.3h0M442.1 1038.8h0M474.8 1032.7h0M530.6 1019.9h0M521.7 1025.2h0M544.6 1022.0h0M485.9 1029.1h0M87.1 1094.9h0M169.6 1087.2h0M210.8 1065.7h0M225.8 1092.1h0M291.4 1041.4h0M447.1 990.7h0M537.0 940.0h0M552.1 960.3h0M612.0 980.6h0M615.8 1027.2h0M692.7 1019.9h0M673.9 1041.4h0M589.5 1031.2h0M623.3 1079.9h0M510.8 1059.2h0M484.5 992.9h0M403.4 1054.2h0M505.6 998.2h0M518.4 964.8h0M497.9 1047.8h0M496.2 1037.8h0M511.7 1054.7h0M408.9 1054.7h0M525.8 1031.7h0M524.1 966.4h0M520.4 1025.9h0M491.1 1004.7h0M435.0 1011.8h0M451.8 1025.1h0M547.1 980.7h0M440.7 1040.5h0M416.2 1042.2h0M504.9 1041.9h0M465.5 1006.7h0M383.9 1058.8h0M517.3 1036.1h0M462.9 1008.5h0M433.4 1061.8h0M555.9 1054.3h0M399.7 1065.1h0M439.6 1041.9h0M447.8 1065.5h0M446.0 1043.5h0M383.7 1062.8h0M510.1 974.4h0M561.3 953.5h0M512.5 970.8h0M446.7 1048.3h0M528.4 1004.1h0M427.6 1019.9h0M548.3 1058.2h0M493.6 981.6h0M551.5 948.0h0M421.8 1026.5h0" stroke="#b4b4b4" stroke-opacity="0.45" stroke-width="5.2" stroke-linecap="round" fill="none"/>
<path d="M351.8 1092.3h0M418.6 1097.2h0M395.9 1085.2h0M350.2 1085.2h0M413.5 1083.4h0M363.6 1090.6h0M383.5 1058.9h0M301.5 1097.5h0M385.1 1082.7h0M354.0 1085.6h0M283.0 1095.0h0M302.5 1094.5h0M294.9 1096.5h0M453.4 1090.4h0M395.8 1091.4h0M469.5 1081.1h0M463.8 1058.6h0M401.6 1088.7h0M331.8 1089.4h0M454.0 1080.3h0M401.8 1055.9h0M436.6 1083.8h0M417.1 1068.2h0M262.0 1093.1h0M350.7 1068.1h0M278.8 1096.9h0M398.1 1091.3h0M479.4 1061.3h0M360.5 1077.1h0M402.5 1095.6h0M567.6 1093.1h0M362.7 1097.4h0M339.5 1077.1h0M443.2 1090.6h0M472.1 1089.6h0M301.6 1084.1h0M381.3 1083.9h0M269.2 1092.6h0M337.7 1096.8h0M396.0 1091.3h0M371.7 1086.9h0M368.2 1057.5h0M388.0 1078.3h0M327.2 1094.4h0M409.6 1095.0h0M387.7 1073.4h0M413.8 1074.6h0M370.5 1078.7h0M340.4 1096.4h0M271.0 1096.8h0M389.0 1097.9h0M386.4 1091.7h0M329.7 1090.6h0M334.2 1094.8h0M365.4 1090.2h0M274.8 1084.5h0M483.2 1027.3h0M552.6 1073.9h0M344.4 1097.3h0M417.3 1081.3h0M390.1 1095.0h0M506.5 1085.3h0M438.2 1068.5h0M251.9 1090.9h0M242.5 1096.8h0M431.0 1086.8h0M430.2 1084.4h0M377.2 1052.4h0M457.1 1015.9h0M265.3 1095.6h0M485.2 1061.8h0M267.7 1098.0h0M409.8 1067.1h0M396.7 1067.2h0M453.8 1110.7h0M434.9 1094.7h0M384.2 1076.6h0M366.3 1096.3h0M481.8 1079.0h0M325.6 1097.6h0M381.1 1071.7h0M399.6 1083.7h0M425.2 1084.0h0M376.8 1090.7h0M325.8 1097.7h0M325.3 1096.9h0M294.8 1092.7h0M370.3 1070.7h0M326.8 1098.1h0M237.8 1078.4h0M288.6 1093.0h0M308.1 1091.0h0M317.0 1086.3h0M247.7 1091.6h0M495.5 1061.1h0M287.5 1092.8h0M322.1 1089.8h0M370.2 1070.5h0M361.1 1087.9h0M396.8 1081.4h0M395.9 1072.7h0M373.0 1091.5h0M466.6 1089.2h0M413.2 1089.6h0M329.1 1094.3h0M493.3 1080.3h0M309.9 1092.8h0M519.0 1068.9h0M412.0 1047.7h0M276.9 1092.3h0M341.2 1067.2h0M548.8 1024.8h0M295.4 1097.2h0M377.1 1093.7h0M344.7 1089.9h0M270.6 1096.5h0M305.2 1094.8h0M434.5 1018.6h0M269.2 1092.3h0M462.2 1096.3h0M347.2 1096.9h0M438.1 1078.8h0M475.4 1094.0h0M383.5 1074.3h0M429.9 1096.4h0M550.3 1071.7h0M389.7 1085.5h0M301.8 1093.0h0M423.2 1088.6h0M311.1 1082.5h0M492.2 1070.8h0M385.0 1097.9h0M344.9 1093.8h0M333.7 1090.2h0M328.0 1098.1h0M367.6 1078.7h0M388.8 1095.9h0M420.1 1090.0h0M288.4 1095.8h0M311.6 1093.9h0M361.9 1088.5h0M404.8 1032.2h0M448.7 1082.4h0M377.6 1094.9h0M294.5 1083.9h0M361.3 1079.6h0M428.8 1096.6h0M293.5 1076.6h0M536.6 1078.4h0M422.1 1079.0h0M351.2 1082.6h0M384.8 1088.7h0M474.8 1092.0h0M359.9 1075.7h0M374.5 1093.9h0M396.8 1089.0h0M459.2 1080.7h0M394.4 1094.6h0M421.2 1055.1h0M314.9 1075.2h0M389.6 1051.8h0M443.0 1055.4h0M360.9 1090.8h0M336.4 1091.2h0M417.0 1094.6h0M457.4 1090.7h0M496.6 1066.7h0M430.0 1079.2h0M408.7 1093.7h0M507.5 1013.3h0M309.1 1091.0h0M371.0 1077.5h0M555.5 1089.7h0M437.2 1084.9h0M340.9 1061.1h0M485.4 1077.3h0M324.2 1081.4h0M433.3 1092.6h0M377.2 1089.6h0M313.5 1068.1h0M292.2 1094.6h0M321.4 1089.3h0M346.5 1085.7h0M509.2 1056.6h0M405.1 1090.8h0M478.2 1075.8h0M406.0 1097.7h0M317.2 1092.9h0M348.2 1095.7h0M411.7 1081.5h0M412.7 1095.8h0M384.8 1084.5h0M460.3 1077.7h0M385.5 1092.8h0M464.2 1082.5h0M364.0 1094.8h0M368.7 1091.1h0M318.9 1081.2h0M421.2 1074.3h0M340.6 1088.0h0M410.8 1097.5h0M479.5 1089.1h0M272.6 1092.5h0M353.9 1092.9h0M339.5 1092.0h0M482.5 1094.0h0M242.7 1095.7h0M542.1 1066.7h0M574.5 1073.1h0M423.7 1060.3h0M327.6 1096.5h0M353.8 1097.3h0M519.1 1085.1h0M473.4 1096.0h0M384.6 1089.1h0M374.2 1084.2h0M304.6 1097.8h0M285.2 1094.8h0M534.2 1068.8h0M447.7 1075.1h0M470.1 1095.3h0M331.1 1095.1h0M476.6 1045.2h0M404.0 1087.7h0M316.3 1097.7h0M263.5 1096.9h0M373.5 1070.5h0M415.0 1085.4h0M349.1 1083.2h0M407.0 1092.9h0M317.9 1075.1h0M463.4 1090.0h0M289.5 1087.1h0M335.7 1057.5h0M382.2 1093.7h0M370.4 1075.4h0M509.1 1037.2h0M418.3 1096.9h0M342.7 1097.6h0M381.7 1075.9h0M423.9 1095.8h0M357.7 1083.1h0M335.5 1066.0h0M355.6 1073.0h0M437.9 1075.5h0M310.3 1096.4h0M419.7 1085.9h0M319.2 1078.5h0M396.6 1096.4h0M502.7 1076.5h0M402.0 1094.6h0M397.0 1075.2h0M554.2 1074.8h0M350.6 1097.4h0M473.4 1082.3h0M408.7 1087.9h0M499.5 1088.7h0M343.9 1081.1h0M379.9 1093.5h0M467.3 1042.3h0M472.9 1099.2h0M429.6 1098.1h0M453.4 1099.8h0M487.5 1096.8h0M444.5 1076.5h0M406.6 1062.4h0M418.5 1075.6h0M432.9 1089.5h0M458.0 1044.0h0M504.9 1066.2h0M475.6 1097.0h0M507.4 1071.1h0M326.3 1096.1h0M392.0 1096.8h0M394.4 1049.5h0M478.3 1076.6h0M394.7 1093.6h0M368.2 1094.9h0M407.8 1089.8h0M412.9 1098.0h0M301.6 1096.5h0M540.7 1093.0h0M451.8 1071.4h0M383.4 1056.6h0M398.6 1092.9h0M338.3 1097.9h0M437.0 1087.5h0M338.1 1086.0h0M444.0 1086.0h0M236.2 1096.7h0M387.3 1045.9h0M444.1 1058.9h0M378.9 1081.2h0M303.9 1093.6h0M453.3 1094.3h0M327.7 1094.8h0M370.3 1085.9h0M376.8 1042.4h0M372.6 1091.3h0M479.3 1077.9h0M483.0 1087.6h0M507.2 1092.5h0M280.0 1097.1h0M411.7 1092.2h0M393.8 1067.3h0M479.1 1044.6h0M421.6 1092.3h0M461.6 1094.8h0M441.3 1031.9h0M362.2 1091.7h0M479.5 1058.9h0M412.4 1054.7h0M440.0 1090.1h0M524.1 1091.6h0M479.8 1059.6h0M304.2 1077.9h0M401.4 1078.6h0M468.3 1064.1h0M497.9 1087.1h0M455.8 1077.4h0M404.4 1073.1h0M445.6 1096.9h0M378.7 1089.7h0M464.2 1078.8h0M333.8 1097.3h0M448.7 1095.4h0M452.0 1095.3h0M520.6 1090.1h0M334.2 1094.9h0M402.3 1092.3h0M321.4 1097.8h0M364.6 1097.7h0M320.9 1063.1h0M321.0 1087.1h0M468.3 1073.1h0M487.8 1070.3h0M420.3 1041.0h0M310.2 1097.0h0M450.3 1097.5h0M516.1 1085.5h0M530.7 1096.6h0M399.0 1092.3h0M368.5 1097.9h0M294.2 1087.9h0M507.6 1090.1h0M289.6 1096.9h0M328.1 1097.5h0M371.8 1070.0h0M408.1 1061.6h0M482.6 1078.1h0M276.3 1076.8h0M301.6 1105.7h0M400.3 1074.7h0M351.5 1084.6h0M359.6 1097.4h0M363.8 1037.3h0M477.7 1085.5h0M399.1 1088.8h0M349.9 1092.5h0M348.7 1092.7h0M409.8 1068.8h0M477.0 1062.9h0M292.2 1095.3h0M435.1 1044.6h0M445.5 1053.6h0M453.8 1011.2h0M352.5 1092.5h0M373.5 1065.8h0M320.3 1079.5h0M387.2 1089.1h0M395.6 1089.7h0M540.8 1076.3h0M367.6 1092.8h0M506.4 1082.6h0M348.6 1095.9h0M336.1 1092.3h0M455.2 1091.7h0M351.0 1089.4h0M372.5 1083.4h0M257.4 1094.4h0M487.3 1084.0h0M279.1 1089.2h0M358.6 1096.2h0M458.5 1090.2h0M476.2 1088.9h0M477.0 1085.1h0M421.9 1082.9h0M486.6 1094.8h0M294.1 1083.7h0M249.5 1096.0h0M458.4 1078.4h0M307.9 1088.0h0M321.7 1096.0h0M536.8 1076.2h0M358.0 1091.0h0M333.0 1091.5h0M503.0 1083.3h0M414.1 1093.4h0M502.4 1080.1h0M340.4 1095.8h0M336.7 1097.1h0M292.8 1091.9h0M406.8 1096.0h0M354.3 1078.3h0M331.5 1081.5h0M424.2 1061.5h0M417.3 1051.3h0M403.2 1078.3h0M364.4 1080.7h0M342.2 1078.7h0M397.9 1047.9h0M381.3 1093.3h0M425.4 1095.3h0M438.2 1098.0h0M420.2 1082.9h0M462.2 1055.7h0M381.7 1082.0h0M448.8 1070.9h0M355.0 1097.7h0M359.1 1091.1h0M350.7 1082.9h0M435.1 1077.9h0M375.3 1082.9h0M565.2 1091.1h0M291.1 1090.5h0M548.2 1070.3h0M249.4 1093.8h0M310.3 1097.4h0M315.6 1094.1h0M392.8 1062.0h0M420.0 1075.8h0M330.3 1102.7h0M412.6 1098.0h0M369.5 1095.8h0M551.2 1063.8h0M412.5 1086.0h0M394.2 1048.4h0M461.4 1096.9h0M314.5 1087.6h0M426.6 1089.6h0M379.9 1084.7h0M468.0 1091.8h0M399.3 1095.0h0M266.4 1093.6h0M418.3 1073.2h0M454.0 1097.4h0M307.7 1089.8h0M344.9 1094.2h0M258.4 1097.7h0M450.4 1094.8h0M358.0 1104.0h0M329.7 1096.3h0M327.8 1088.5h0M520.7 1054.1h0M382.2 1094.9h0M484.5 1060.7h0M436.9 1083.1h0M417.1 1098.0h0M509.9 1066.2h0M393.4 1086.5h0M398.6 1062.7h0M418.0 1089.8h0M382.7 1094.2h0M373.7 1095.6h0M403.0 1054.9h0M417.7 1093.8h0M446.6 1075.0h0M340.8 1105.9h0M348.2 1092.7h0M259.0 1097.9h0M410.1 1083.2h0M283.8 1089.9h0M427.2 1097.2h0M434.7 1096.4h0M498.4 1083.0h0M423.7 1083.6h0M520.5 1062.3h0M396.9 1100.0h0M392.9 1095.7h0M490.3 1089.2h0M468.7 1089.7h0M442.0 1097.3h0M252.5 1090.1h0M390.4 1087.6h0M381.9 1090.2h0M356.0 1080.8h0M434.5 1094.3h0M433.7 1095.3h0M415.6 1093.4h0M415.8 1059.1h0M491.9 1085.6h0M322.8 1094.6h0M510.2 1025.5h0M356.1 1087.9h0M470.0 1085.7h0M374.0 1094.7h0M401.7 1082.4h0M457.2 1069.2h0M499.5 1094.5h0M273.9 1092.8h0M412.2 1096.0h0M314.0 1085.4h0M333.4 1074.1h0M457.1 1080.6h0M420.5 1026.9h0M413.2 1095.9h0M342.6 1095.6h0M318.1 1096.9h0M335.2 1091.6h0M349.0 1100.0h0M448.3 1092.8h0M390.8 1092.5h0M318.6 1089.6h0M340.2 1085.1h0M437.5 1092.5h0M339.6 1095.1h0M372.3 1091.1h0M379.5 1087.9h0M345.9 1076.3h0M460.1 1088.5h0M443.0 1086.7h0M434.7 1080.6h0M278.2 1098.0h0M329.4 1096.7h0M283.1 1094.6h0M598.2 1068.3h0M538.6 1072.7h0M625.6 1061.2h0M603.7 1018.3h0M590.1 1073.8h0M615.3 1071.7h0M556.8 1029.9h0M578.9 1049.1h0M651.8 1054.4h0M640.4 1088.5h0M556.6 1072.8h0M656.7 1097.4h0M548.3 1051.6h0M550.2 1063.3h0M543.8 1096.4h0M572.0 1053.6h0M663.7 1017.7h0M517.0 1012.2h0M472.4 1033.9h0M523.4 1022.5h0M430.5 1044.3h0M498.8 1038.1h0M433.5 1052.1h0M527.5 1022.1h0M545.2 1021.1h0M517.3 1018.3h0M543.4 1020.9h0M508.9 1033.1h0M464.9 1032.5h0M535.2 1023.5h0M554.3 1018.1h0M416.1 1043.9h0M517.1 1023.0h0M437.5 1039.7h0M531.8 1020.8h0M498.3 1035.1h0M405.5 1047.5h0M553.8 1007.0h0M538.5 1025.8h0M408.9 1048.3h0M474.5 1029.9h0M400.9 1052.2h0M458.5 1042.1h0M459.4 1039.6h0M527.5 1012.0h0M545.2 1015.0h0M504.2 1029.4h0M109.6 1088.8h0M192.1 1077.9h0M222.1 1069.8h0M252.1 1071.8h0M323.3 1043.4h0M458.3 986.7h0M552.1 938.0h0M503.3 974.5h0M619.5 998.8h0M645.8 1035.3h0M743.3 1006.1h0M657.0 1073.8h0M570.8 1011.0h0M608.3 1088.0h0M447.5 1008.6h0M438.0 1067.4h0M498.1 988.0h0M514.1 977.5h0M431.4 1030.2h0M490.0 1065.5h0M523.4 1025.7h0M527.3 1021.1h0M436.7 1026.0h0M456.8 1024.6h0M425.1 1066.1h0M478.0 989.0h0M509.1 986.1h0M522.2 1037.1h0M489.2 982.1h0M381.6 1036.7h0M520.6 1025.5h0M460.3 1054.4h0M487.9 1028.0h0M426.9 1024.3h0M489.3 1011.1h0M485.2 997.0h0M546.6 999.8h0M474.4 1045.8h0M465.0 1000.0h0M533.4 1067.5h0M545.5 1042.4h0M509.7 992.0h0M444.7 1051.6h0M509.3 1011.4h0M443.0 1046.4h0M523.1 1019.5h0M521.3 1039.2h0M404.8 1051.8h0M467.2 1054.5h0M511.1 1014.5h0M502.5 978.7h0M483.9 1028.1h0M528.5 968.4h0M457.1 1030.7h0" stroke="#b4b4b4" stroke-opacity="0.45" stroke-width="5.2" stroke-linecap="round" fill="none"/>
<line x1="128.5" y1="564.4" x2="128.5" y2="1122.6" stroke="#555" stroke-width="1.1" stroke-dasharray="2.2 2.6"/>
<line x1="563.0" y1="564.4" x2="563.0" y2="997.5" stroke="#555" stroke-width="1.1" stroke-dasharray="2.2 2.6"/>
<line x1="79" y1="970.4" x2="985.8" y2="970.4" stroke="#6e6e6e" stroke-width="1.4" stroke-dasharray="2 2.7"/>
<path d="M841.3 589.3L887.2 577.7M924.4 609.3L930.9 604.7M708.9 678.4L756.2 668.1M749.2 682.8L807.7 679.6M650.7 760.1L698.3 743.7M718.8 757.9L764.7 741.0M697.0 756.2L714.0 769.0M709.8 779.2L778.0 765.9M957.0 771.2L950.7 765.9M685.0 795.4L694.6 802.1M670.7 832.6L743.7 800.9M685.9 848.3L828.7 790.1M734.0 823.2L744.2 825.1M793.0 823.9L798.0 816.6M793.0 826.8L871.5 814.9M664.2 834.8L678.2 836.7M778.5 837.9L834.8 839.1M701.6 853.4L744.9 850.9M657.2 876.6L699.5 864.2M762.5 870.3L799.7 863.7M706.2 887.4L720.0 888.2M776.3 894.4L803.8 888.4M650.4 896.1L865.4 887.9M687.4 901.0L744.9 912.1M650.7 908.9L682.1 914.0M738.8 929.9L824.1 919.3M839.3 938.4L895.2 930.9M721.7 950.0L766.6 944.0M653.3 959.2L708.4 963.3" stroke="#4a4a4a" stroke-width="0.8" fill="none"/>
<g fill="#d7261e" stroke="#a01812" stroke-width="0.4"><circle cx="841.3" cy="589.3" r="2.4"/><circle cx="924.4" cy="609.3" r="2.4"/><circle cx="708.9" cy="678.4" r="2.4"/><circle cx="749.2" cy="682.8" r="2.4"/><circle cx="650.7" cy="760.1" r="2.4"/><circle cx="718.8" cy="757.9" r="2.4"/><circle cx="697.0" cy="756.2" r="2.4"/><circle cx="709.8" cy="779.2" r="2.4"/><circle cx="957.0" cy="771.2" r="2.4"/><circle cx="685.0" cy="795.4" r="2.4"/><circle cx="670.7" cy="832.6" r="2.4"/><circle cx="685.9" cy="848.3" r="2.4"/><circle cx="734.0" cy="823.2" r="2.4"/><circle cx="793.0" cy="823.9" r="2.4"/><circle cx="793.0" cy="826.8" r="2.4"/><circle cx="664.2" cy="834.8" r="2.4"/><circle cx="778.5" cy="837.9" r="2.4"/><circle cx="701.6" cy="853.4" r="2.4"/><circle cx="657.2" cy="876.6" r="2.4"/><circle cx="762.5" cy="870.3" r="2.4"/><circle cx="659.4" cy="888.9" r="2.4"/><circle cx="706.2" cy="887.4" r="2.4"/><circle cx="776.3" cy="894.4" r="2.4"/><circle cx="650.4" cy="896.1" r="2.4"/><circle cx="687.4" cy="901.0" r="2.4"/><circle cx="650.7" cy="908.9" r="2.4"/><circle cx="738.8" cy="929.9" r="2.4"/><circle cx="839.3" cy="938.4" r="2.4"/><circle cx="721.7" cy="950.0" r="2.4"/><circle cx="653.3" cy="959.2" r="2.4"/><circle cx="650.2" cy="746.6" r="2.4"/><circle cx="629.4" cy="794.2" r="2.4"/><circle cx="601.9" cy="807.0" r="2.4"/><circle cx="623.8" cy="825.6" r="2.4"/><circle cx="597.0" cy="835.0" r="2.4"/><circle cx="568.3" cy="841.5" r="2.4"/><circle cx="623.6" cy="853.4" r="2.4"/><circle cx="631.3" cy="870.3" r="2.4"/><circle cx="643.9" cy="872.4" r="2.4"/><circle cx="649.4" cy="875.1" r="2.4"/><circle cx="636.2" cy="884.3" r="2.4"/><circle cx="579.1" cy="886.0" r="2.4"/><circle cx="633.3" cy="890.6" r="2.4"/><circle cx="648.5" cy="891.1" r="2.4"/><circle cx="598.5" cy="919.1" r="2.4"/><circle cx="587.6" cy="924.2" r="2.4"/><circle cx="594.6" cy="926.3" r="2.4"/><circle cx="639.8" cy="919.8" r="2.4"/><circle cx="608.4" cy="936.2" r="2.4"/><circle cx="624.6" cy="936.2" r="2.4"/><circle cx="635.0" cy="934.1" r="2.4"/><circle cx="593.9" cy="941.1" r="2.4"/><circle cx="605.2" cy="940.6" r="2.4"/><circle cx="622.1" cy="942.3" r="2.4"/><circle cx="631.3" cy="939.9" r="2.4"/><circle cx="616.8" cy="945.2" r="2.4"/><circle cx="647.3" cy="945.7" r="2.4"/><circle cx="590.5" cy="949.3" r="2.4"/><circle cx="602.1" cy="948.6" r="2.4"/><circle cx="623.8" cy="948.3" r="2.4"/><circle cx="648.0" cy="951.5" r="2.4"/><circle cx="570.2" cy="953.9" r="2.4"/><circle cx="572.1" cy="957.7" r="2.4"/><circle cx="645.6" cy="956.3" r="2.4"/><circle cx="646.5" cy="959.7" r="2.4"/><circle cx="599.2" cy="959.4" r="2.4"/><circle cx="586.9" cy="967.4" r="2.4"/></g>
<g font-size="14.3" fill="#231f20">
<text x="888.6" y="581.6" font-size="14.3" fill="#231f20" >AP1G1</text>
<text x="931.9" y="605.7" font-size="14.3" fill="#231f20" >AP1M1</text>
<text x="758.7" y="672.4" font-size="14.3" fill="#231f20" >ATG5</text>
<text x="809.4" y="685.0" font-size="14.3" fill="#231f20" >TM9SF2</text>
<text x="700.2" y="748.3" font-size="14.3" fill="#231f20" >COX4I1</text>
<text x="766.6" y="745.8" font-size="14.3" fill="#231f20" >SLC38A10</text>
<text x="715.4" y="775.6" font-size="14.3" fill="#231f20" >DMXL1</text>
<text x="779.2" y="770.0" font-size="14.3" fill="#231f20" >PUS3</text>
<text x="915.2" y="763.5" font-size="14.3" fill="#231f20" >FAM91A1</text>
<text x="675.3" y="813.0" font-size="14.3" fill="#231f20" >HSPA13</text>
<text x="745.4" y="805.0" font-size="14.3" fill="#231f20" >DPH1</text>
<text x="830.4" y="794.2" font-size="14.3" fill="#231f20" >TM9SF3</text>
<text x="745.4" y="829.4" font-size="14.3" fill="#231f20" >EPG5</text>
<text x="799.0" y="819.1" font-size="14.3" fill="#231f20" >PGK1</text>
<text x="873.4" y="819.1" font-size="14.3" fill="#231f20" >PPP6C</text>
<text x="679.6" y="840.8" font-size="14.3" fill="#231f20" >WDR11</text>
<text x="836.4" y="843.7" font-size="14.3" fill="#231f20" >DDX6</text>
<text x="746.6" y="855.3" font-size="14.3" fill="#231f20" >DPH5</text>
<text x="701.4" y="868.1" font-size="14.3" fill="#231f20" >TPI1</text>
<text x="801.4" y="868.1" font-size="14.3" fill="#231f20" >SLC39A9</text>
<text x="650.7" y="892.7" font-size="14.3" fill="#231f20" >VPS13D</text>
<text x="721.2" y="892.7" font-size="14.3" fill="#231f20" >PYROXD1</text>
<text x="805.3" y="892.7" font-size="14.3" fill="#231f20" >PCBP2</text>
<text x="867.1" y="892.7" font-size="14.3" fill="#231f20" >SLC33A1</text>
<text x="746.6" y="917.4" font-size="14.3" fill="#231f20" >DNAJC24</text>
<text x="683.3" y="918.8" font-size="14.3" fill="#231f20" >ZCRB1</text>
<text x="825.8" y="923.7" font-size="14.3" fill="#231f20" >COPG1</text>
<text x="897.1" y="935.5" font-size="14.3" fill="#231f20" >TTC1</text>
<text x="768.3" y="948.3" font-size="14.3" fill="#231f20" >NDUFS1</text>
<text x="709.8" y="967.6" font-size="14.3" fill="#231f20" >ATMIN</text>
</g>
<text x="158.3" y="1142.8" font-size="21" text-anchor="middle" fill="#474747">-0.5</text>
<text x="345.8" y="1142.8" font-size="21" text-anchor="middle" fill="#474747">0.0</text>
<text x="533.3" y="1142.8" font-size="21" text-anchor="middle" fill="#474747">0.5</text>
<text x="720.8" y="1142.8" font-size="21" text-anchor="middle" fill="#474747">1.0</text>
<text x="908.3" y="1142.8" font-size="21" text-anchor="middle" fill="#474747">1.5</text>
<text x="74.6" y="936.8" font-size="21" text-anchor="end" fill="#474747">5</text>
<text x="74.6" y="734.1" font-size="21" text-anchor="end" fill="#474747">10</text>
<text x="515.3" y="1168.4" font-size="27.7" text-anchor="middle" fill="#231f20">Fold change (log2)</text>
<text transform="translate(37.3,855.3) rotate(-90)" font-size="27.8" text-anchor="middle" fill="#231f20">Significance (-log10)</text>
<line x1="1160.4" x2="1160.4" y1="564.6" y2="1122.8" stroke="#f2f2f2" stroke-width="0.8"/>
<line x1="1455.0" x2="1455.0" y1="564.6" y2="1122.8" stroke="#f2f2f2" stroke-width="0.8"/>
<line x1="1749.6" x2="1749.6" y1="564.6" y2="1122.8" stroke="#f2f2f2" stroke-width="0.8"/>
<line x1="1090.4" x2="1998" y1="1037.2" y2="1037.2" stroke="#f2f2f2" stroke-width="0.8"/>
<line x1="1090.4" x2="1998" y1="853.8" y2="853.8" stroke="#f2f2f2" stroke-width="0.8"/>
<line x1="1090.4" x2="1998" y1="670.2" y2="670.2" stroke="#f2f2f2" stroke-width="0.8"/>
<line x1="1307.7" x2="1307.7" y1="564.6" y2="1122.8" stroke="#ebebeb" stroke-width="1"/>
<line x1="1602.3" x2="1602.3" y1="564.6" y2="1122.8" stroke="#ebebeb" stroke-width="1"/>
<line x1="1896.9" x2="1896.9" y1="564.6" y2="1122.8" stroke="#ebebeb" stroke-width="1"/>
<line x1="1087.9" x2="1998" y1="945.5" y2="945.5" stroke="#ebebeb" stroke-width="1"/>
<line x1="1087.9" x2="1998" y1="762.0" y2="762.0" stroke="#ebebeb" stroke-width="1"/>
<line x1="1087.9" x2="1998" y1="578.5" y2="578.5" stroke="#ebebeb" stroke-width="1"/>
<path d="M1090.4 564.6H1998V1122.8H1090.4Z" fill="none" stroke="#e2e2e2" stroke-width="1.1"/>
<path d="M1337.2 1102.5h0M1379.4 1102.1h0M1418.9 1102.1h0M1452.5 1106.1h0M1294.1 1105.7h0M1273.6 1105.1h0M1341.3 1086.7h0M1398.7 1099.8h0M1344.2 1088.4h0M1321.7 1094.6h0M1211.9 1101.5h0M1357.3 1104.8h0M1399.2 1075.9h0M1195.2 1105.2h0M1281.8 1106.9h0M1272.0 1102.5h0M1360.4 1097.4h0M1336.4 1056.3h0M1445.3 1105.3h0M1307.6 1102.0h0M1254.1 1107.1h0M1216.9 1104.5h0M1352.8 1104.2h0M1257.8 1108.4h0M1391.2 1104.6h0M1416.4 1097.9h0M1303.5 1099.8h0M1414.9 1028.1h0M1369.1 1083.3h0M1262.3 1103.1h0M1337.0 1107.7h0M1361.5 1077.7h0M1243.3 1105.1h0M1282.5 1106.6h0M1279.6 1108.1h0M1370.8 1102.0h0M1281.0 1106.5h0M1311.1 1090.9h0M1268.0 1114.0h0M1338.3 1106.5h0M1332.6 1104.7h0M1194.8 1094.7h0M1463.4 1099.9h0M1474.3 1088.6h0M1366.6 1099.0h0M1216.3 1104.2h0M1333.4 1080.7h0M1317.4 1067.9h0M1297.8 1102.0h0M1366.5 1092.0h0M1393.0 1091.1h0M1208.9 1101.1h0M1261.0 1087.3h0M1239.0 1100.9h0M1243.6 1103.6h0M1246.9 1090.5h0M1181.7 1105.1h0M1431.8 1107.8h0M1275.2 1103.4h0M1382.7 1073.7h0M1301.5 1097.6h0M1352.5 1104.9h0M1269.6 1089.0h0M1294.7 1102.5h0M1409.3 1103.1h0M1238.9 1087.9h0M1393.1 1096.4h0M1325.3 1084.2h0M1219.0 1106.7h0M1365.5 1106.9h0M1283.0 1081.4h0M1275.1 1103.1h0M1316.7 1089.2h0M1334.6 1092.9h0M1281.5 1078.2h0M1313.8 1102.5h0M1389.4 1100.9h0M1487.7 1105.0h0M1328.1 1113.4h0M1330.0 1107.9h0M1396.3 1104.7h0M1343.4 1094.1h0M1313.1 1105.9h0M1279.5 1101.1h0M1318.5 1115.7h0M1217.1 1105.7h0M1298.1 1105.0h0M1317.5 1098.0h0M1275.8 1097.5h0M1255.0 1097.0h0M1387.6 1061.6h0M1352.5 1100.9h0M1352.8 1100.7h0M1269.2 1067.2h0M1221.9 1104.7h0M1334.1 1095.4h0M1239.0 1078.2h0M1137.5 1106.9h0M1304.1 1107.0h0M1203.8 1105.7h0M1228.2 1105.0h0M1335.9 1090.2h0M1352.3 1100.6h0M1412.2 1096.6h0M1371.3 1108.3h0M1273.3 1103.7h0M1361.2 1090.0h0M1366.0 1105.8h0M1259.8 1095.9h0M1353.1 1065.0h0M1269.4 1103.7h0M1379.6 1097.9h0M1333.3 1106.2h0M1274.2 1089.6h0M1149.4 1108.0h0M1475.8 1090.7h0M1258.7 1107.1h0M1324.1 1093.8h0M1215.2 1107.3h0M1306.0 1098.6h0M1474.3 1074.6h0M1216.8 1107.9h0M1288.2 1099.3h0M1328.9 1088.8h0M1416.7 1107.2h0M1322.3 1095.1h0M1361.0 1097.9h0M1254.4 1106.5h0M1354.1 1108.1h0M1165.2 1104.0h0M1387.7 1096.2h0M1392.8 1097.0h0M1367.5 1073.7h0M1298.2 1101.0h0M1342.7 1105.6h0M1336.9 1101.5h0M1353.0 1087.2h0M1341.7 1101.9h0M1262.0 1103.5h0M1315.2 1089.1h0M1274.1 1103.5h0M1282.2 1106.3h0M1325.0 1085.4h0M1426.7 1091.0h0M1299.7 1099.0h0M1258.4 1096.4h0M1380.0 1072.2h0M1223.5 1105.1h0M1278.9 1090.1h0M1343.3 1087.2h0M1202.9 1084.8h0M1227.7 1095.8h0M1422.0 1069.9h0M1335.0 1095.7h0M1301.0 1104.9h0M1197.3 1101.4h0M1274.1 1105.0h0M1304.3 1081.6h0M1375.0 1086.9h0M1308.8 1102.8h0M1400.8 1104.5h0M1284.1 1107.8h0M1267.6 1108.1h0M1337.3 1101.5h0M1376.9 1077.2h0M1315.3 1099.5h0M1345.3 1083.1h0M1414.0 1090.3h0M1310.7 1101.5h0M1315.5 1092.5h0M1398.9 1054.6h0M1406.3 1050.2h0M1328.7 1097.8h0M1375.0 1101.4h0M1424.8 1078.5h0M1229.5 1107.7h0M1358.4 1105.3h0M1278.4 1088.5h0M1401.3 1098.3h0M1323.2 1107.5h0M1371.5 1075.0h0M1360.1 1103.2h0M1315.7 1056.1h0M1329.3 1097.8h0M1318.7 1091.3h0M1295.6 1106.1h0M1394.8 1104.5h0M1305.4 1084.0h0M1397.3 1107.9h0M1359.5 1078.6h0M1324.8 1065.3h0M1398.8 1107.6h0M1398.2 1094.1h0M1177.5 1104.9h0M1250.9 1106.4h0M1426.8 1071.3h0M1275.7 1091.7h0M1440.7 1095.3h0M1188.0 1108.4h0M1357.7 1092.2h0M1308.9 1092.4h0M1258.9 1085.0h0M1458.8 1108.4h0M1351.7 1072.4h0M1302.1 1100.8h0M1190.6 1105.3h0M1467.0 1103.9h0M1263.6 1103.7h0M1278.5 1106.2h0M1269.5 1106.8h0M1378.7 1106.9h0M1355.7 1098.5h0M1349.3 1100.8h0M1307.2 1105.7h0M1412.4 1094.5h0M1199.7 1103.6h0M1279.5 1074.8h0M1342.9 1097.6h0M1291.6 1100.1h0M1416.5 1090.2h0M1441.1 1042.3h0M1231.3 1104.4h0M1287.2 1106.9h0M1290.3 1091.2h0M1412.5 1103.5h0M1489.8 1102.0h0M1339.1 1107.2h0M1298.4 1105.2h0M1267.4 1106.2h0M1303.9 1105.4h0M1327.9 1105.7h0M1333.7 1107.9h0M1195.6 1107.9h0M1435.1 1089.9h0M1419.7 1088.9h0M1247.5 1100.2h0M1318.9 1087.6h0M1356.1 1097.5h0M1388.6 1098.5h0M1414.3 1098.0h0M1226.8 1097.9h0M1364.0 1107.8h0M1377.7 1106.2h0M1174.3 1107.8h0M1221.7 1105.7h0M1372.1 1102.6h0M1360.3 1066.3h0M1336.7 1085.5h0M1370.3 1097.7h0M1226.1 1104.1h0M1363.0 1053.3h0M1216.2 1096.8h0M1340.4 1106.6h0M1259.0 1106.0h0M1169.4 1107.5h0M1401.4 1088.5h0M1454.7 1105.4h0M1349.2 1099.1h0M1360.7 1064.7h0M1355.6 1103.4h0M1199.7 1108.4h0M1285.8 1108.3h0M1359.4 1094.7h0M1315.5 1107.8h0M1328.5 1103.2h0M1209.8 1102.5h0M1223.6 1108.2h0M1156.9 1091.4h0M1231.0 1097.5h0M1240.4 1100.5h0M1329.7 1081.9h0M1209.8 1107.8h0M1228.4 1107.6h0M1430.6 1097.3h0M1267.9 1108.2h0M1286.6 1099.2h0M1210.6 1099.2h0M1364.9 1105.8h0M1250.9 1105.2h0M1398.0 1070.3h0M1297.7 1107.5h0M1166.9 1107.5h0M1286.2 1105.6h0M1333.8 1099.0h0M1349.8 1100.0h0M1337.3 1102.1h0M1407.7 1072.4h0M1319.5 1105.5h0M1426.7 1075.1h0M1366.9 1099.3h0M1327.1 1102.9h0M1313.2 1105.9h0M1275.9 1106.8h0M1394.7 1069.5h0M1191.1 1106.5h0M1317.3 1108.2h0M1305.3 1094.0h0M1243.8 1099.7h0M1282.0 1094.8h0M1424.2 1100.4h0M1296.7 1098.4h0M1258.3 1108.2h0M1397.8 1079.2h0M1299.5 1104.4h0M1304.2 1095.8h0M1385.6 1105.6h0M1243.5 1085.8h0M1268.8 1108.2h0M1428.5 1076.4h0M1416.5 1105.6h0M1370.4 1093.9h0M1339.8 1100.1h0M1226.1 1103.5h0M1343.7 1106.2h0M1245.3 1106.8h0M1259.7 1106.9h0M1354.8 1058.6h0M1350.3 1099.4h0M1347.4 1103.9h0M1427.8 1099.3h0M1297.2 1100.6h0M1224.8 1107.8h0M1256.4 1107.8h0M1228.4 1103.5h0M1294.3 1077.3h0M1316.3 1087.4h0M1338.6 1070.7h0M1330.7 1099.1h0M1425.8 1057.1h0M1432.9 1102.1h0M1383.9 1100.2h0M1419.8 1099.6h0M1316.9 1088.3h0M1375.1 1105.3h0M1126.2 1100.8h0M1385.0 1094.4h0M1327.9 1103.4h0M1237.0 1088.7h0M1385.3 1034.4h0M1399.0 1098.3h0M1472.7 1014.3h0M1420.4 1089.5h0M1409.0 1085.4h0M1403.0 1096.6h0M1337.9 1089.1h0M1311.7 1072.8h0M1318.4 1094.8h0M1321.3 1071.1h0M1489.8 1100.1h0M1377.3 1078.5h0M1284.8 1093.7h0M1338.3 1106.8h0M1182.5 1106.6h0M1206.1 1108.2h0M1337.1 1088.6h0M1282.4 1097.3h0M1362.8 1044.7h0M1282.2 1071.9h0M1291.6 1104.4h0M1321.5 1072.6h0M1404.9 1078.6h0M1300.0 1103.4h0M1418.4 1107.3h0M1347.2 1106.9h0M1240.8 1100.2h0M1300.9 1106.6h0M1333.6 1097.3h0M1301.4 1049.2h0M1465.2 1100.6h0M1307.7 1093.0h0M1374.1 1103.1h0M1287.1 1100.9h0M1343.3 1101.6h0M1274.0 1100.3h0M1249.2 1084.8h0M1408.1 1106.7h0M1448.8 1074.0h0M1345.9 1107.4h0M1336.6 1096.7h0M1150.8 1108.4h0M1380.7 1057.5h0M1369.8 1102.3h0M1387.6 1078.9h0M1350.5 1098.0h0M1259.8 1106.7h0M1324.9 1106.3h0M1209.9 1107.7h0M1239.3 1102.4h0M1233.0 1107.0h0M1271.1 1104.5h0M1260.9 1105.2h0M1339.1 1108.1h0M1284.2 1093.9h0M1440.3 1089.3h0M1270.0 1085.2h0M1242.5 1094.2h0M1406.0 1104.4h0M1378.2 1095.6h0M1296.4 1101.8h0M1185.9 1102.8h0M1484.9 1105.2h0M1283.8 1103.4h0M1325.0 1080.1h0M1316.9 1048.9h0M1355.0 1076.0h0M1225.1 1101.5h0M1359.1 1102.5h0M1334.8 1105.0h0M1281.0 1112.2h0M1328.5 1103.7h0M1378.0 1089.5h0M1200.6 1108.0h0M1159.7 1105.1h0M1324.5 1105.7h0M1328.0 1099.4h0M1333.8 1102.0h0M1264.0 1104.2h0M1309.2 1107.9h0M1311.6 1094.9h0M1337.7 1084.9h0M1454.7 1103.1h0M1404.3 1073.0h0M1468.2 1057.9h0M1331.3 1105.8h0M1237.2 1103.9h0M1218.6 1096.3h0M1277.8 1106.1h0M1180.3 1103.6h0M1265.9 1107.3h0M1302.3 1097.7h0M1360.3 1100.9h0M1232.1 1102.3h0M1237.7 1106.2h0M1341.0 1100.0h0M1346.9 1107.8h0M1414.7 1089.4h0M1183.0 1105.6h0M1484.3 1100.9h0M1409.6 1108.2h0M1272.0 1102.6h0M1421.7 1096.7h0M1280.0 1094.8h0M1311.2 1085.7h0M1473.2 1099.6h0M1349.1 1101.9h0M1426.3 1036.1h0M1387.3 1091.1h0M1206.8 1101.9h0M1256.6 1097.7h0M1345.9 1085.3h0M1375.0 1107.1h0M1307.2 1099.4h0M1357.2 1103.1h0M1248.6 1107.1h0M1271.6 1107.5h0M1260.3 1098.9h0M1343.6 1060.5h0M1396.3 1090.4h0M1321.4 1099.3h0M1401.4 1093.2h0M1366.1 1089.1h0M1446.1 1084.6h0M1394.5 1104.0h0M1371.4 1097.1h0M1283.1 1100.9h0M1104.3 1103.8h0M1387.7 1064.2h0M1252.6 1102.5h0M1267.9 1101.1h0M1317.9 1097.2h0M1404.0 1098.0h0M1388.3 1106.3h0M1334.0 1099.4h0M1207.0 1105.2h0M1336.9 1099.9h0M1392.3 1101.5h0M1269.6 1106.3h0M1229.9 1107.0h0M1262.0 1107.2h0M1385.9 1104.7h0M1373.6 1085.6h0M1321.6 1096.2h0M1221.2 1102.0h0M1309.8 1105.3h0M1283.2 1102.9h0M1286.1 1100.7h0M1240.6 1107.2h0M1190.2 1103.7h0M1405.2 1082.4h0M1432.1 1093.6h0M1374.6 1051.4h0M1283.3 1104.1h0M1325.1 1103.9h0M1283.0 1104.4h0M1236.8 1101.2h0M1286.0 1108.2h0M1316.9 1098.5h0M1306.8 1094.7h0M1271.9 1100.3h0M1291.4 1074.6h0M1139.5 1105.7h0M1362.2 1082.0h0M1322.6 1108.1h0M1234.2 1092.0h0M1122.7 1107.8h0M1266.1 1102.1h0M1273.3 1081.3h0M1321.9 1100.4h0M1302.2 1104.8h0M1425.1 1103.3h0M1299.3 1053.3h0M1323.3 1069.1h0M1293.5 1107.1h0M1284.5 1105.0h0M1295.2 1095.2h0M1316.3 1093.0h0M1224.0 1106.6h0M1282.2 1108.3h0M1305.4 1103.7h0M1291.6 1072.7h0M1214.0 1106.8h0M1241.6 1108.0h0M1301.8 1064.2h0M1321.9 1098.4h0M1383.6 1108.2h0M1183.3 1103.1h0M1316.0 1082.0h0M1268.7 1107.0h0M1429.7 1099.1h0M1326.4 1108.1h0M1353.8 1101.8h0M1301.2 1099.0h0M1387.3 1107.8h0M1331.3 1067.9h0M1412.1 1091.5h0M1307.3 1104.3h0M1317.2 1108.0h0M1253.2 1108.4h0M1311.9 1090.0h0M1236.2 1107.5h0M1370.0 1098.8h0M1276.8 1104.8h0M1301.7 1101.3h0M1390.7 1081.5h0M1370.4 1102.0h0M1205.6 1103.2h0M1365.0 1088.2h0M1210.3 1107.8h0M1353.0 1100.3h0M1331.7 1103.3h0M1176.1 1107.8h0M1396.3 1100.3h0M1424.1 1072.8h0M1170.1 1103.7h0M1304.1 1106.3h0M1431.9 1064.5h0M1319.5 1103.3h0M1345.1 1084.4h0M1281.4 1091.3h0M1248.0 1108.1h0M1367.7 1059.3h0M1264.2 1088.4h0M1283.5 1107.0h0M1340.0 1045.8h0M1450.0 1096.8h0M1263.3 1104.0h0M1371.2 1053.5h0M1349.4 1095.9h0M1366.3 1104.2h0M1317.9 1083.3h0M1388.4 1109.3h0M1365.1 1060.2h0M1342.4 1085.4h0M1266.2 1088.7h0M1243.5 1095.0h0M1222.3 1100.9h0M1232.9 1102.9h0M1363.2 1096.2h0M1479.6 1101.9h0M1323.8 1106.0h0M1397.9 1097.5h0M1330.1 1108.0h0M1309.9 1081.8h0M1254.2 1104.6h0M1364.2 1098.6h0M1338.0 1093.0h0M1303.3 1096.6h0M1342.9 1104.8h0M1300.5 1106.0h0M1275.8 1096.5h0M1218.0 1094.8h0M1176.9 1107.2h0M1347.7 1097.8h0M1393.5 1056.0h0M1217.2 1108.2h0M1189.9 1107.4h0M1413.2 1104.1h0M1340.5 1104.0h0M1243.9 1105.0h0M1311.2 1107.3h0M1320.0 1104.1h0M1234.1 1089.8h0M1317.4 1090.2h0M1327.2 1084.1h0M1334.4 1104.4h0M1346.4 1102.1h0M1211.5 1107.0h0M1343.4 1091.8h0M1444.5 1103.4h0M1315.0 1103.3h0M1095.0 1105.5h0M1229.8 1108.2h0M1322.0 1097.2h0M1390.9 1102.7h0M1220.6 1103.9h0M1295.7 1104.2h0M1130.8 1100.9h0M1276.1 1107.8h0M1289.1 1088.9h0M1321.1 1098.3h0M1402.8 1025.2h0M1332.4 1097.4h0M1364.5 1103.3h0M1200.4 1094.1h0M1341.4 1099.8h0M1256.4 1116.7h0M1279.4 1106.5h0M1181.6 1103.0h0M1320.6 1100.3h0M1303.8 1102.1h0M1316.4 1101.0h0M1246.5 1100.9h0M1352.8 1098.5h0M1313.9 1107.6h0M1354.3 1097.4h0M1255.3 1098.2h0M1420.0 1083.2h0M1268.4 1104.9h0M1266.8 1105.7h0M1435.0 1084.1h0M1334.4 1100.2h0M1323.7 1104.1h0M1313.2 1091.5h0M1300.8 1103.1h0M1246.4 1107.9h0M1322.9 1094.2h0M1349.8 1107.4h0M1417.1 1100.9h0M1340.5 1101.7h0M1380.8 1107.5h0M1305.1 1107.8h0M1215.8 1108.4h0M1359.1 1094.4h0M1445.1 1081.4h0M1243.8 1105.9h0M1331.4 1100.8h0M1255.2 1107.2h0M1294.6 1084.6h0M1295.3 1105.9h0M1437.9 1094.1h0M1327.8 1090.2h0M1388.4 1038.6h0M1266.6 1093.1h0M1359.4 1098.2h0M1384.9 1091.8h0M1335.2 1102.5h0M1307.9 1094.7h0M1397.2 1101.3h0M1316.4 1093.3h0M1378.9 1086.3h0M1436.8 1106.1h0M1350.4 1088.4h0M1446.1 1053.7h0M1365.3 1107.5h0M1226.9 1100.6h0M1339.7 1087.5h0M1332.6 1094.3h0M1309.1 1105.5h0M1264.2 1103.3h0M1291.5 1098.9h0M1263.1 1106.3h0M1349.8 1099.7h0M1266.4 1102.7h0M1336.4 1099.5h0M1362.5 1095.1h0M1395.2 1084.1h0M1262.7 1104.0h0M1268.9 1108.0h0M1322.7 1102.2h0M1393.2 1109.3h0M1403.6 1085.7h0M1402.0 1097.3h0M1322.9 1087.4h0M1331.4 1107.7h0M1316.2 1105.1h0M1171.4 1074.1h0M1353.5 1101.2h0M1229.4 1108.4h0M1407.3 1087.4h0M1384.2 1099.6h0M1307.4 1094.5h0M1203.8 1103.9h0M1384.3 1088.2h0M1329.4 1086.7h0M1359.3 1107.5h0M1326.9 1104.1h0M1307.9 1126.6h0M1223.4 1106.5h0M1305.8 1101.2h0M1182.0 1105.3h0M1275.8 1106.0h0M1333.0 1084.2h0M1317.2 1096.0h0M1370.1 1072.6h0M1476.6 1012.3h0M1190.8 1107.4h0M1141.8 1107.2h0M1284.6 1106.7h0M1296.4 1107.7h0M1245.9 1105.2h0M1367.8 1106.8h0M1262.2 1097.2h0M1421.3 1072.5h0M1403.3 1105.2h0M1302.6 1105.3h0M1236.7 1102.9h0M1241.2 1102.5h0M1169.4 1107.7h0M1251.0 1093.3h0M1215.3 1107.3h0M1292.1 1106.6h0M1172.7 1105.8h0M1338.9 1100.1h0M1206.5 1102.5h0M1314.5 1086.9h0M1259.7 1105.1h0M1352.9 1106.8h0M1211.5 1103.8h0M1471.3 1106.9h0M1249.7 1106.7h0M1256.6 1105.4h0M1384.6 1107.4h0M1310.6 1106.8h0M1196.9 1106.4h0M1372.4 1094.1h0M1357.2 1089.2h0M1376.4 1096.0h0M1370.2 1091.7h0M1363.4 1104.0h0M1454.6 1108.0h0M1213.0 1107.5h0M1314.6 1090.8h0M1267.5 1106.1h0M1332.6 1104.8h0M1349.7 1099.2h0M1262.0 1094.2h0M1312.7 1084.4h0M1238.6 1100.5h0M1279.2 1095.0h0M1367.5 1089.6h0M1368.1 1091.0h0M1301.3 1063.0h0M1272.2 1105.9h0M1283.0 1092.9h0M1271.8 1126.2h0M1395.1 1097.8h0M1353.5 1107.4h0M1349.2 1099.1h0M1396.2 1097.4h0M1235.0 1087.7h0M1312.0 1076.4h0M1368.0 1096.4h0M1367.7 1099.8h0M1306.6 1098.6h0M1414.2 1107.8h0M1329.2 1074.7h0M1322.4 1107.1h0M1312.1 1104.5h0M1238.2 1106.9h0M1387.2 1093.6h0M1321.4 1097.1h0M1248.6 1087.4h0M1433.2 1107.2h0M1316.7 1060.9h0M1317.3 1107.9h0M1284.8 1106.8h0M1312.9 1078.6h0M1287.3 1086.4h0M1310.8 1108.4h0M1364.9 1107.4h0M1425.7 1103.0h0M1332.3 1105.1h0M1266.7 1103.6h0M1367.5 1093.3h0M1306.6 1089.0h0M1213.0 1101.6h0M1343.5 1100.7h0M1188.6 1107.9h0M1300.1 1104.2h0M1344.2 1100.1h0M1274.5 1107.9h0M1455.9 1105.7h0M1284.7 1090.1h0M1205.4 1095.7h0M1393.5 1105.6h0M1397.3 1082.2h0M1298.1 1097.8h0M1393.1 1076.5h0M1440.9 1034.4h0M1226.3 1106.5h0M1258.6 1107.7h0M1253.7 1106.9h0M1323.2 1100.0h0M1332.6 1102.3h0M1356.1 1081.5h0M1375.4 1086.8h0M1420.0 1091.9h0M1427.2 1107.9h0M1306.4 1099.4h0M1219.2 1105.3h0M1318.5 1103.4h0M1357.9 1107.4h0M1411.2 1083.7h0M1370.4 1090.2h0M1214.4 1107.9h0M1336.8 1105.0h0M1180.7 1106.8h0M1279.5 1104.5h0M1450.2 1080.2h0M1282.3 1103.4h0M1302.3 1093.6h0M1214.6 1091.8h0M1389.2 1101.8h0M1314.3 1090.7h0M1234.6 1106.9h0M1235.6 1088.9h0M1309.9 1088.5h0M1274.3 1095.7h0M1379.3 1107.7h0M1293.2 1107.1h0M1250.4 1107.5h0M1247.3 1089.3h0M1273.9 1098.4h0M1356.2 1103.3h0M1313.0 1102.2h0M1207.3 1108.3h0M1339.3 1097.9h0M1338.8 1089.0h0M1380.4 1105.4h0M1399.2 1091.1h0M1473.3 1064.7h0M1276.6 1096.0h0M1289.5 1102.9h0M1283.0 1104.4h0M1378.8 1099.2h0M1279.3 1094.0h0M1320.1 1107.0h0M1152.1 1105.7h0M1259.8 1107.4h0M1197.8 1106.4h0M1473.6 1064.0h0M1406.8 1039.1h0M1293.6 1096.9h0M1209.6 1105.1h0M1421.5 1095.4h0M1136.3 1106.3h0M1352.1 1101.9h0M1227.4 1107.6h0M1167.5 1108.2h0M1257.2 1103.1h0M1353.8 1116.9h0M1256.6 1087.7h0M1393.4 1101.7h0M1242.9 1099.9h0M1368.7 1103.4h0M1333.3 1100.3h0M1372.8 1104.3h0M1220.7 1101.5h0M1347.9 1086.1h0M1351.5 1103.6h0M1370.6 1095.5h0M1407.2 1106.7h0M1317.2 1097.8h0M1286.2 1107.3h0M1476.5 1083.6h0M1414.3 1088.2h0M1403.5 1106.3h0M1269.4 1099.4h0M1308.7 1103.3h0M1260.1 1102.2h0M1201.1 1106.2h0M1341.6 1104.9h0M1272.5 1089.9h0M1423.5 1102.6h0M1319.2 1086.7h0M1475.0 1102.1h0M1220.8 1108.0h0M1317.7 1102.6h0M1378.9 1101.4h0M1318.0 1105.2h0M1314.1 1107.8h0M1248.8 1097.4h0M1352.0 1107.8h0M1361.7 1090.9h0M1343.1 1104.7h0M1373.5 1062.3h0M1230.9 1104.6h0M1302.4 1105.4h0M1246.3 1103.1h0M1273.1 1107.4h0M1319.8 1104.1h0M1324.6 1092.9h0M1348.8 1102.5h0M1283.6 1107.6h0M1292.7 1101.5h0M1297.4 1103.9h0M1311.0 1098.3h0M1297.5 1100.3h0M1393.2 1087.6h0M1338.3 1076.5h0M1238.6 1100.0h0M1333.8 1092.6h0M1236.4 1105.6h0M1298.9 1092.7h0M1266.6 1105.3h0M1260.9 1097.3h0M1363.6 1089.1h0M1263.0 1107.5h0M1231.3 1105.8h0M1380.4 1099.4h0M1372.9 1094.6h0M1250.3 1105.2h0M1236.1 1095.8h0M1365.7 1083.4h0M1375.1 1102.9h0M1339.3 1080.0h0M1437.2 1079.3h0M1240.3 1104.5h0M1229.6 1100.9h0M1301.0 1107.3h0M1380.1 1100.1h0M1227.3 1108.0h0M1356.5 1085.0h0M1363.6 1107.4h0M1335.1 1102.7h0M1360.6 1098.5h0M1283.7 1104.2h0M1334.4 1091.4h0M1346.7 1103.6h0M1299.6 1073.4h0M1377.5 1065.0h0M1459.1 1070.1h0M1348.3 1092.9h0M1258.6 1104.5h0M1346.0 1079.0h0M1269.3 1103.4h0M1405.7 1094.3h0M1341.8 1101.5h0M1204.9 1106.9h0M1372.0 1108.0h0M1435.1 1038.5h0M1248.1 1094.8h0M1255.5 1099.4h0M1398.8 1093.1h0M1415.4 1077.3h0M1411.9 1082.4h0M1334.9 1088.2h0M1428.8 1040.3h0M1342.0 1081.2h0M1294.8 1106.8h0M1257.5 1102.6h0M1252.1 1100.8h0M1329.7 1081.1h0M1323.2 1096.6h0M1306.9 1104.8h0M1460.4 1099.9h0M1538.4 1098.5h0M1491.5 1106.4h0M1459.2 1093.7h0M1542.6 1094.1h0M1496.1 1098.0h0M1490.8 1102.6h0M1491.0 1049.1h0M1505.2 1087.2h0M1458.6 1096.1h0M1476.1 1067.0h0M1513.7 1103.3h0M1488.6 1001.9h0M1478.4 1092.2h0M1486.2 1075.3h0M1572.0 1037.5h0M1467.4 1093.8h0M1508.1 1053.6h0M1524.9 1082.2h0M1526.2 1078.2h0M1465.4 1106.0h0M1492.3 1052.9h0M1472.0 1084.0h0M1484.6 1075.8h0M1517.4 1096.1h0M1497.8 1098.6h0M1470.3 1050.0h0M1459.0 1091.6h0M1332.9 1079.0h0M1421.8 1057.8h0M1386.7 1061.5h0M1415.5 1054.3h0M1328.9 1068.6h0M1395.7 1059.3h0M1352.5 1069.7h0M1389.1 1067.1h0M1400.4 1056.5h0M1351.5 1066.2h0M1444.5 1048.7h0M1339.9 1072.6h0M1347.5 1075.7h0M1352.6 1073.2h0M1393.6 1055.0h0M1357.8 1067.5h0M1437.2 1059.1h0M1408.5 1054.2h0M1359.5 1059.9h0M1463.9 1053.3h0M1366.2 1066.0h0M1355.2 1070.4h0M1391.0 1069.3h0M1434.7 1053.7h0M1340.4 1066.1h0M1429.0 1053.7h0M1434.3 1055.4h0M1418.5 1056.5h0M1364.1 1061.3h0M1435.9 1057.1h0M1406.1 1059.4h0M1330.3 1072.0h0M1371.8 1071.8h0M1452.2 1049.3h0M1342.4 1077.9h0M1326.0 1079.7h0M1440.1 1052.7h0M1391.0 1060.1h0M1398.2 1055.8h0M1375.6 1065.1h0M1371.0 1057.7h0M1340.2 1068.9h0M1443.4 1053.1h0M1433.9 1057.8h0M1444.8 1063.6h0M1340.4 1074.7h0M1435.8 1060.2h0M1338.6 1074.4h0M1442.1 1054.1h0M1362.0 1066.2h0M1366.6 1069.4h0M1417.7 1057.3h0M1358.3 1065.4h0M1451.8 1052.8h0M1338.6 1069.5h0M1357.5 1073.1h0M1420.0 1050.1h0M1446.6 1051.5h0M1335.3 1066.3h0M1327.2 1076.4h0M1375.8 1067.7h0M1343.5 1073.9h0M1325.4 1071.3h0M1370.8 1060.8h0M1384.0 1053.4h0M1327.6 1074.2h0M1361.8 1074.8h0M1347.3 1073.7h0M1396.8 1053.2h0M1453.7 1055.3h0M1338.7 1078.1h0M1436.3 1052.1h0M1423.9 1059.0h0M1358.4 1075.2h0M1394.1 1059.9h0M1462.6 1048.7h0M1368.4 1067.6h0M1377.6 1062.7h0M1343.3 1064.0h0M1466.4 1047.0h0M1449.6 1052.4h0M1400.0 1056.3h0M1169.2 1026.2h0M1278.2 1015.2h0M1396.1 982.2h0M1460.9 985.9h0M1528.7 1018.9h0M1572.8 1042.8h0M1499.2 1059.3h0M1566.9 996.9h0M1403.2 1042.2h0M1385.3 1029.2h0M1350.3 1046.7h0M1331.6 1058.9h0M1475.9 1004.0h0M1378.2 1030.4h0M1387.0 1057.8h0M1354.3 1054.3h0M1439.4 1037.8h0M1452.1 1037.4h0M1334.6 1059.4h0M1366.6 1057.8h0M1434.0 1012.3h0M1330.3 1061.4h0M1372.1 1059.3h0M1466.4 1047.2h0M1329.2 1058.8h0M1447.7 1052.9h0M1335.4 1057.7h0M1471.5 981.8h0M1445.2 993.5h0M1395.1 1062.4h0M1452.2 989.5h0M1418.6 1020.1h0M1357.1 1047.1h0M1471.7 981.8h0M1388.6 1044.9h0M1456.6 1062.3h0M1370.0 1044.2h0M1456.9 1027.4h0M1479.4 1061.7h0M1395.2 1053.0h0M1461.6 1019.9h0M1468.5 1034.4h0M1436.2 1050.6h0M1357.5 1048.3h0M1451.7 1027.5h0M1421.9 1034.0h0M1360.3 1047.8h0M1461.3 1059.5h0M1443.3 1006.7h0M1326.2 1060.8h0M1416.7 1036.9h0" stroke="#b4b4b4" stroke-opacity="0.45" stroke-width="5.2" stroke-linecap="round" fill="none"/>
<path d="M1307.5 1108.2h0M1323.0 1069.6h0M1253.5 1101.8h0M1388.3 1098.5h0M1226.8 1103.4h0M1386.7 1094.4h0M1268.7 1088.0h0M1387.4 1105.5h0M1270.7 1108.4h0M1225.4 1108.0h0M1264.8 1082.2h0M1264.4 1100.5h0M1284.2 1102.6h0M1310.3 1099.8h0M1356.1 1070.9h0M1207.5 1107.7h0M1399.1 1107.3h0M1358.4 1102.9h0M1320.6 1088.8h0M1246.7 1108.2h0M1323.2 1081.8h0M1352.7 1096.1h0M1321.2 1096.3h0M1355.1 1054.4h0M1332.1 1091.1h0M1389.5 1103.0h0M1353.1 1043.3h0M1248.6 1105.0h0M1287.5 1106.0h0M1363.6 1097.4h0M1479.4 1081.7h0M1332.7 1038.5h0M1217.4 1098.5h0M1265.4 1107.1h0M1251.0 1105.3h0M1399.5 1100.0h0M1307.3 1099.4h0M1230.6 1107.6h0M1370.2 1107.6h0M1268.4 1096.4h0M1265.7 1105.5h0M1233.0 1104.3h0M1295.0 1106.9h0M1322.8 1098.1h0M1439.8 1038.6h0M1326.3 1103.9h0M1270.9 1080.2h0M1299.4 1107.4h0M1190.9 1113.5h0M1311.0 1106.1h0M1356.4 1104.6h0M1364.3 1102.0h0M1397.5 1106.1h0M1373.6 1068.9h0M1232.9 1097.3h0M1396.0 1106.6h0M1266.2 1104.6h0M1334.0 1095.4h0M1393.5 1097.7h0M1138.4 1106.7h0M1296.6 1099.1h0M1157.7 1106.1h0M1212.6 1089.4h0M1245.1 1104.2h0M1389.9 1099.4h0M1311.1 1100.1h0M1406.3 1091.9h0M1413.5 1098.6h0M1237.8 1106.2h0M1321.6 1105.1h0M1315.6 1107.9h0M1321.5 1103.3h0M1442.4 1052.3h0M1252.4 1107.7h0M1276.4 1059.5h0M1298.0 1095.1h0M1314.6 1101.7h0M1445.2 1107.2h0M1269.1 1105.2h0M1424.5 1107.9h0M1483.3 1029.7h0M1286.8 1083.7h0M1369.5 1101.0h0M1467.7 1071.2h0M1236.9 1106.7h0M1291.7 1105.3h0M1377.1 1104.8h0M1289.9 1108.4h0M1410.7 1106.2h0M1350.2 1100.9h0M1340.9 1101.1h0M1356.8 1101.4h0M1348.6 1087.1h0M1303.8 1087.2h0M1251.5 1108.4h0M1205.4 1102.9h0M1371.1 1107.1h0M1311.2 1099.4h0M1341.0 1010.3h0M1302.4 1107.7h0M1392.3 1098.9h0M1271.2 1106.1h0M1460.7 1058.3h0M1402.8 1086.8h0M1262.6 1101.4h0M1336.0 1093.3h0M1380.7 1098.5h0M1449.1 1106.1h0M1296.1 1101.5h0M1333.8 1077.0h0M1223.2 1122.2h0M1332.2 1108.2h0M1318.5 1096.4h0M1332.6 1087.1h0M1141.9 1098.8h0M1288.4 1086.2h0M1293.2 1088.4h0M1350.9 1096.5h0M1200.8 1104.7h0M1376.9 1104.5h0M1192.9 1108.2h0M1367.5 1042.3h0M1294.9 1090.1h0M1290.1 1103.3h0M1288.7 1105.6h0M1313.8 1077.2h0M1254.1 1083.2h0M1324.4 1083.0h0M1182.5 1105.1h0M1320.2 1101.4h0M1267.1 1102.1h0M1311.0 1103.1h0M1222.4 1106.2h0M1374.1 1084.1h0M1264.2 1085.8h0M1299.9 1079.7h0M1486.0 1068.1h0M1320.0 1099.8h0M1284.6 1093.0h0M1339.3 1100.8h0M1403.5 1097.9h0M1308.6 1104.1h0M1356.1 1034.8h0M1334.8 1100.7h0M1298.0 1098.6h0M1314.9 1105.1h0M1273.1 1107.1h0M1370.4 1104.5h0M1247.7 1107.0h0M1301.1 1060.1h0M1325.5 1091.4h0M1357.4 1104.7h0M1220.1 1104.6h0M1339.6 1078.1h0M1274.1 1103.2h0M1376.7 1107.1h0M1283.2 1105.5h0M1249.1 1105.8h0M1317.4 1100.5h0M1400.1 1105.8h0M1381.8 1106.5h0M1312.1 1082.0h0M1359.1 1107.6h0M1310.4 1106.9h0M1308.0 1104.2h0M1158.1 1108.2h0M1383.4 1106.6h0M1279.6 1105.5h0M1318.9 1098.8h0M1387.1 1063.9h0M1299.2 1102.8h0M1368.1 1103.2h0M1264.8 1101.4h0M1293.6 1105.8h0M1448.0 1104.5h0M1449.4 1072.8h0M1347.1 1096.0h0M1341.5 1099.2h0M1327.7 1105.7h0M1443.5 1078.7h0M1354.2 1053.3h0M1345.2 1105.2h0M1352.0 1106.0h0M1234.9 1102.1h0M1447.2 1060.1h0M1269.4 1105.7h0M1338.6 1100.7h0M1434.4 1106.0h0M1204.7 1106.4h0M1290.4 1061.4h0M1326.3 1103.9h0M1277.0 1107.0h0M1291.3 1097.7h0M1225.6 1110.1h0M1424.1 1102.9h0M1231.4 1107.8h0M1307.4 1108.2h0M1369.5 1105.5h0M1395.7 1103.1h0M1275.7 1091.9h0M1210.6 1106.7h0M1336.3 1088.7h0M1429.6 1083.2h0M1464.7 1106.9h0M1243.9 1102.9h0M1213.3 1107.2h0M1291.9 1103.1h0M1234.4 1107.1h0M1460.3 1093.2h0M1294.9 1100.0h0M1260.1 1108.0h0M1298.3 1104.0h0M1350.4 1089.6h0M1377.7 1107.6h0M1354.5 1073.5h0M1311.9 1083.2h0M1280.0 1106.1h0M1391.2 1101.1h0M1333.4 1094.2h0M1393.7 1107.3h0M1349.5 1108.2h0M1162.4 1103.2h0M1378.3 1106.5h0M1341.6 1085.2h0M1270.5 1101.1h0M1293.2 1106.0h0M1316.1 1101.3h0M1295.2 1063.4h0M1329.9 1072.6h0M1162.2 1100.7h0M1225.9 1107.7h0M1323.5 1086.0h0M1147.6 1095.7h0M1451.9 1097.7h0M1394.5 1064.7h0M1378.6 1072.1h0M1339.7 1074.2h0M1335.6 1107.9h0M1288.4 1103.6h0M1360.2 1086.8h0M1395.0 1101.7h0M1303.1 1095.6h0M1398.6 1078.0h0M1339.7 1105.6h0M1246.7 1102.9h0M1301.9 1093.9h0M1361.3 1071.7h0M1373.7 1105.2h0M1438.7 1097.9h0M1197.3 1107.6h0M1402.7 1107.5h0M1258.0 1099.9h0M1351.5 1100.8h0M1422.1 1087.3h0M1196.1 1107.5h0M1223.2 1101.2h0M1223.6 1107.7h0M1232.3 1105.2h0M1319.8 1101.6h0M1282.3 1108.4h0M1373.9 1108.2h0M1300.5 1106.8h0M1254.6 1093.4h0M1266.7 1099.0h0M1223.6 1092.8h0M1366.7 1104.5h0M1260.9 1089.3h0M1487.5 1101.5h0M1217.4 1107.0h0M1309.9 1103.2h0M1359.5 1105.5h0M1214.1 1100.7h0M1298.7 1082.9h0M1267.2 1106.1h0M1343.0 1106.6h0M1407.2 1106.9h0M1300.3 1106.5h0M1387.6 1098.2h0M1351.7 1082.3h0M1372.9 1108.0h0M1347.2 1100.1h0M1312.2 1090.1h0M1275.8 1102.4h0M1449.9 1094.0h0M1446.7 1076.5h0M1412.0 1098.7h0M1343.7 1107.6h0M1275.0 1103.2h0M1233.5 1107.8h0M1429.9 1102.4h0M1230.6 1102.6h0M1255.8 1101.3h0M1300.2 1093.3h0M1310.5 1098.3h0M1288.9 1102.0h0M1382.5 1096.6h0M1411.9 1099.9h0M1352.2 1090.1h0M1235.8 1102.9h0M1450.5 1082.2h0M1199.1 1093.9h0M1328.3 1102.8h0M1389.2 1099.5h0M1302.7 1099.8h0M1270.5 1094.6h0M1349.0 1081.0h0M1395.1 1105.5h0M1258.6 1105.1h0M1346.8 1105.8h0M1301.2 1104.7h0M1177.0 1103.6h0M1287.7 1103.0h0M1351.8 1106.6h0M1475.1 1096.9h0M1369.4 1101.7h0M1409.2 1108.3h0M1405.6 1091.8h0M1299.0 1083.3h0M1296.7 1103.5h0M1468.2 1098.2h0M1292.6 1093.1h0M1387.5 1069.8h0M1274.0 1090.6h0M1307.1 1105.7h0M1242.9 1101.0h0M1246.4 1107.5h0M1256.6 1106.7h0M1444.5 1108.1h0M1473.7 1089.1h0M1302.7 1086.7h0M1246.9 1102.1h0M1163.6 1101.9h0M1416.3 1063.3h0M1330.7 1090.9h0M1314.4 1090.7h0M1233.9 1107.6h0M1373.6 1105.7h0M1236.2 1094.2h0M1381.7 1081.7h0M1370.4 1106.9h0M1464.5 1082.7h0M1404.9 1090.3h0M1446.6 1106.4h0M1297.5 1102.1h0M1409.0 1106.4h0M1475.0 1060.8h0M1222.8 1105.5h0M1291.8 1102.3h0M1458.1 1101.9h0M1337.1 1107.7h0M1221.8 1106.9h0M1402.5 1094.8h0M1422.2 1080.3h0M1339.5 1105.6h0M1304.9 1104.2h0M1425.0 1092.3h0M1288.0 1105.7h0M1337.5 1066.6h0M1218.9 1097.8h0M1401.1 1094.6h0M1351.4 1107.6h0M1388.1 1100.6h0M1365.7 1091.5h0M1364.7 1092.5h0M1393.5 1093.6h0M1423.8 1074.6h0M1388.9 1106.2h0M1274.2 1097.4h0M1183.4 1108.3h0M1343.4 1105.6h0M1277.3 1108.4h0M1232.5 1101.6h0M1247.6 1113.8h0M1263.0 1105.0h0M1380.3 1105.6h0M1294.8 1104.0h0M1399.3 1071.2h0M1337.7 1101.6h0M1257.9 1100.5h0M1221.8 1105.1h0M1287.7 1102.4h0M1410.9 1067.8h0M1359.7 1104.2h0M1310.3 1102.7h0M1335.3 1105.6h0M1250.0 1107.6h0M1328.8 1096.9h0M1180.6 1104.4h0M1288.1 1106.0h0M1300.0 1102.7h0M1350.2 1011.4h0M1413.9 1062.6h0M1374.5 1085.4h0M1359.1 1102.7h0M1204.4 1100.7h0M1156.2 1104.7h0M1320.3 1098.9h0M1383.0 1095.2h0M1353.7 1045.6h0M1276.5 1091.4h0M1291.8 1095.4h0M1391.6 1105.2h0M1293.8 1089.3h0M1371.5 1087.9h0M1274.5 1097.2h0M1268.9 1066.5h0M1334.6 1102.9h0M1386.5 1104.7h0M1375.3 1048.8h0M1288.0 1123.6h0M1322.6 1107.6h0M1340.7 1108.0h0M1328.1 1115.1h0M1229.0 1107.5h0M1196.8 1105.7h0M1238.7 1105.1h0M1345.1 1108.0h0M1393.0 1090.2h0M1165.6 1099.8h0M1370.8 1077.8h0M1384.4 1100.5h0M1369.1 1075.0h0M1372.5 1098.6h0M1328.2 1083.5h0M1406.2 1083.5h0M1292.5 1099.7h0M1252.2 1100.8h0M1278.3 1083.9h0M1333.6 1094.6h0M1416.7 1083.1h0M1312.4 1107.7h0M1305.1 1106.1h0M1291.7 1099.7h0M1302.1 1100.6h0M1362.2 1079.9h0M1193.8 1101.4h0M1326.4 1106.3h0M1292.1 1101.3h0M1293.7 1100.6h0M1443.9 1085.2h0M1319.3 1096.8h0M1423.8 1073.6h0M1321.2 1102.1h0M1220.4 1106.5h0M1282.3 1101.2h0M1350.7 1102.1h0M1247.6 1107.8h0M1385.4 1077.9h0M1324.9 1099.8h0M1193.4 1107.8h0M1295.3 1106.0h0M1315.5 1100.3h0M1270.5 1094.2h0M1402.4 1046.9h0M1388.4 1102.4h0M1407.2 1098.6h0M1378.1 1078.0h0M1328.7 1107.2h0M1317.2 1107.9h0M1357.1 1094.2h0M1380.1 1098.9h0M1275.1 1101.3h0M1367.2 1106.1h0M1316.2 1100.0h0M1337.8 1103.8h0M1099.5 1101.7h0M1404.6 1100.2h0M1349.0 1099.1h0M1318.4 1095.3h0M1290.5 1090.0h0M1331.3 1094.4h0M1373.2 1101.6h0M1138.2 1104.5h0M1417.8 1101.6h0M1229.0 1098.8h0M1255.8 1102.7h0M1383.9 1094.9h0M1365.4 1090.4h0M1244.9 1105.8h0M1144.4 1104.1h0M1340.8 1097.1h0M1401.1 1094.7h0M1415.8 1103.7h0M1163.8 1107.8h0M1367.9 1105.7h0M1229.3 1104.6h0M1386.5 1107.2h0M1218.9 1094.8h0M1293.5 1101.7h0M1365.1 1076.0h0M1347.4 1093.1h0M1324.0 1104.1h0M1282.8 1107.5h0M1239.3 1101.1h0M1377.1 1106.9h0M1280.6 1099.6h0M1289.8 1099.4h0M1347.6 1090.3h0M1293.7 1105.6h0M1383.3 1108.4h0M1345.7 1106.8h0M1458.4 1100.7h0M1380.5 1107.3h0M1288.2 1071.8h0M1389.2 1104.0h0M1354.3 1099.6h0M1283.4 1103.3h0M1372.7 1102.1h0M1236.8 1103.2h0M1246.9 1105.7h0M1295.4 1103.7h0M1296.9 1107.7h0M1276.5 1102.6h0M1344.7 1099.6h0M1352.2 1104.5h0M1407.2 1077.6h0M1331.9 1101.0h0M1440.7 1105.7h0M1229.9 1102.8h0M1191.1 1107.7h0M1314.0 1097.4h0M1243.1 1096.4h0M1287.6 1105.5h0M1414.1 1064.9h0M1250.6 1106.6h0M1221.2 1098.2h0M1451.2 1071.2h0M1325.5 1097.8h0M1384.7 1103.7h0M1228.9 1097.0h0M1273.5 1072.7h0M1372.2 1108.1h0M1334.2 1094.5h0M1369.1 1092.5h0M1366.7 1103.6h0M1162.9 1106.6h0M1387.1 1113.7h0M1344.3 1100.1h0M1273.4 1093.8h0M1420.2 1088.5h0M1452.0 1082.5h0M1280.0 1104.0h0M1384.7 1112.0h0M1256.9 1107.2h0M1412.9 1096.0h0M1300.4 1107.4h0M1453.4 1093.5h0M1313.3 1099.6h0M1238.0 1100.7h0M1356.5 1104.0h0M1378.9 1091.3h0M1286.1 1105.5h0M1317.2 1095.3h0M1407.5 1104.9h0M1392.5 1096.1h0M1296.6 1090.6h0M1322.0 1107.9h0M1295.8 1102.1h0M1224.8 1106.0h0M1305.1 1103.2h0M1213.2 1107.9h0M1276.7 1107.9h0M1364.3 1071.3h0M1377.6 1106.9h0M1342.7 1104.4h0M1358.1 1105.8h0M1385.7 1092.9h0M1293.3 1093.2h0M1227.1 1107.2h0M1302.9 1098.7h0M1469.6 1060.0h0M1334.4 1089.2h0M1180.3 1106.6h0M1263.2 1103.7h0M1218.8 1108.0h0M1248.5 1096.7h0M1315.1 1093.4h0M1345.7 1101.2h0M1450.0 1099.0h0M1233.5 1107.2h0M1240.8 1090.0h0M1305.4 1104.4h0M1171.9 1098.1h0M1353.4 1102.9h0M1340.8 1090.6h0M1272.0 1092.8h0M1328.6 1105.3h0M1369.6 1104.3h0M1316.8 1107.3h0M1384.1 1074.2h0M1262.9 1099.7h0M1244.5 1106.6h0M1424.6 1097.3h0M1359.2 1102.4h0M1360.8 1088.0h0M1391.8 1103.1h0M1369.3 1096.0h0M1300.1 1101.2h0M1474.1 1107.4h0M1320.6 1090.1h0M1341.0 1090.2h0M1342.9 1104.8h0M1446.0 996.1h0M1437.8 1058.0h0M1347.0 1100.9h0M1195.8 1106.6h0M1277.4 1106.0h0M1193.5 1108.3h0M1264.7 1107.7h0M1364.6 1100.8h0M1295.2 1074.7h0M1292.7 1092.2h0M1388.3 1098.3h0M1243.0 1101.7h0M1334.3 1101.1h0M1266.8 1105.9h0M1258.0 1102.3h0M1336.8 1105.7h0M1272.2 1102.6h0M1415.4 1073.7h0M1447.7 1104.9h0M1244.2 1103.9h0M1384.8 1107.1h0M1388.7 1105.5h0M1461.9 1081.2h0M1272.8 1102.5h0M1405.5 1111.2h0M1340.2 1099.2h0M1282.4 1096.5h0M1411.1 1063.0h0M1353.2 1099.1h0M1383.1 1036.8h0M1278.0 1080.8h0M1363.9 1066.2h0M1275.6 1099.5h0M1265.3 1095.3h0M1243.1 1105.7h0M1300.3 1106.9h0M1303.9 1096.5h0M1249.7 1101.4h0M1223.6 1105.0h0M1300.7 1073.8h0M1414.3 1096.7h0M1210.3 1100.3h0M1444.0 1106.3h0M1314.7 1103.4h0M1345.8 1088.1h0M1324.5 1065.9h0M1434.5 1070.3h0M1343.6 1076.5h0M1307.4 1104.3h0M1268.7 1105.5h0M1315.6 1107.3h0M1330.9 1103.8h0M1391.7 1112.4h0M1285.4 1105.2h0M1310.3 1096.5h0M1389.9 1097.5h0M1333.8 1090.5h0M1355.7 1099.9h0M1291.9 1107.2h0M1314.3 1093.5h0M1394.1 1096.9h0M1253.7 1096.6h0M1337.3 1106.6h0M1379.5 1086.9h0M1309.7 1072.4h0M1490.1 1059.9h0M1255.6 1097.7h0M1402.3 1085.1h0M1185.5 1105.8h0M1467.3 1108.2h0M1411.8 1095.0h0M1364.7 1101.5h0M1301.8 1107.4h0M1307.9 1107.9h0M1340.6 1079.0h0M1204.4 1106.5h0M1289.3 1120.2h0M1328.2 1108.0h0M1355.8 1074.1h0M1288.4 1103.6h0M1399.6 1090.7h0M1413.3 1048.6h0M1353.3 1083.4h0M1287.1 1076.1h0M1324.7 1100.5h0M1222.1 1108.2h0M1253.0 1095.7h0M1335.1 1108.4h0M1257.6 1100.9h0M1349.4 1029.7h0M1237.2 1103.5h0M1425.6 1095.7h0M1404.8 1107.0h0M1308.5 1102.2h0M1444.4 1048.9h0M1360.9 1104.9h0M1429.5 1066.2h0M1405.4 1094.9h0M1322.0 1105.2h0M1226.5 1106.5h0M1408.4 1055.6h0M1233.4 1108.1h0M1463.8 1107.5h0M1331.8 1106.0h0M1205.6 1106.1h0M1269.9 1087.7h0M1385.2 1100.0h0M1245.6 1087.2h0M1331.4 1103.8h0M1295.9 1092.9h0M1203.5 1106.3h0M1270.9 1099.8h0M1332.3 1096.7h0M1275.8 1102.0h0M1357.7 1082.9h0M1260.2 1097.7h0M1204.1 1108.4h0M1301.0 1100.0h0M1207.8 1098.8h0M1340.7 1098.4h0M1396.7 1106.1h0M1263.1 1067.0h0M1318.4 1086.4h0M1392.4 1091.7h0M1194.6 1101.7h0M1202.6 1104.4h0M1288.8 1103.9h0M1338.9 1105.8h0M1169.9 1107.5h0M1279.7 1102.1h0M1367.6 1102.0h0M1307.8 1093.5h0M1382.8 1090.2h0M1249.8 1105.9h0M1369.5 1095.0h0M1330.3 1094.5h0M1276.0 1103.1h0M1289.2 1101.2h0M1276.7 1103.6h0M1336.5 1099.2h0M1336.8 1064.8h0M1403.7 1025.1h0M1293.9 1090.7h0M1326.4 1107.4h0M1261.0 1088.5h0M1354.7 1049.3h0M1262.0 1100.1h0M1269.5 1094.2h0M1321.4 1094.7h0M1455.3 1097.7h0M1272.1 1107.3h0M1425.6 1099.9h0M1253.6 1100.5h0M1308.9 1102.2h0M1374.2 1092.8h0M1242.6 1101.5h0M1319.8 1100.2h0M1309.4 1097.9h0M1385.2 1056.7h0M1323.7 1091.3h0M1403.3 1063.1h0M1188.0 1105.5h0M1173.7 1103.9h0M1185.1 1107.9h0M1416.4 1103.0h0M1433.5 1102.3h0M1446.0 1100.3h0M1383.8 1094.2h0M1350.6 1082.0h0M1390.9 1102.2h0M1214.5 1107.3h0M1277.6 1098.3h0M1352.6 1101.5h0M1338.8 1094.2h0M1170.3 1103.9h0M1327.1 1090.8h0M1263.1 1080.7h0M1346.0 1092.9h0M1372.6 1076.5h0M1370.4 1097.8h0M1479.7 1103.6h0M1366.9 1101.8h0M1286.4 1101.1h0M1277.5 1088.3h0M1347.2 1103.8h0M1210.3 1105.7h0M1324.9 1068.2h0M1408.8 1059.8h0M1342.1 1102.2h0M1281.2 1104.6h0M1282.9 1108.4h0M1442.6 1101.3h0M1311.2 1100.7h0M1398.1 1104.6h0M1310.7 1074.1h0M1107.9 1108.3h0M1289.9 1074.8h0M1278.4 1100.3h0M1333.4 1088.7h0M1329.9 1107.6h0M1387.0 1103.0h0M1266.8 1103.0h0M1351.4 1091.7h0M1346.2 1073.5h0M1277.1 1106.7h0M1335.0 1078.0h0M1368.3 1111.5h0M1332.4 1098.9h0M1463.4 1091.4h0M1315.5 1106.0h0M1373.7 1108.4h0M1239.7 1100.6h0M1158.7 1103.3h0M1305.7 1105.7h0M1241.4 1105.1h0M1295.1 1102.4h0M1401.1 1096.9h0M1245.8 1108.4h0M1303.8 1096.4h0M1319.0 1090.6h0M1346.5 1065.1h0M1316.7 1094.9h0M1226.3 1107.3h0M1250.6 1103.8h0M1293.8 1095.6h0M1264.1 1108.4h0M1414.3 1090.0h0M1341.2 1106.8h0M1322.1 1095.2h0M1412.6 1089.1h0M1340.9 1108.2h0M1404.4 1107.7h0M1255.2 1106.9h0M1263.4 1096.1h0M1303.4 1098.8h0M1256.3 1108.1h0M1244.7 1084.8h0M1378.4 1103.2h0M1382.6 1102.3h0M1301.1 1100.1h0M1298.2 1103.1h0M1247.6 1103.9h0M1341.0 1077.6h0M1322.4 1108.9h0M1211.8 1106.7h0M1425.9 1105.1h0M1366.0 1099.6h0M1412.5 1105.5h0M1385.2 1106.2h0M1337.1 1107.0h0M1327.9 1095.3h0M1378.2 1081.5h0M1411.5 1100.3h0M1272.8 1107.7h0M1446.1 1099.9h0M1250.4 1094.5h0M1263.3 1106.9h0M1287.5 1099.8h0M1400.5 1002.1h0M1216.4 1094.7h0M1402.6 1104.6h0M1327.3 1093.9h0M1206.4 1106.6h0M1308.1 1086.8h0M1334.8 1102.6h0M1392.4 1097.8h0M1299.8 1098.3h0M1303.1 1107.2h0M1415.5 1082.8h0M1265.8 1087.9h0M1143.8 1096.2h0M1277.4 1108.3h0M1134.7 1107.3h0M1268.6 1107.0h0M1284.5 1107.2h0M1443.3 1069.2h0M1127.8 1100.6h0M1268.7 1104.7h0M1245.8 1103.2h0M1345.0 1087.8h0M1286.2 1097.0h0M1339.9 1088.6h0M1338.6 1103.9h0M1362.1 1099.0h0M1239.9 1095.8h0M1371.2 1091.9h0M1368.4 1089.1h0M1355.3 1107.9h0M1328.3 1098.1h0M1431.5 1096.0h0M1279.3 1095.6h0M1249.1 1096.1h0M1402.2 1108.3h0M1222.2 1107.0h0M1287.0 1105.2h0M1273.0 1104.4h0M1384.7 1103.4h0M1376.0 1040.3h0M1257.7 1104.5h0M1335.9 1104.3h0M1345.0 1095.9h0M1270.5 1100.9h0M1417.2 1094.8h0M1286.7 1076.1h0M1299.9 1099.2h0M1227.4 1096.2h0M1340.4 1090.6h0M1355.0 1092.6h0M1272.7 1104.3h0M1289.2 1092.0h0M1271.7 1097.8h0M1255.4 1102.2h0M1277.6 1106.0h0M1308.9 1101.1h0M1347.6 1107.2h0M1285.5 1103.4h0M1202.9 1100.6h0M1309.7 1097.7h0M1267.4 1089.0h0M1344.3 1103.8h0M1401.2 1072.2h0M1260.0 1101.7h0M1354.6 1106.9h0M1289.5 1101.7h0M1411.0 1101.7h0M1335.2 1109.8h0M1393.7 1095.7h0M1275.3 1105.5h0M1379.0 1104.2h0M1455.2 1098.4h0M1303.7 1107.0h0M1351.5 1106.2h0M1309.1 1110.7h0M1444.5 1094.6h0M1282.8 1063.3h0M1219.7 1102.6h0M1433.7 1053.7h0M1416.6 1092.8h0M1220.3 1106.3h0M1286.6 1085.9h0M1224.2 1097.0h0M1378.3 1099.2h0M1295.2 1100.5h0M1277.3 1102.7h0M1292.1 1107.1h0M1402.3 1105.6h0M1425.6 1096.0h0M1302.1 1108.1h0M1280.0 1107.6h0M1288.4 1091.6h0M1170.3 1089.3h0M1329.0 1096.8h0M1175.3 1100.0h0M1359.7 1097.1h0M1396.1 1075.3h0M1352.0 1095.4h0M1443.8 1100.5h0M1343.8 1108.1h0M1446.0 1099.2h0M1298.6 1091.1h0M1383.2 1097.3h0M1262.4 1105.6h0M1314.1 1107.8h0M1298.1 1087.5h0M1213.3 1101.8h0M1304.8 1093.6h0M1304.6 1096.1h0M1355.3 1089.9h0M1367.2 1102.7h0M1201.0 1097.3h0M1432.0 1104.8h0M1435.8 1092.1h0M1302.0 1072.7h0M1478.5 1012.8h0M1477.0 1108.0h0M1457.8 1090.5h0M1492.6 1064.7h0M1460.2 1098.0h0M1495.6 1101.9h0M1473.9 1104.5h0M1504.9 1043.1h0M1491.1 1100.8h0M1521.9 1057.2h0M1474.7 1020.6h0M1525.9 1091.5h0M1519.0 1102.4h0M1492.0 1034.8h0M1500.8 1081.5h0M1538.9 1063.1h0M1530.3 1116.5h0M1540.7 1093.6h0M1475.6 1063.6h0M1556.8 1078.2h0M1499.1 1110.9h0M1464.2 1082.7h0M1476.2 1105.2h0M1528.4 1090.5h0M1488.4 1092.7h0M1518.7 1096.3h0M1478.3 1054.1h0M1507.4 1079.9h0M1420.5 1056.2h0M1324.4 1069.6h0M1402.7 1062.3h0M1388.7 1071.4h0M1344.9 1066.9h0M1459.9 1057.9h0M1423.1 1057.3h0M1405.1 1061.1h0M1409.8 1059.1h0M1434.7 1052.6h0M1444.5 1049.6h0M1378.7 1065.1h0M1456.2 1055.6h0M1375.2 1061.1h0M1419.5 1062.3h0M1444.8 1054.9h0M1457.4 1047.6h0M1446.3 1055.3h0M1385.2 1066.9h0M1401.4 1061.6h0M1410.3 1064.5h0M1390.9 1061.7h0M1334.4 1074.0h0M1355.9 1069.1h0M1392.5 1064.2h0M1325.8 1073.8h0M1393.9 1059.3h0M1396.5 1056.8h0M1380.3 1060.6h0M1385.8 1053.2h0M1409.8 1055.4h0M1367.6 1072.0h0M1338.3 1062.9h0M1356.4 1066.4h0M1383.8 1053.3h0M1416.3 1062.6h0M1330.1 1072.8h0M1331.1 1074.7h0M1407.8 1064.4h0M1342.8 1071.6h0M1447.6 1054.5h0M1405.4 1058.8h0M1343.8 1065.7h0M1445.0 1043.7h0M1423.2 1059.2h0M1335.1 1076.2h0M1420.5 1055.5h0M1331.1 1078.5h0M1454.1 1049.5h0M1402.0 1059.4h0M1403.3 1057.9h0M1464.0 1050.3h0M1457.4 1046.2h0M1356.4 1062.1h0M1380.9 1065.5h0M1445.2 1052.8h0M1461.8 1046.9h0M1369.8 1067.6h0M1458.1 1053.6h0M1331.9 1068.1h0M1362.6 1059.5h0M1381.3 1070.2h0M1366.7 1068.5h0M1460.4 1052.8h0M1374.5 1067.4h0M1337.1 1068.8h0M1432.5 1045.9h0M1364.7 1069.2h0M1440.5 1055.4h0M1332.1 1075.8h0M1382.8 1064.1h0M1430.9 1054.9h0M1344.2 1070.1h0M1370.5 1066.3h0M1359.0 1062.6h0M1360.2 1068.2h0M1461.4 1051.1h0M1382.6 1058.0h0M1413.1 1062.5h0M1379.4 1060.1h0M1442.5 1060.0h0M1440.1 1047.7h0M1201.6 1028.1h0M1416.7 960.2h0M1366.6 982.2h0M1490.4 996.9h0M1543.4 1022.6h0M1599.4 1051.9h0M1508.0 1040.9h0M1493.3 1026.2h0M1384.5 1044.6h0M1437.1 1001.5h0M1460.3 1024.7h0M1460.8 1051.0h0M1376.1 1035.0h0M1385.1 1027.6h0M1326.4 1061.0h0M1463.5 1027.2h0M1448.4 1015.6h0M1437.8 1057.3h0M1356.2 1043.0h0M1420.2 1031.1h0M1433.3 1059.7h0M1398.7 1025.0h0M1465.8 1007.4h0M1359.6 1053.9h0M1393.3 1047.7h0M1446.8 1030.4h0M1359.7 1045.7h0M1447.6 1048.2h0M1381.9 1056.2h0M1477.7 973.6h0M1442.0 1040.4h0M1329.0 1061.6h0M1429.2 1007.4h0M1470.8 1059.9h0M1343.8 1054.6h0M1476.9 1000.5h0M1399.3 1030.3h0M1457.5 997.5h0M1445.9 999.6h0M1453.1 1020.5h0M1332.4 1062.6h0M1446.1 1040.8h0M1394.0 1039.8h0M1431.5 1045.6h0M1447.2 1024.4h0M1325.0 1061.3h0M1326.9 1061.4h0M1422.6 1058.1h0M1392.4 1049.9h0M1444.2 1061.2h0" stroke="#b4b4b4" stroke-opacity="0.45" stroke-width="5.2" stroke-linecap="round" fill="none"/>
<path d="M1392.4 1096.6h0M1199.3 1108.1h0M1195.7 1108.2h0M1226.2 1106.7h0M1290.1 1103.1h0M1366.9 1083.5h0M1394.6 1103.2h0M1316.5 1104.7h0M1229.1 1111.8h0M1165.5 1106.2h0M1312.3 1100.2h0M1359.4 1103.3h0M1340.7 1085.6h0M1414.2 1108.2h0M1360.1 1089.8h0M1304.7 1107.2h0M1317.9 1099.7h0M1232.5 1075.6h0M1196.9 1105.5h0M1303.0 1105.7h0M1307.8 1104.5h0M1310.3 1101.8h0M1363.5 1103.2h0M1312.8 1096.6h0M1277.8 1102.2h0M1349.7 1100.4h0M1347.3 1083.6h0M1380.2 1072.0h0M1359.8 1097.1h0M1413.4 1073.1h0M1254.7 1104.1h0M1392.7 1081.6h0M1227.3 1106.4h0M1224.1 1107.5h0M1272.1 1083.4h0M1278.0 1096.6h0M1321.4 1106.0h0M1356.9 1102.6h0M1286.7 1091.4h0M1391.9 1107.9h0M1238.3 1105.1h0M1304.3 1075.8h0M1346.6 1105.9h0M1328.0 1098.6h0M1446.6 1093.2h0M1315.6 1107.1h0M1354.7 1088.0h0M1240.4 1092.7h0M1256.4 1103.1h0M1378.9 1072.5h0M1301.9 1095.8h0M1365.4 1075.2h0M1349.8 1083.6h0M1415.6 1102.6h0M1305.6 1098.1h0M1261.1 1107.4h0M1406.6 1062.4h0M1184.6 1096.7h0M1271.2 1089.5h0M1355.7 1100.3h0M1288.9 1093.5h0M1425.0 1083.7h0M1326.6 1095.2h0M1311.9 1103.0h0M1393.8 1112.3h0M1303.3 1071.0h0M1365.1 1088.8h0M1338.0 1103.6h0M1386.2 1073.8h0M1370.8 1094.7h0M1241.2 1107.6h0M1281.0 1082.6h0M1219.9 1101.1h0M1294.5 1095.8h0M1331.6 1093.1h0M1353.3 1102.1h0M1297.3 1087.6h0M1282.2 1089.2h0M1352.0 1094.0h0M1390.0 1059.7h0M1411.6 1098.8h0M1323.2 1093.9h0M1358.4 1095.5h0M1389.8 1105.9h0M1369.3 1098.7h0M1371.0 1108.3h0M1276.0 1094.1h0M1366.7 1104.0h0M1385.4 1105.3h0M1305.8 1108.1h0M1207.7 1108.3h0M1361.5 1064.9h0M1405.9 1083.6h0M1421.6 1091.3h0M1161.8 1108.0h0M1367.0 1096.9h0M1266.4 1089.4h0M1214.7 1105.0h0M1366.4 1096.1h0M1353.3 1105.1h0M1384.8 1087.9h0M1279.5 1106.5h0M1448.4 1114.2h0M1440.2 1107.4h0M1308.2 1098.1h0M1426.3 1089.1h0M1202.0 1097.7h0M1191.0 1107.7h0M1270.3 1100.4h0M1369.6 1083.3h0M1371.0 1106.0h0M1374.4 1007.8h0M1403.9 1088.6h0M1354.2 1098.2h0M1332.6 1080.9h0M1268.5 1105.5h0M1360.5 1108.4h0M1406.8 1102.3h0M1344.4 1084.7h0M1288.2 1103.8h0M1291.8 1105.9h0M1402.9 1087.9h0M1458.6 1093.3h0M1295.9 1102.2h0M1271.5 1106.7h0M1223.9 1106.9h0M1362.3 1094.8h0M1319.5 1098.9h0M1436.2 1060.9h0M1389.0 1074.3h0M1190.7 1103.7h0M1362.9 1093.8h0M1379.1 1036.1h0M1334.0 1078.4h0M1331.4 1094.0h0M1238.6 1098.2h0M1310.6 1106.2h0M1281.3 1095.5h0M1368.5 1099.2h0M1244.0 1096.1h0M1418.1 1124.0h0M1423.0 1080.5h0M1333.9 1084.3h0M1329.7 1107.3h0M1429.5 1027.4h0M1353.4 1047.0h0M1357.9 1102.9h0M1194.7 1103.8h0M1340.9 1090.7h0M1309.0 1101.9h0M1381.2 1106.5h0M1319.7 1107.6h0M1428.3 1107.2h0M1307.8 1105.4h0M1303.0 1089.5h0M1328.3 1099.8h0M1260.8 1094.0h0M1322.2 1073.9h0M1248.9 1108.2h0M1207.3 1107.2h0M1278.8 1094.1h0M1343.1 1107.1h0M1219.4 1107.7h0M1360.7 1091.1h0M1250.8 1098.8h0M1252.0 1107.8h0M1245.3 1106.8h0M1385.9 1090.7h0M1342.2 1106.8h0M1361.7 1100.6h0M1352.2 1108.0h0M1271.7 1090.9h0M1294.5 1098.1h0M1332.3 1107.7h0M1458.5 1105.0h0M1293.9 1095.8h0M1295.9 1106.1h0M1362.0 1068.2h0M1340.5 1100.7h0M1368.9 1107.8h0M1464.0 1088.8h0M1294.0 1106.2h0M1294.0 1089.2h0M1272.1 1105.6h0M1250.0 1106.5h0M1459.5 1094.1h0M1328.1 1088.6h0M1258.2 1107.8h0M1356.2 1081.8h0M1443.1 1091.3h0M1414.5 1067.8h0M1358.6 1093.8h0M1358.5 1100.7h0M1439.8 1101.6h0M1267.5 1106.9h0M1336.4 1103.1h0M1372.3 1064.8h0M1342.1 1108.2h0M1254.3 1107.7h0M1344.3 1087.5h0M1356.8 1093.4h0M1332.0 1075.9h0M1402.7 1104.8h0M1389.4 1083.5h0M1277.9 1104.4h0M1406.8 1098.3h0M1407.2 1068.8h0M1354.2 1097.4h0M1293.0 1073.2h0M1380.1 1107.9h0M1381.8 1099.9h0M1303.9 1099.3h0M1447.9 1108.0h0M1273.5 1098.8h0M1246.7 1101.7h0M1302.6 1104.2h0M1329.7 1100.8h0M1218.5 1107.7h0M1375.5 1107.8h0M1234.9 1103.1h0M1425.2 1031.8h0M1384.2 1097.4h0M1331.3 1074.7h0M1277.1 1106.6h0M1387.5 1091.8h0M1200.6 1118.6h0M1412.0 1094.2h0M1257.1 1100.3h0M1252.2 1085.6h0M1352.3 1086.3h0M1428.9 1106.7h0M1396.8 1062.8h0M1341.8 1097.2h0M1331.2 1087.4h0M1371.0 1093.6h0M1364.3 1085.0h0M1207.1 1107.4h0M1265.7 1092.7h0M1388.4 1106.3h0M1395.7 1108.2h0M1304.7 1082.9h0M1276.9 1098.7h0M1474.8 1091.4h0M1369.8 1103.7h0M1416.1 1096.5h0M1273.2 1107.1h0M1419.2 1095.3h0M1403.6 1073.0h0M1283.5 1103.0h0M1306.0 1106.3h0M1279.9 1095.9h0M1315.1 1098.1h0M1331.1 1107.1h0M1233.5 1105.6h0M1293.1 1106.3h0M1167.6 1104.2h0M1303.6 1082.0h0M1353.0 1071.8h0M1370.9 1107.6h0M1175.5 1104.0h0M1308.7 1107.2h0M1218.5 1099.9h0M1450.3 1097.1h0M1288.9 1106.0h0M1382.3 1078.9h0M1321.0 1088.2h0M1340.5 1090.1h0M1410.5 1106.0h0M1114.9 1107.8h0M1419.3 1099.9h0M1344.5 1087.5h0M1277.0 1099.2h0M1352.3 1103.9h0M1305.7 1070.4h0M1288.7 1109.2h0M1306.5 1091.6h0M1343.1 1102.2h0M1383.0 1092.2h0M1464.6 1060.4h0M1366.5 1098.5h0M1252.8 1094.7h0M1365.8 1105.1h0M1402.8 1103.2h0M1150.5 1104.6h0M1222.0 1101.6h0M1177.1 1106.6h0M1303.3 1092.3h0M1309.3 1107.9h0M1166.6 1106.8h0M1250.5 1103.6h0M1299.8 1090.3h0M1440.9 1100.6h0M1353.7 1094.3h0M1279.0 1107.7h0M1215.6 1105.9h0M1344.6 1100.5h0M1252.1 1106.5h0M1426.0 1071.0h0M1314.1 1088.1h0M1353.3 1099.1h0M1321.7 1086.2h0M1277.9 1099.5h0M1190.5 1108.3h0M1287.8 1098.2h0M1327.4 1079.1h0M1389.7 1097.0h0M1321.5 1104.6h0M1280.9 1105.8h0M1414.9 1025.9h0M1306.3 1094.3h0M1263.4 1099.7h0M1332.0 1106.8h0M1383.6 1083.1h0M1402.2 1095.3h0M1195.5 1101.7h0M1313.1 1107.0h0M1348.8 1105.1h0M1420.8 1079.6h0M1363.0 1081.0h0M1417.8 1066.1h0M1353.5 1097.4h0M1349.4 1095.8h0M1257.6 1105.2h0M1264.7 1108.2h0M1328.0 1069.6h0M1238.7 1106.5h0M1337.4 1074.1h0M1362.1 1096.9h0M1270.7 1108.4h0M1277.2 1107.3h0M1287.0 1092.2h0M1445.5 1106.3h0M1304.2 1097.1h0M1324.1 1104.6h0M1363.0 1099.4h0M1285.2 1081.5h0M1213.1 1104.2h0M1294.2 1103.7h0M1413.8 1116.1h0M1290.5 1087.0h0M1305.7 1107.7h0M1360.0 1104.7h0M1301.3 1105.0h0M1392.4 1085.6h0M1274.2 1103.2h0M1294.7 1080.1h0M1182.5 1104.1h0M1273.7 1094.8h0M1490.1 1094.3h0M1256.1 1106.7h0M1326.5 1087.0h0M1289.5 1094.1h0M1274.1 1104.2h0M1320.4 1079.0h0M1357.0 1104.2h0M1298.5 1105.3h0M1257.0 1105.8h0M1428.8 1064.3h0M1277.6 1103.3h0M1278.7 1106.2h0M1252.9 1101.0h0M1214.4 1104.9h0M1392.4 1094.2h0M1261.9 1107.9h0M1361.5 1076.0h0M1336.8 1107.5h0M1188.9 1104.3h0M1465.6 1059.2h0M1434.3 1105.3h0M1317.3 1098.3h0M1268.7 1105.1h0M1239.5 1108.0h0M1310.4 1101.9h0M1317.5 1105.2h0M1372.8 1102.9h0M1379.8 1103.4h0M1200.2 1106.2h0M1140.1 1106.3h0M1480.8 1099.2h0M1302.3 1100.5h0M1329.9 1067.4h0M1342.6 1078.6h0M1297.7 1103.1h0M1261.1 1101.3h0M1390.9 1072.8h0M1263.3 1104.8h0M1401.9 1097.8h0M1297.7 1104.3h0M1332.1 1095.2h0M1290.3 1092.0h0M1420.2 1059.7h0M1276.2 1107.7h0M1332.9 1099.6h0M1319.3 1098.1h0M1264.6 1101.5h0M1205.8 1102.7h0M1384.7 1059.9h0M1178.6 1101.2h0M1216.0 1103.9h0M1342.2 1081.2h0M1436.0 1104.5h0M1481.3 1084.9h0M1473.8 1081.9h0M1251.6 1100.4h0M1318.9 1097.5h0M1306.7 1107.8h0M1387.8 1079.7h0M1247.9 1084.6h0M1316.2 1108.1h0M1324.7 1090.5h0M1285.2 1084.7h0M1372.7 1104.2h0M1335.4 1107.1h0M1299.1 1098.3h0M1422.4 1103.2h0M1218.1 1104.4h0M1350.0 1074.3h0M1215.5 1105.8h0M1259.4 1108.0h0M1260.8 1104.7h0M1350.5 1105.2h0M1329.8 1069.2h0M1361.5 1104.7h0M1336.4 1095.8h0M1341.0 1100.8h0M1260.6 1102.4h0M1346.2 1058.3h0M1399.5 1089.8h0M1179.5 1099.8h0M1290.9 1105.2h0M1311.4 1103.5h0M1377.2 1087.8h0M1240.6 1109.8h0M1431.9 1107.3h0M1313.2 1043.2h0M1314.4 1092.6h0M1319.0 1086.4h0M1313.8 1098.7h0M1407.6 1094.0h0M1237.7 1097.2h0M1343.9 1096.3h0M1329.0 1097.7h0M1224.6 1090.9h0M1360.5 1079.6h0M1302.3 1088.7h0M1379.8 1078.5h0M1153.2 1106.3h0M1253.4 1107.7h0M1322.1 1106.2h0M1156.2 1106.1h0M1404.6 1091.1h0M1315.8 1104.7h0M1285.7 1106.7h0M1314.3 1097.8h0M1342.3 1100.3h0M1316.9 1102.5h0M1243.4 1096.1h0M1256.3 1104.3h0M1199.5 1106.2h0M1457.3 1101.7h0M1288.8 1093.4h0M1315.3 1056.8h0M1396.6 1093.4h0M1233.3 1107.6h0M1275.8 1108.3h0M1426.3 1086.4h0M1405.0 1081.7h0M1320.9 1100.1h0M1457.5 1045.1h0M1222.0 1104.5h0M1418.8 1052.3h0M1200.2 1106.4h0M1328.8 1100.8h0M1367.8 1096.7h0M1252.4 1104.0h0M1232.4 1105.1h0M1266.4 1080.9h0M1290.6 1101.6h0M1250.3 1100.8h0M1281.8 1091.8h0M1265.3 1097.2h0M1357.0 1101.8h0M1359.5 1079.7h0M1302.8 1103.6h0M1430.3 1086.2h0M1273.7 1105.1h0M1185.3 1107.5h0M1328.9 1102.7h0M1299.9 1098.1h0M1316.4 1094.1h0M1307.1 1098.7h0M1290.4 1100.3h0M1313.1 1100.2h0M1338.2 1080.5h0M1302.7 1084.4h0M1285.8 1105.4h0M1289.4 1094.5h0M1239.1 1107.5h0M1335.0 1090.2h0M1305.8 1106.3h0M1412.5 1078.4h0M1379.1 1085.2h0M1359.2 1099.8h0M1354.2 1101.7h0M1278.6 1102.4h0M1330.5 1093.1h0M1317.3 1091.2h0M1286.6 1107.5h0M1398.6 1075.3h0M1292.3 1108.1h0M1375.6 1090.7h0M1304.9 1107.9h0M1281.1 1101.4h0M1340.0 1095.0h0M1294.7 1088.6h0M1286.8 1108.3h0M1251.6 1105.5h0M1401.1 1085.4h0M1387.0 1090.2h0M1283.3 1069.4h0M1273.3 1105.4h0M1295.7 1107.7h0M1283.8 1108.1h0M1288.3 1105.3h0M1159.7 1103.8h0M1223.0 1103.8h0M1235.6 1094.2h0M1262.5 1107.2h0M1393.1 1094.0h0M1346.7 1092.0h0M1406.9 1097.8h0M1325.1 1091.6h0M1186.2 1101.8h0M1442.7 1089.6h0M1409.5 1064.2h0M1295.0 1094.4h0M1134.9 1107.5h0M1330.1 1104.6h0M1239.1 1103.9h0M1294.5 1105.5h0M1339.5 1099.9h0M1287.7 1101.3h0M1295.2 1102.9h0M1301.8 1087.0h0M1290.1 1075.1h0M1302.6 1106.9h0M1278.9 1105.9h0M1307.4 1107.7h0M1353.1 1105.3h0M1337.8 1107.0h0M1235.5 1093.0h0M1207.8 1108.3h0M1274.3 1107.6h0M1254.3 1092.0h0M1283.3 1105.5h0M1339.0 1103.7h0M1329.1 1087.7h0M1345.1 1085.8h0M1308.3 1091.3h0M1379.5 1102.0h0M1389.9 1078.1h0M1340.2 1069.4h0M1215.3 1110.3h0M1317.9 1086.2h0M1348.8 1104.6h0M1330.7 1090.4h0M1354.1 1101.4h0M1428.0 1060.9h0M1233.9 1106.7h0M1222.2 1108.3h0M1355.0 1084.2h0M1332.9 1105.6h0M1378.2 1078.1h0M1383.1 1101.8h0M1279.8 1097.2h0M1213.0 1107.1h0M1167.1 1106.9h0M1239.3 1102.6h0M1269.4 1101.7h0M1278.8 1092.0h0M1383.4 1090.9h0M1355.7 1079.7h0M1348.9 1097.3h0M1382.0 1097.3h0M1304.7 1104.5h0M1297.9 1104.8h0M1410.8 1097.8h0M1261.4 1105.3h0M1289.0 1098.7h0M1349.5 1106.9h0M1259.4 1107.5h0M1370.1 1099.4h0M1308.2 1107.6h0M1213.5 1106.4h0M1426.9 1095.0h0M1312.4 1107.8h0M1335.9 1085.2h0M1367.5 1094.7h0M1220.9 1108.2h0M1312.2 1102.3h0M1270.9 1089.2h0M1321.5 1090.9h0M1340.2 1103.8h0M1311.6 1104.0h0M1287.1 1106.5h0M1318.9 1089.4h0M1262.1 1094.2h0M1324.8 1101.6h0M1274.6 1095.1h0M1321.5 1095.2h0M1311.2 1097.5h0M1319.9 1103.4h0M1373.9 1086.4h0M1359.5 1090.7h0M1320.4 1105.9h0M1418.2 1095.8h0M1321.6 1106.1h0M1353.7 1101.2h0M1354.9 1108.1h0M1236.7 1107.0h0M1365.5 1107.9h0M1312.8 1097.9h0M1311.2 1099.2h0M1358.9 1102.9h0M1259.9 1105.1h0M1380.4 1096.2h0M1306.1 1107.8h0M1303.9 1104.6h0M1414.1 1097.3h0M1347.9 1094.0h0M1273.8 1100.7h0M1295.7 1096.3h0M1302.9 1106.1h0M1208.1 1104.2h0M1249.5 1105.1h0M1281.5 1100.1h0M1222.4 1103.2h0M1311.8 1106.4h0M1302.2 1099.2h0M1372.1 1107.3h0M1284.2 1104.8h0M1299.5 1097.1h0M1393.9 1106.4h0M1430.1 1112.6h0M1261.3 1106.0h0M1388.8 1061.0h0M1257.8 1095.4h0M1232.8 1083.9h0M1298.3 1104.7h0M1295.4 1103.2h0M1398.4 1102.8h0M1280.0 1102.4h0M1260.8 1096.8h0M1462.3 1100.2h0M1109.2 1085.3h0M1278.4 1106.4h0M1375.6 1078.8h0M1356.8 1108.2h0M1332.1 1104.9h0M1284.6 1107.8h0M1383.4 1079.3h0M1391.3 1098.7h0M1339.6 1093.2h0M1332.1 1074.6h0M1348.7 1102.0h0M1369.9 1107.9h0M1355.0 1108.7h0M1322.0 1088.3h0M1369.8 1072.8h0M1411.5 1093.3h0M1257.6 1101.1h0M1292.0 1102.7h0M1218.2 1103.4h0M1278.7 1096.8h0M1398.8 1091.2h0M1256.9 1095.6h0M1291.9 1067.2h0M1302.1 1104.3h0M1326.9 1080.3h0M1278.4 1097.1h0M1273.4 1093.4h0M1318.7 1098.8h0M1227.9 1107.6h0M1424.0 1091.2h0M1453.9 1095.6h0M1267.0 1096.0h0M1281.9 1107.1h0M1207.7 1107.7h0M1291.2 1091.6h0M1243.2 1093.4h0M1300.8 1076.5h0M1267.1 1108.4h0M1312.9 1116.0h0M1306.2 1093.7h0M1199.1 1103.0h0M1333.3 1094.7h0M1288.2 1105.1h0M1297.9 1092.0h0M1413.6 1107.7h0M1358.5 1101.7h0M1309.5 1084.8h0M1238.0 1107.2h0M1227.0 1106.9h0M1311.2 1104.9h0M1365.0 1101.4h0M1424.5 1077.9h0M1367.1 1088.7h0M1314.3 1098.1h0M1337.2 1044.4h0M1246.0 1098.5h0M1372.8 1108.0h0M1368.6 1066.8h0M1308.2 1101.4h0M1237.3 1095.4h0M1355.7 1046.1h0M1214.4 1100.3h0M1288.3 1106.9h0M1332.3 1084.1h0M1356.7 1106.5h0M1325.9 1101.3h0M1374.4 1105.1h0M1398.5 1105.2h0M1139.0 1099.1h0M1306.9 1091.1h0M1352.8 1089.8h0M1215.7 1104.3h0M1358.8 1104.0h0M1265.1 1098.1h0M1405.7 1095.0h0M1388.5 1103.0h0M1276.4 1070.1h0M1340.0 1092.0h0M1091.1 1104.3h0M1433.0 1024.8h0M1362.8 1092.9h0M1356.2 1100.1h0M1273.1 1103.7h0M1357.6 1094.9h0M1377.3 1106.3h0M1337.4 1090.0h0M1294.9 1064.2h0M1268.4 1095.0h0M1281.3 1103.1h0M1243.1 1086.6h0M1322.1 1101.2h0M1413.3 1107.5h0M1242.0 1088.8h0M1381.2 1092.9h0M1251.5 1100.7h0M1308.8 1106.6h0M1467.1 1072.7h0M1316.5 1094.5h0M1345.1 1106.3h0M1227.5 1106.6h0M1402.0 1073.8h0M1337.1 1101.5h0M1313.7 1107.1h0M1411.1 1078.2h0M1195.3 1103.8h0M1213.8 1098.7h0M1412.2 1106.6h0M1421.5 1080.1h0M1132.0 1106.8h0M1218.7 1103.5h0M1355.6 1095.1h0M1411.9 1093.3h0M1411.9 1095.4h0M1286.5 1102.0h0M1194.6 1108.2h0M1268.8 1101.5h0M1262.7 1095.7h0M1264.7 1091.9h0M1335.1 1103.1h0M1367.8 1051.6h0M1421.9 1098.3h0M1319.4 1108.0h0M1351.0 1099.9h0M1355.6 1092.2h0M1265.4 1082.4h0M1292.6 1103.7h0M1232.6 1103.3h0M1327.2 1089.7h0M1342.6 1066.0h0M1373.6 1105.6h0M1309.0 1108.2h0M1267.3 1106.1h0M1332.3 1106.0h0M1251.4 1105.9h0M1379.0 1076.0h0M1329.9 1073.9h0M1241.2 1105.6h0M1312.8 1083.8h0M1344.9 1096.2h0M1328.7 1085.7h0M1452.1 1102.3h0M1341.8 1085.9h0M1397.5 1099.1h0M1407.4 1066.1h0M1257.3 1104.7h0M1241.9 1108.4h0M1363.6 1101.8h0M1413.3 1091.6h0M1314.2 1107.6h0M1313.9 1101.3h0M1315.9 1091.2h0M1308.1 1105.8h0M1352.5 1077.7h0M1271.3 1091.0h0M1391.8 1074.0h0M1310.1 1086.0h0M1447.5 1012.8h0M1382.2 1086.1h0M1343.9 1104.2h0M1333.8 1104.5h0M1357.9 1102.7h0M1363.2 1100.3h0M1284.4 1105.0h0M1290.7 1107.1h0M1318.3 1078.0h0M1231.5 1105.6h0M1278.5 1100.3h0M1314.2 1081.8h0M1247.8 1096.1h0M1344.0 998.0h0M1273.8 1099.2h0M1382.8 1100.6h0M1352.2 1091.3h0M1363.5 1106.2h0M1392.2 1036.4h0M1376.9 1106.5h0M1393.2 1060.0h0M1403.5 1103.6h0M1248.6 1096.7h0M1294.9 1083.1h0M1345.2 1093.4h0M1334.3 1098.0h0M1295.1 1105.1h0M1351.7 1088.3h0M1305.3 1107.3h0M1092.1 1108.3h0M1317.8 1096.3h0M1235.2 1107.9h0M1382.6 1112.3h0M1254.3 1083.8h0M1315.7 1107.7h0M1306.8 1106.3h0M1436.2 1103.2h0M1432.8 1100.0h0M1329.8 1088.1h0M1324.8 1106.2h0M1252.3 1106.2h0M1322.9 1089.3h0M1243.3 1107.9h0M1211.7 1106.7h0M1304.9 1094.2h0M1309.3 1048.5h0M1248.2 1096.2h0M1422.0 1105.9h0M1484.4 1101.1h0M1121.7 1105.9h0M1322.9 1106.4h0M1413.5 1103.5h0M1208.9 1108.3h0M1265.8 1106.6h0M1360.1 1063.7h0M1384.9 1055.3h0M1230.9 1106.3h0M1414.0 1095.3h0M1268.4 1105.6h0M1273.1 1083.2h0M1180.6 1107.9h0M1371.3 1088.2h0M1320.5 1106.4h0M1246.7 1104.3h0M1356.1 1044.9h0M1305.3 1107.3h0M1415.9 1091.1h0M1329.2 1097.8h0M1299.5 1104.0h0M1363.2 1064.2h0M1320.1 1098.5h0M1445.5 1111.8h0M1462.9 1072.8h0M1227.9 1105.4h0M1269.1 1089.1h0M1363.6 1106.1h0M1375.5 1093.2h0M1320.6 1096.0h0M1415.9 1089.6h0M1306.0 1088.4h0M1337.7 1090.9h0M1262.8 1104.5h0M1367.7 1104.2h0M1278.1 1102.3h0M1352.4 1044.5h0M1307.9 1098.5h0M1343.9 1072.9h0M1300.4 1094.0h0M1219.7 1091.9h0M1406.7 1096.5h0M1268.3 1098.3h0M1305.2 1094.3h0M1238.4 1086.5h0M1317.7 1107.1h0M1259.4 1101.7h0M1272.2 1108.3h0M1227.3 1108.4h0M1425.3 1076.9h0M1201.8 1103.5h0M1232.6 1100.5h0M1440.3 1097.3h0M1336.7 1059.4h0M1349.4 1064.3h0M1317.2 1111.3h0M1453.1 1080.3h0M1235.0 1105.6h0M1170.9 1108.1h0M1108.8 1096.3h0M1363.3 1079.0h0M1270.6 1106.0h0M1399.9 1106.5h0M1352.0 1079.4h0M1385.1 1100.8h0M1190.2 1094.3h0M1375.6 1067.7h0M1291.6 1079.3h0M1276.3 1104.3h0M1214.9 1100.3h0M1298.0 1107.6h0M1233.5 1096.9h0M1264.5 1104.5h0M1271.5 1080.1h0M1347.7 1098.6h0M1408.9 1102.0h0M1347.2 1094.7h0M1262.9 1085.7h0M1379.2 1080.9h0M1300.0 1116.8h0M1362.3 1100.2h0M1266.7 1099.2h0M1373.1 1088.3h0M1367.2 1095.7h0M1382.5 1057.6h0M1307.6 1107.7h0M1360.3 1103.7h0M1221.3 1104.8h0M1280.8 1102.5h0M1271.3 1096.1h0M1391.9 1090.9h0M1355.1 1082.8h0M1278.0 1102.5h0M1390.4 1107.5h0M1186.9 1100.1h0M1408.2 1103.0h0M1329.3 1095.9h0M1446.1 1050.8h0M1373.7 1099.0h0M1349.0 1098.3h0M1334.9 1103.1h0M1212.3 1108.3h0M1277.3 1101.1h0M1254.8 1106.8h0M1294.4 1107.0h0M1306.7 1103.3h0M1374.9 1074.4h0M1300.7 1100.9h0M1306.4 1102.5h0M1349.7 1104.2h0M1124.5 1098.7h0M1259.0 1106.9h0M1310.3 1095.1h0M1357.3 1080.7h0M1472.1 1092.7h0M1339.5 1089.5h0M1331.3 1093.3h0M1509.2 1097.8h0M1509.1 1095.2h0M1462.0 1131.3h0M1528.5 1000.0h0M1459.6 1094.4h0M1465.3 1039.6h0M1497.2 1000.6h0M1492.6 1096.3h0M1455.7 1038.4h0M1483.8 1014.7h0M1467.5 1081.1h0M1460.3 1054.3h0M1547.6 1065.5h0M1552.5 1097.5h0M1534.7 1101.7h0M1468.4 1066.4h0M1509.4 1055.9h0M1480.6 1081.4h0M1489.6 1059.3h0M1536.6 1092.7h0M1457.6 1106.0h0M1495.3 1042.1h0M1495.1 1088.6h0M1523.9 1058.1h0M1466.4 1077.6h0M1501.0 1024.2h0M1513.5 1090.3h0M1433.6 1062.3h0M1411.7 1063.5h0M1433.9 1056.5h0M1458.5 1050.0h0M1386.8 1063.9h0M1337.1 1066.1h0M1334.2 1072.7h0M1427.6 1052.7h0M1375.9 1067.9h0M1386.9 1073.2h0M1445.4 1051.8h0M1348.6 1070.5h0M1339.7 1067.9h0M1340.8 1072.8h0M1382.4 1068.2h0M1439.1 1053.6h0M1376.0 1065.2h0M1329.7 1072.2h0M1329.6 1070.8h0M1355.2 1073.5h0M1463.9 1048.3h0M1337.3 1073.8h0M1461.7 1052.0h0M1388.1 1060.5h0M1351.0 1064.6h0M1456.2 1048.6h0M1441.9 1054.0h0M1370.8 1069.6h0M1447.1 1044.6h0M1462.7 1048.6h0M1417.1 1055.2h0M1350.7 1065.2h0M1460.4 1047.6h0M1419.1 1054.9h0M1422.9 1059.5h0M1331.3 1066.5h0M1457.0 1051.5h0M1459.6 1059.2h0M1461.5 1049.8h0M1334.9 1076.5h0M1405.3 1058.0h0M1397.6 1060.0h0M1437.8 1051.3h0M1465.4 1047.7h0M1345.2 1073.2h0M1382.4 1065.8h0M1419.6 1056.9h0M1461.5 1039.7h0M1334.9 1071.2h0M1359.1 1079.9h0M1374.2 1061.7h0M1450.7 1056.8h0M1351.2 1074.3h0M1365.5 1069.9h0M1466.2 1056.2h0M1425.2 1061.5h0M1331.3 1068.2h0M1371.9 1073.6h0M1382.0 1060.2h0M1445.1 1050.1h0M1363.9 1069.6h0M1454.5 1055.5h0M1455.3 1045.3h0M1449.6 1050.5h0M1441.4 1048.3h0M1329.7 1082.1h0M1366.0 1067.7h0M1448.5 1054.3h0M1389.8 1054.4h0M1365.0 1059.3h0M1398.8 1068.4h0M1392.2 1059.1h0M1466.8 1051.0h0M1460.5 1051.2h0M1405.6 1055.0h0M1352.7 1078.9h0M1326.6 1077.3h0M1425.8 1056.6h0M1409.8 1059.8h0M1448.1 1052.0h0M1338.1 1073.4h0M1329.5 1076.5h0M1338.9 1071.9h0M1245.8 1000.5h0M1437.3 951.0h0M1455.0 978.5h0M1502.1 1011.6h0M1552.2 1029.9h0M1513.9 1074.0h0M1519.8 989.5h0M1487.4 1081.3h0M1354.6 1053.1h0M1476.2 985.2h0M1453.4 1014.8h0M1341.3 1062.2h0M1325.8 1061.1h0M1417.6 1044.9h0M1476.6 1052.7h0M1455.3 991.0h0M1432.5 1046.0h0M1371.7 1050.8h0M1330.3 1061.2h0M1431.0 999.9h0M1474.2 1009.3h0M1346.7 1053.9h0M1472.0 1047.5h0M1483.2 1043.4h0M1466.2 1009.0h0M1467.3 1032.6h0M1448.9 1035.2h0M1462.8 1030.6h0M1399.7 1054.3h0M1455.8 1039.4h0M1367.6 1056.6h0M1468.1 1025.2h0M1354.8 1060.2h0M1441.4 1007.7h0M1357.3 1058.2h0M1373.4 1050.5h0M1445.1 1032.5h0M1440.4 1051.0h0M1458.0 1011.6h0M1448.8 1057.4h0M1441.4 1050.5h0M1323.7 1062.4h0M1445.5 996.1h0M1355.1 1061.0h0M1420.1 1013.1h0M1369.1 1050.5h0M1483.5 1027.0h0M1451.2 1017.3h0M1473.9 1035.4h0M1482.7 1031.6h0" stroke="#b4b4b4" stroke-opacity="0.45" stroke-width="5.2" stroke-linecap="round" fill="none"/>
<path d="M1304.8 1099.1h0M1259.9 1106.9h0M1292.7 1106.1h0M1276.4 1097.2h0M1281.7 1090.2h0M1292.5 1106.7h0M1289.1 1102.9h0M1206.1 1095.6h0M1186.0 1106.1h0M1329.6 1098.4h0M1317.7 1102.4h0M1342.4 1099.0h0M1365.4 1088.6h0M1293.7 1106.1h0M1453.2 1087.0h0M1344.5 1097.7h0M1342.3 1093.6h0M1286.1 1104.1h0M1309.2 1105.0h0M1341.9 1067.1h0M1355.1 1096.0h0M1335.5 1097.6h0M1232.3 1106.0h0M1428.9 1107.5h0M1269.3 1108.1h0M1274.5 1104.0h0M1298.5 1104.2h0M1346.8 1106.6h0M1371.7 1105.5h0M1289.8 1100.9h0M1320.4 1102.6h0M1363.7 1107.5h0M1356.6 1106.5h0M1292.6 1095.5h0M1379.6 1099.8h0M1384.0 1032.5h0M1354.6 1056.1h0M1345.9 1095.0h0M1429.7 1106.6h0M1319.8 1101.3h0M1411.7 1095.6h0M1417.9 1058.9h0M1264.4 1100.5h0M1389.5 1099.2h0M1305.2 1101.2h0M1311.8 1102.1h0M1369.2 1101.0h0M1206.5 1108.1h0M1230.9 1102.7h0M1336.7 1101.0h0M1313.8 1067.4h0M1275.6 1104.8h0M1383.3 1082.7h0M1333.1 1098.0h0M1321.7 1104.0h0M1289.3 1092.5h0M1231.1 1088.3h0M1435.6 1066.5h0M1421.2 1108.0h0M1393.4 1108.0h0M1260.0 1094.8h0M1312.2 1100.0h0M1386.4 1037.2h0M1464.3 1088.2h0M1375.3 1083.4h0M1273.6 1102.8h0M1407.0 1106.0h0M1401.8 1106.1h0M1388.1 1104.9h0M1393.9 1091.4h0M1286.4 1097.0h0M1263.2 1108.2h0M1168.2 1105.7h0M1465.6 1057.6h0M1310.0 1106.8h0M1421.7 1087.9h0M1326.6 1103.4h0M1363.8 1055.7h0M1277.9 1103.7h0M1327.9 1081.3h0M1338.1 1098.5h0M1312.5 1093.1h0M1324.9 1098.3h0M1234.2 1105.5h0M1259.9 1100.6h0M1417.2 1099.3h0M1291.8 1090.0h0M1193.9 1108.2h0M1347.5 1102.1h0M1390.6 1089.2h0M1262.0 1104.2h0M1347.6 1097.5h0M1236.1 1099.6h0M1355.2 1066.2h0M1309.7 1099.1h0M1195.7 1104.3h0M1330.8 1101.1h0M1385.2 1102.1h0M1340.0 1077.5h0M1350.4 1082.4h0M1329.9 1103.3h0M1375.6 1108.4h0M1393.5 1070.0h0M1258.0 1108.1h0M1321.1 1101.7h0M1208.0 1106.5h0M1411.6 1105.0h0M1307.0 1104.4h0M1366.6 1106.8h0M1378.6 1103.7h0M1329.4 1105.0h0M1263.0 1108.3h0M1295.2 1104.2h0M1261.0 1106.8h0M1241.5 1100.3h0M1392.9 1096.8h0M1358.5 1086.8h0M1435.2 1095.5h0M1367.4 1081.1h0M1311.4 1107.6h0M1309.8 1096.9h0M1353.5 1079.2h0M1257.8 1090.8h0M1312.8 1087.0h0M1311.7 1082.4h0M1209.5 1107.6h0M1391.6 1057.6h0M1379.0 1098.3h0M1236.0 1107.9h0M1399.1 1096.7h0M1320.9 1103.5h0M1341.5 1099.2h0M1410.2 1106.8h0M1269.9 1102.7h0M1195.9 1108.1h0M1275.7 1101.1h0M1227.1 1099.0h0M1311.7 1071.6h0M1307.8 1108.0h0M1311.9 1093.5h0M1414.4 1102.4h0M1244.9 1090.9h0M1229.7 1107.4h0M1187.5 1103.8h0M1298.5 1103.9h0M1347.3 1087.9h0M1256.1 1092.2h0M1237.4 1108.4h0M1467.7 1078.9h0M1399.4 1091.4h0M1381.0 1085.3h0M1387.9 1069.4h0M1437.3 1097.1h0M1324.1 1094.4h0M1329.9 1105.4h0M1308.8 1093.1h0M1211.9 1104.0h0M1200.3 1105.6h0M1332.4 1098.6h0M1242.8 1101.6h0M1283.6 1097.1h0M1302.1 1086.8h0M1296.4 1103.4h0M1250.1 1093.9h0M1184.1 1106.9h0M1265.2 1101.3h0M1272.6 1101.5h0M1220.2 1100.6h0M1322.9 1088.4h0M1328.0 1104.9h0M1346.4 1093.6h0M1263.1 1092.3h0M1378.9 1095.7h0M1381.9 1088.4h0M1253.0 1107.4h0M1206.3 1105.0h0M1290.4 1100.0h0M1419.9 1096.5h0M1382.1 1092.5h0M1161.8 1100.2h0M1327.8 1104.4h0M1332.3 1101.0h0M1349.3 1071.6h0M1267.0 1104.5h0M1359.3 1033.1h0M1338.5 1093.5h0M1358.4 1102.1h0M1382.3 1090.7h0M1315.0 1092.5h0M1267.8 1106.9h0M1313.0 1094.6h0M1245.9 1095.3h0M1383.8 1044.6h0M1452.0 1061.7h0M1423.6 1075.0h0M1365.5 1105.4h0M1324.9 1107.1h0M1340.5 1088.1h0M1451.1 1044.1h0M1359.4 1093.5h0M1394.7 1101.6h0M1327.5 1102.6h0M1433.7 1101.3h0M1344.2 1104.8h0M1406.5 1091.2h0M1376.6 1100.8h0M1480.6 1098.8h0M1464.4 1083.1h0M1315.0 1095.5h0M1392.1 1106.7h0M1248.6 1102.0h0M1432.9 1064.1h0M1291.6 1106.3h0M1345.6 1106.9h0M1280.5 1106.5h0M1298.7 1108.1h0M1330.5 1094.6h0M1342.3 1105.1h0M1308.4 1098.3h0M1368.9 1050.1h0M1335.1 1092.4h0M1343.4 1098.9h0M1236.3 1085.4h0M1143.2 1084.2h0M1461.0 1065.1h0M1422.7 1099.4h0M1192.1 1098.4h0M1308.4 1106.6h0M1319.6 1086.0h0M1327.8 1097.6h0M1395.8 1107.7h0M1112.9 1106.8h0M1275.3 1101.9h0M1135.5 1090.9h0M1161.1 1107.6h0M1176.2 1107.6h0M1392.0 1088.8h0M1484.5 1115.6h0M1385.2 1086.0h0M1352.3 1080.8h0M1314.6 1103.6h0M1274.5 1095.3h0M1284.2 1108.3h0M1278.2 1101.6h0M1231.0 1091.8h0M1313.7 1103.1h0M1346.6 1094.3h0M1377.1 1104.4h0M1250.3 1101.1h0M1318.3 1079.3h0M1399.5 1102.9h0M1215.9 1106.8h0M1282.2 1105.0h0M1364.0 1123.3h0M1399.9 1051.4h0M1362.4 1104.2h0M1328.2 1104.4h0M1242.2 1096.3h0M1417.8 1107.4h0M1425.8 1101.8h0M1266.1 1117.8h0M1270.3 1092.9h0M1379.0 1101.7h0M1469.0 1104.7h0M1439.7 1055.5h0M1310.0 1075.1h0M1414.5 1091.4h0M1411.1 1087.5h0M1374.6 1067.0h0M1316.7 1104.5h0M1307.7 1105.1h0M1293.5 1091.8h0M1369.0 1089.6h0M1381.5 1103.2h0M1304.6 1094.1h0M1427.6 1022.5h0M1380.6 1089.0h0M1393.7 1074.0h0M1280.2 1104.1h0M1274.7 1097.6h0M1301.4 1096.6h0M1393.8 1106.6h0M1313.3 1095.1h0M1424.8 1092.6h0M1459.0 1087.8h0M1287.7 1106.9h0M1414.0 1101.8h0M1436.3 1098.5h0M1245.8 1091.9h0M1278.5 1090.2h0M1226.2 1103.6h0M1369.2 1107.4h0M1413.0 1080.5h0M1321.0 1082.6h0M1342.2 1104.2h0M1385.0 1099.1h0M1339.3 1094.7h0M1298.5 1107.9h0M1197.4 1100.4h0M1384.0 1106.8h0M1339.4 1092.0h0M1273.3 1107.8h0M1207.4 1108.1h0M1381.8 1106.3h0M1445.0 1080.2h0M1387.1 1107.7h0M1411.3 1106.2h0M1265.5 1120.5h0M1332.4 1101.5h0M1259.2 1104.8h0M1461.1 1099.2h0M1214.0 1105.5h0M1323.8 1100.1h0M1390.4 1076.5h0M1384.3 1101.6h0M1159.9 1085.1h0M1216.9 1096.5h0M1345.6 1094.3h0M1333.6 1097.3h0M1283.4 1090.6h0M1300.5 1072.0h0M1329.1 1090.7h0M1230.9 1106.0h0M1192.5 1107.3h0M1263.3 1101.3h0M1375.4 1088.7h0M1280.4 1103.0h0M1339.0 1103.2h0M1366.0 1082.4h0M1261.9 1107.0h0M1290.5 1094.1h0M1169.7 1106.6h0M1361.0 1080.4h0M1207.0 1107.0h0M1309.1 1105.8h0M1375.4 1108.1h0M1352.1 1095.3h0M1232.7 1098.5h0M1343.0 1107.3h0M1328.6 1104.1h0M1332.2 1089.7h0M1397.2 1100.4h0M1214.6 1106.4h0M1334.8 1085.6h0M1407.0 1070.0h0M1258.3 1108.1h0M1297.9 1097.2h0M1269.9 1108.0h0M1300.4 1099.1h0M1353.8 1107.7h0M1303.7 1092.5h0M1265.7 1107.7h0M1281.9 1097.6h0M1397.2 1097.2h0M1409.7 1096.6h0M1334.4 1104.3h0M1287.9 1046.5h0M1244.6 1091.7h0M1264.3 1102.6h0M1179.0 1108.1h0M1294.7 1100.5h0M1257.0 1101.3h0M1287.8 1095.4h0M1327.8 1085.9h0M1243.7 1096.5h0M1347.8 1105.9h0M1225.4 1104.4h0M1250.2 1106.2h0M1467.3 1104.3h0M1301.3 1108.1h0M1282.8 1108.1h0M1193.8 1089.2h0M1309.5 1097.6h0M1257.5 1103.1h0M1272.7 1102.1h0M1207.1 1102.3h0M1257.4 1103.4h0M1336.0 1053.9h0M1369.5 1095.2h0M1274.9 1107.0h0M1393.3 1106.4h0M1447.2 1090.5h0M1415.8 1101.0h0M1388.7 1098.2h0M1340.5 1107.8h0M1290.5 1104.4h0M1342.3 1083.3h0M1270.3 1089.1h0M1302.8 1063.8h0M1300.3 1081.8h0M1322.7 1103.5h0M1258.2 1106.6h0M1291.9 1107.1h0M1258.2 1091.8h0M1407.7 1107.4h0M1464.2 1106.1h0M1330.5 1107.9h0M1266.2 1102.8h0M1317.5 1104.1h0M1359.6 1100.0h0M1466.9 1097.8h0M1174.3 1103.2h0M1204.1 1093.3h0M1334.3 1104.2h0M1300.5 1107.7h0M1149.0 1092.5h0M1353.3 1077.9h0M1415.2 1094.4h0M1393.6 1103.3h0M1158.2 1094.1h0M1302.0 1104.0h0M1215.4 1108.3h0M1469.5 1092.5h0M1353.2 1077.9h0M1268.0 1095.2h0M1359.8 1063.0h0M1307.9 1104.2h0M1373.3 1099.9h0M1257.3 1096.3h0M1313.0 1098.2h0M1300.3 1107.1h0M1413.3 960.4h0M1232.3 1097.4h0M1268.6 1076.3h0M1174.3 1108.2h0M1272.1 1104.2h0M1419.2 1094.5h0M1238.4 1108.0h0M1396.0 1106.1h0M1362.0 1091.1h0M1276.8 1107.4h0M1179.2 1106.3h0M1254.6 1102.4h0M1258.7 1101.9h0M1274.1 1102.3h0M1398.4 1096.8h0M1295.9 1101.7h0M1269.1 1098.4h0M1270.8 1107.4h0M1365.8 1080.1h0M1313.8 1108.2h0M1366.2 1059.7h0M1386.5 1063.5h0M1381.5 1087.1h0M1337.2 1107.9h0M1275.0 1096.1h0M1303.8 1079.3h0M1352.9 1073.5h0M1403.6 1093.7h0M1265.2 1102.8h0M1292.6 1098.8h0M1315.6 1061.0h0M1332.3 1107.7h0M1170.5 1105.2h0M1291.1 1107.6h0M1354.1 1067.9h0M1302.6 1096.2h0M1425.6 1106.5h0M1244.9 1101.3h0M1262.4 1104.6h0M1366.7 1082.1h0M1305.4 1100.9h0M1291.8 1099.0h0M1272.6 1102.8h0M1406.4 1095.3h0M1317.7 1093.6h0M1380.4 1100.7h0M1360.0 1105.7h0M1401.9 1105.6h0M1323.2 1098.4h0M1473.6 1107.8h0M1328.8 1100.1h0M1115.5 1106.4h0M1324.9 1076.3h0M1445.7 1047.1h0M1377.0 1078.2h0M1390.1 1064.0h0M1266.0 1097.3h0M1304.8 1102.8h0M1198.7 1105.6h0M1265.4 1105.6h0M1386.3 1082.6h0M1268.4 1097.5h0M1466.8 1106.3h0M1378.6 1101.7h0M1287.0 1089.3h0M1427.3 1093.8h0M1374.4 1096.0h0M1306.8 1098.6h0M1417.0 1108.3h0M1260.9 1108.2h0M1400.4 1106.0h0M1356.7 1095.9h0M1265.1 1108.0h0M1308.4 1098.6h0M1293.0 1101.6h0M1338.0 1103.0h0M1236.5 1091.9h0M1243.9 1106.6h0M1335.8 1094.8h0M1240.1 1107.4h0M1356.0 1082.7h0M1306.0 1095.7h0M1319.1 1105.7h0M1399.3 1088.2h0M1333.4 1106.7h0M1265.1 1101.5h0M1317.4 1084.1h0M1406.5 1096.4h0M1391.1 1106.8h0M1347.1 1105.1h0M1392.4 1105.0h0M1361.1 1103.8h0M1455.7 1090.8h0M1351.2 1095.0h0M1240.8 1103.2h0M1290.1 1104.4h0M1251.6 1102.5h0M1362.6 1088.3h0M1312.9 1081.9h0M1231.0 1106.9h0M1276.9 1107.3h0M1271.5 1106.7h0M1311.6 1107.2h0M1476.2 1101.8h0M1395.7 1085.8h0M1303.9 1101.5h0M1318.1 1107.9h0M1255.3 1105.4h0M1241.0 1107.3h0M1258.2 1103.5h0M1323.8 1097.9h0M1292.1 1095.3h0M1332.8 1095.8h0M1283.4 1107.7h0M1286.9 1106.8h0M1459.3 1081.3h0M1356.2 1108.2h0M1227.6 1111.7h0M1316.2 1105.2h0M1284.3 1107.9h0M1369.7 1103.8h0M1225.7 1101.2h0M1317.2 1104.7h0M1426.1 1098.0h0M1382.2 1078.4h0M1402.4 1074.9h0M1353.5 1070.3h0M1341.0 1098.6h0M1290.1 1105.9h0M1334.2 1092.8h0M1204.3 1106.9h0M1321.4 1088.0h0M1290.9 1100.2h0M1235.9 1105.6h0M1297.0 1107.7h0M1213.6 1098.0h0M1140.4 1106.9h0M1264.4 1107.7h0M1347.3 1106.4h0M1346.6 1087.5h0M1382.2 1103.4h0M1344.9 1105.6h0M1215.7 1103.6h0M1300.7 1093.6h0M1404.2 1085.2h0M1374.3 1104.6h0M1254.7 1101.4h0M1318.2 1094.0h0M1291.9 1100.2h0M1415.3 1103.3h0M1288.4 1066.5h0M1432.3 1104.2h0M1347.3 1108.3h0M1386.8 1102.1h0M1339.3 1105.3h0M1380.0 1072.6h0M1436.0 1055.6h0M1260.0 1097.6h0M1326.6 1083.2h0M1269.1 1093.7h0M1274.5 1107.7h0M1377.6 1103.9h0M1299.1 1094.2h0M1269.9 1091.0h0M1434.0 1094.4h0M1224.8 1102.8h0M1265.4 1105.8h0M1368.7 1095.6h0M1255.1 1102.4h0M1260.0 1104.8h0M1273.2 1105.6h0M1324.6 1096.0h0M1390.4 1073.7h0M1192.7 1105.2h0M1274.1 1074.1h0M1157.9 1096.9h0M1342.6 1074.2h0M1437.9 1078.0h0M1350.1 1098.5h0M1360.8 1103.3h0M1333.7 1087.0h0M1413.0 1093.3h0M1409.8 1101.5h0M1323.8 1084.7h0M1352.3 1098.2h0M1294.1 1065.2h0M1306.3 1105.5h0M1265.4 1102.3h0M1205.3 1100.6h0M1282.7 1081.2h0M1270.8 1098.6h0M1266.3 1101.9h0M1363.5 1101.4h0M1230.7 1107.6h0M1244.4 1105.9h0M1340.5 1104.9h0M1307.2 1099.4h0M1355.6 1105.9h0M1295.0 1090.2h0M1258.5 1105.3h0M1314.5 1097.4h0M1290.0 1093.3h0M1350.9 1108.3h0M1351.8 1094.4h0M1259.0 1102.7h0M1291.9 1106.2h0M1176.1 1104.2h0M1380.2 1105.1h0M1361.1 1107.0h0M1466.7 1100.2h0M1248.5 1089.0h0M1341.0 1104.3h0M1360.1 1104.6h0M1302.8 1106.2h0M1330.4 1062.6h0M1228.9 1099.3h0M1466.4 1031.7h0M1292.8 1102.6h0M1236.9 1102.5h0M1352.4 1064.2h0M1293.9 1094.1h0M1302.5 1107.9h0M1379.4 1101.2h0M1266.4 1089.1h0M1237.5 1104.5h0M1249.9 1095.2h0M1298.6 1099.3h0M1348.7 1107.3h0M1297.0 1103.6h0M1270.6 1098.8h0M1403.5 1108.2h0M1327.0 1090.3h0M1288.3 1106.2h0M1368.0 1087.7h0M1259.5 1106.3h0M1276.5 1108.2h0M1283.8 1101.2h0M1341.5 1088.6h0M1320.9 1101.4h0M1272.5 1104.3h0M1388.2 1061.9h0M1336.7 1089.9h0M1371.3 1094.0h0M1180.3 1108.3h0M1396.0 1103.8h0M1259.2 1092.7h0M1409.9 1076.9h0M1325.2 1105.5h0M1249.4 1106.1h0M1323.1 1094.4h0M1342.7 1051.9h0M1248.7 1098.5h0M1320.6 1088.4h0M1423.1 1082.8h0M1232.6 1083.1h0M1238.9 1107.6h0M1309.0 1111.4h0M1192.0 1108.2h0M1243.9 1105.9h0M1412.3 1108.3h0M1280.5 1089.5h0M1323.6 1096.9h0M1301.2 1105.6h0M1269.2 1100.2h0M1288.7 1100.2h0M1183.7 1105.9h0M1277.1 1098.6h0M1394.9 1080.6h0M1301.6 1106.3h0M1400.4 1092.8h0M1187.9 1107.4h0M1353.0 1073.1h0M1383.7 1106.2h0M1243.6 1095.8h0M1211.2 1107.9h0M1279.0 1091.3h0M1311.6 1106.6h0M1192.2 1107.0h0M1353.0 1098.0h0M1289.4 1098.9h0M1277.1 1097.0h0M1338.7 1084.9h0M1297.3 1108.0h0M1323.7 1108.1h0M1476.6 1099.0h0M1346.6 1095.8h0M1305.8 1077.2h0M1370.7 1085.3h0M1391.0 1085.6h0M1262.9 1100.1h0M1340.1 1017.8h0M1311.2 1091.3h0M1300.3 1102.8h0M1235.6 1106.2h0M1326.1 1085.5h0M1329.5 1107.3h0M1264.3 1093.1h0M1210.0 1104.6h0M1379.2 1107.4h0M1395.5 1103.9h0M1278.4 1097.4h0M1263.4 1084.3h0M1270.3 1097.2h0M1235.3 1105.8h0M1281.5 1079.2h0M1339.2 1098.8h0M1268.1 1106.3h0M1262.3 1103.2h0M1283.3 1107.8h0M1373.1 1106.6h0M1264.4 1100.0h0M1372.4 1107.4h0M1332.1 1087.4h0M1267.7 1093.5h0M1292.0 1090.2h0M1410.7 1107.1h0M1297.5 1106.6h0M1434.4 1060.6h0M1247.7 1105.6h0M1303.0 1086.6h0M1270.0 1101.4h0M1244.7 1099.6h0M1362.3 1104.2h0M1326.3 1101.2h0M1308.9 1109.9h0M1408.8 1108.0h0M1487.4 1081.6h0M1343.7 1102.8h0M1387.6 1100.0h0M1280.8 1100.4h0M1221.7 1106.3h0M1395.7 1098.5h0M1244.4 1098.6h0M1367.3 1107.9h0M1160.0 1107.4h0M1321.7 1103.8h0M1323.8 1083.4h0M1317.9 1106.5h0M1272.7 1106.5h0M1436.1 1095.5h0M1349.6 1092.0h0M1338.1 1079.8h0M1386.7 1084.2h0M1254.7 1106.1h0M1309.1 1087.5h0M1457.1 1107.0h0M1373.0 1074.8h0M1428.2 1091.9h0M1307.8 1102.0h0M1258.8 1106.8h0M1280.8 1095.3h0M1468.2 1100.8h0M1276.6 1099.6h0M1257.5 1106.5h0M1316.2 1093.0h0M1252.1 1104.1h0M1344.2 1106.3h0M1434.8 1054.3h0M1230.6 1102.8h0M1305.0 1106.4h0M1379.1 1093.0h0M1332.2 1100.6h0M1228.2 1104.0h0M1202.8 1106.8h0M1389.1 1103.6h0M1280.9 1091.3h0M1360.3 1085.4h0M1288.5 1093.6h0M1320.8 1090.7h0M1326.0 1113.8h0M1326.4 1094.5h0M1276.8 1100.8h0M1325.2 1103.5h0M1344.6 1098.8h0M1340.4 1106.4h0M1265.9 1107.1h0M1397.0 1104.8h0M1352.5 1104.8h0M1281.5 1104.5h0M1281.4 1103.1h0M1481.4 1068.7h0M1407.4 1106.6h0M1330.4 1102.6h0M1311.8 1090.2h0M1328.7 1103.1h0M1365.5 1093.9h0M1379.3 1094.5h0M1443.1 1101.9h0M1307.6 1092.9h0M1345.5 1095.3h0M1316.0 1103.1h0M1307.8 1099.8h0M1340.8 1080.1h0M1259.9 1104.2h0M1255.3 1101.6h0M1310.0 1105.4h0M1283.3 1104.7h0M1369.6 1078.9h0M1377.2 1105.3h0M1424.8 1105.0h0M1268.4 1105.2h0M1426.0 1107.4h0M1379.8 1052.0h0M1268.7 1097.0h0M1263.1 1110.8h0M1260.3 1096.4h0M1244.1 1099.9h0M1278.1 1107.9h0M1242.2 1100.9h0M1333.1 1100.6h0M1336.2 1102.4h0M1306.1 1096.3h0M1380.1 1108.2h0M1310.1 1068.1h0M1242.9 1088.6h0M1139.9 1106.2h0M1299.7 1086.1h0M1285.2 1099.5h0M1311.1 1088.4h0M1447.7 1091.1h0M1357.5 1100.0h0M1261.1 1090.1h0M1342.8 1104.7h0M1170.3 1103.2h0M1299.5 1105.7h0M1390.3 1105.5h0M1341.0 1108.3h0M1344.5 1106.4h0M1458.5 1056.6h0M1343.6 1102.3h0M1249.5 1107.9h0M1236.0 1105.1h0M1311.7 1096.8h0M1418.4 1097.6h0M1248.9 1104.5h0M1315.2 1091.2h0M1312.9 1099.3h0M1327.3 1093.7h0M1369.6 1099.7h0M1171.5 1107.5h0M1438.8 1106.1h0M1343.4 1078.5h0M1329.6 1094.8h0M1324.4 1090.6h0M1362.5 1093.6h0M1334.5 1099.9h0M1418.8 1097.8h0M1364.5 1095.5h0M1217.0 1104.1h0M1290.9 1101.9h0M1442.7 1103.2h0M1305.3 1087.9h0M1322.9 1078.6h0M1303.3 1102.0h0M1410.8 1100.0h0M1236.4 1108.1h0M1291.1 1085.4h0M1383.9 1097.6h0M1427.1 1090.0h0M1317.6 1101.8h0M1443.2 1107.7h0M1365.1 1103.6h0M1350.7 1108.1h0M1260.1 1110.2h0M1331.5 1104.1h0M1409.7 1094.1h0M1286.4 1104.2h0M1359.8 1094.2h0M1301.0 1084.1h0M1392.3 1075.8h0M1217.5 1100.2h0M1172.2 1103.5h0M1395.0 1107.6h0M1257.3 1100.8h0M1208.1 1093.5h0M1408.7 1013.3h0M1238.8 1095.3h0M1247.1 1108.4h0M1339.7 1056.7h0M1316.0 1091.9h0M1396.2 1070.1h0M1364.0 1077.8h0M1349.5 1074.5h0M1270.5 1093.3h0M1257.9 1082.5h0M1325.9 1107.0h0M1347.8 1102.8h0M1152.4 1103.6h0M1339.5 1079.7h0M1390.0 1101.8h0M1271.3 1098.2h0M1324.6 1105.9h0M1324.4 1103.1h0M1346.3 1096.0h0M1373.8 1104.0h0M1368.0 1100.7h0M1266.9 1100.2h0M1162.4 1103.3h0M1278.7 1105.5h0M1296.7 1105.2h0M1347.8 1093.0h0M1391.5 1094.7h0M1380.5 1101.9h0M1320.6 1076.3h0M1201.5 1108.3h0M1390.9 1101.7h0M1407.1 1101.8h0M1278.3 1097.8h0M1259.9 1101.9h0M1378.6 1103.0h0M1177.4 1103.4h0M1367.2 1099.2h0M1244.8 1105.1h0M1287.2 1094.3h0M1250.6 1106.3h0M1420.2 1099.1h0M1307.6 1096.9h0M1335.1 1108.0h0M1364.1 1108.3h0M1318.7 1103.9h0M1386.6 1098.9h0M1282.7 1072.4h0M1403.0 1107.2h0M1404.1 1055.6h0M1436.2 1039.6h0M1352.2 1105.4h0M1282.0 1108.4h0M1302.3 1103.3h0M1196.3 1105.1h0M1362.3 1104.9h0M1279.4 1098.4h0M1314.4 1095.4h0M1258.4 1102.5h0M1341.5 1101.7h0M1343.8 1080.3h0M1323.9 1106.8h0M1340.1 1107.4h0M1343.1 1099.4h0M1425.1 1075.2h0M1310.3 1099.7h0M1379.7 1103.6h0M1242.3 1096.9h0M1197.3 1103.1h0M1265.3 1103.7h0M1348.2 1097.6h0M1297.0 1106.0h0M1383.7 1069.5h0M1379.7 1086.2h0M1269.9 1107.8h0M1255.7 1107.4h0M1342.5 1095.5h0M1274.1 1083.6h0M1304.9 1102.1h0M1364.7 1107.9h0M1520.8 1117.2h0M1509.2 1089.4h0M1468.8 1053.1h0M1482.8 1031.6h0M1472.1 1071.0h0M1513.0 1055.1h0M1482.9 1070.0h0M1483.5 1100.3h0M1529.8 1105.4h0M1485.2 1063.4h0M1511.9 1085.2h0M1531.2 1025.2h0M1518.5 1013.5h0M1494.2 1054.0h0M1484.2 1106.4h0M1502.3 1107.5h0M1469.1 1076.6h0M1496.8 1083.7h0M1458.4 1106.1h0M1507.7 1041.8h0M1508.2 1099.3h0M1489.0 1104.8h0M1476.2 1083.1h0M1536.4 1104.6h0M1511.9 1087.0h0M1491.4 1069.7h0M1471.9 1095.4h0M1387.9 1056.2h0M1456.8 1052.3h0M1338.5 1066.0h0M1431.2 1047.3h0M1431.9 1060.3h0M1350.1 1078.2h0M1430.0 1050.4h0M1420.9 1061.3h0M1458.4 1048.8h0M1397.1 1066.5h0M1357.2 1073.7h0M1359.1 1056.1h0M1366.6 1058.1h0M1452.7 1053.5h0M1381.5 1066.0h0M1328.1 1076.2h0M1466.7 1049.7h0M1411.9 1050.6h0M1451.1 1054.1h0M1409.1 1064.4h0M1445.9 1051.0h0M1333.4 1064.7h0M1428.7 1052.5h0M1353.9 1064.9h0M1447.0 1045.5h0M1384.2 1070.2h0M1346.6 1064.6h0M1380.9 1056.1h0M1428.2 1056.6h0M1406.8 1052.2h0M1404.9 1055.3h0M1397.1 1053.6h0M1449.9 1053.1h0M1431.5 1050.8h0M1391.9 1056.7h0M1429.7 1061.6h0M1418.3 1054.1h0M1454.9 1050.1h0M1359.4 1067.6h0M1434.9 1053.8h0M1361.9 1063.1h0M1373.0 1056.9h0M1440.8 1056.2h0M1370.1 1057.2h0M1381.6 1065.4h0M1397.9 1054.3h0M1434.3 1049.8h0M1427.4 1057.2h0M1453.3 1051.0h0M1434.4 1053.8h0M1429.8 1061.0h0M1346.2 1069.0h0M1424.1 1059.9h0M1415.6 1059.8h0M1447.8 1057.2h0M1450.0 1052.2h0M1344.9 1063.4h0M1331.1 1070.5h0M1382.7 1069.7h0M1401.7 1060.4h0M1454.1 1052.2h0M1351.7 1070.9h0M1338.5 1071.3h0M1453.1 1050.7h0M1439.6 1048.8h0M1376.9 1059.0h0M1383.7 1051.2h0M1389.1 1069.1h0M1372.4 1066.6h0M1381.0 1063.7h0M1458.1 1052.7h0M1380.0 1070.1h0M1412.7 1055.3h0M1439.8 1053.5h0M1370.8 1065.5h0M1336.9 1065.0h0M1439.2 1058.2h0M1389.5 1064.6h0M1328.9 1073.0h0M1451.3 1047.5h0M1461.5 1041.5h0M1464.0 1062.8h0M1465.6 1053.1h0M1257.6 998.7h0M1425.5 971.2h0M1469.7 971.2h0M1513.9 1000.5h0M1561.1 1028.1h0M1525.7 1097.8h0M1537.5 1004.2h0M1502.1 1092.3h0M1394.5 1023.0h0M1399.1 1032.4h0M1332.5 1060.8h0M1405.7 1015.4h0M1416.8 1008.2h0M1410.9 1031.1h0M1366.6 1048.3h0M1468.5 1030.5h0M1374.0 1034.8h0M1413.4 1026.5h0M1364.3 1059.7h0M1384.2 1032.1h0M1479.7 977.9h0M1357.9 1054.4h0M1427.4 1028.7h0M1404.2 1049.5h0M1476.5 1048.1h0M1453.6 1036.4h0M1351.1 1048.7h0M1403.1 1050.8h0M1346.0 1056.0h0M1425.7 1007.2h0M1480.0 1026.8h0M1370.4 1044.4h0M1434.9 1026.3h0M1430.8 1047.6h0M1427.9 1040.8h0M1465.4 984.2h0M1346.2 1061.0h0M1483.0 1024.1h0M1484.1 1040.1h0M1329.8 1062.5h0M1431.1 1050.6h0M1452.1 1036.8h0M1381.9 1052.6h0M1342.0 1053.5h0M1397.3 1039.7h0M1360.5 1040.3h0M1337.5 1056.3h0M1455.7 989.6h0M1464.9 1024.6h0M1396.5 1030.5h0" stroke="#b4b4b4" stroke-opacity="0.45" stroke-width="5.2" stroke-linecap="round" fill="none"/>
<line x1="1135.4" y1="564.6" x2="1135.4" y2="1122.8" stroke="#555" stroke-width="1.1" stroke-dasharray="2.2 2.6"/>
<line x1="1480.0" y1="564.6" x2="1480.0" y2="1122.8" stroke="#555" stroke-width="1.1" stroke-dasharray="2.2 2.6"/>
<line x1="1090.4" y1="981.7" x2="1998" y2="981.7" stroke="#6e6e6e" stroke-width="1.4" stroke-dasharray="2 2.7"/>
<path d="M1579.1 823.5L1593.6 802.9M1595.5 836.6L1635.7 826.6M1628.6 865.2L1666.4 851.5M1689.6 863.1L1742.8 849.1M1687.6 867.4L1742.8 873.6M1565.4 902.8L1576.5 881.7M1550.9 913.6L1596.9 900.1M1641.0 906.5L1647.4 900.9M1545.0 916.5L1709.3 898.5M1552.6 942.4L1630.0 924.2M1629.2 936.1L1696.4 924.2M1541.5 944.7L1562.6 946.5M1549.7 943.0L1664.3 949.2M1658.6 959.6L1743.4 948.7M1656.5 964.1L1714.6 973.1M1571.6 961.4L1592.8 970.4M1580.1 973.7L1581.4 988.4M1557.5 963.2L1624.9 996.1M1943.9 588.8L1952.1 583.2M1671.8 732.0L1693.2 716.7M1688.1 739.7L1732.9 741.2M1979.6 739.7L1972.5 733.0" stroke="#4a4a4a" stroke-width="0.8" fill="none"/>
<g fill="#d7261e" stroke="#a01812" stroke-width="0.4"><circle cx="1579.1" cy="823.5" r="2.4"/><circle cx="1595.5" cy="836.6" r="2.4"/><circle cx="1628.6" cy="865.2" r="2.4"/><circle cx="1689.6" cy="863.1" r="2.4"/><circle cx="1687.6" cy="867.4" r="2.4"/><circle cx="1619.4" cy="876.0" r="2.4"/><circle cx="1565.4" cy="902.8" r="2.4"/><circle cx="1550.9" cy="913.6" r="2.4"/><circle cx="1641.0" cy="906.5" r="2.4"/><circle cx="1545.0" cy="916.5" r="2.4"/><circle cx="1552.6" cy="942.4" r="2.4"/><circle cx="1629.2" cy="936.1" r="2.4"/><circle cx="1541.5" cy="944.7" r="2.4"/><circle cx="1549.7" cy="943.0" r="2.4"/><circle cx="1658.6" cy="959.6" r="2.4"/><circle cx="1656.5" cy="964.1" r="2.4"/><circle cx="1571.6" cy="961.4" r="2.4"/><circle cx="1580.1" cy="973.7" r="2.4"/><circle cx="1557.5" cy="963.2" r="2.4"/><circle cx="1544.0" cy="914.0" r="2.4"/><circle cx="1598.3" cy="915.6" r="2.4"/><circle cx="1508.8" cy="881.1" r="2.4"/><circle cx="1501.5" cy="889.7" r="2.4"/><circle cx="1516.8" cy="888.1" r="2.4"/><circle cx="1489.2" cy="891.3" r="2.4"/><circle cx="1529.3" cy="902.8" r="2.4"/><circle cx="1514.6" cy="915.4" r="2.4"/><circle cx="1533.8" cy="924.4" r="2.4"/><circle cx="1541.5" cy="924.8" r="2.4"/><circle cx="1556.2" cy="921.6" r="2.4"/><circle cx="1559.5" cy="925.5" r="2.4"/><circle cx="1556.0" cy="931.4" r="2.4"/><circle cx="1563.4" cy="933.4" r="2.4"/><circle cx="1504.6" cy="930.4" r="2.4"/><circle cx="1513.1" cy="928.7" r="2.4"/><circle cx="1525.6" cy="932.6" r="2.4"/><circle cx="1491.9" cy="934.6" r="2.4"/><circle cx="1505.8" cy="944.7" r="2.4"/><circle cx="1501.3" cy="949.6" r="2.4"/><circle cx="1508.4" cy="948.7" r="2.4"/><circle cx="1517.2" cy="949.6" r="2.4"/><circle cx="1533.2" cy="949.8" r="2.4"/><circle cx="1531.3" cy="954.7" r="2.4"/><circle cx="1518.4" cy="954.9" r="2.4"/><circle cx="1521.9" cy="956.9" r="2.4"/><circle cx="1483.1" cy="952.6" r="2.4"/><circle cx="1485.4" cy="960.2" r="2.4"/><circle cx="1492.3" cy="960.2" r="2.4"/><circle cx="1500.3" cy="960.6" r="2.4"/><circle cx="1506.6" cy="959.0" r="2.4"/><circle cx="1515.8" cy="961.2" r="2.4"/><circle cx="1530.5" cy="960.2" r="2.4"/><circle cx="1538.9" cy="960.6" r="2.4"/><circle cx="1487.2" cy="965.1" r="2.4"/><circle cx="1490.7" cy="965.1" r="2.4"/><circle cx="1505.4" cy="976.3" r="2.4"/><circle cx="1514.6" cy="973.1" r="2.4"/><circle cx="1515.6" cy="977.1" r="2.4"/><circle cx="1522.3" cy="975.1" r="2.4"/><circle cx="1526.2" cy="978.4" r="2.4"/><circle cx="1943.9" cy="588.8" r="2.4"/><circle cx="1671.8" cy="732.0" r="2.4"/><circle cx="1688.1" cy="739.7" r="2.4"/><circle cx="1979.6" cy="739.7" r="2.4"/></g>
<clipPath id="clipd"><rect x="1090" y="560" width="908" height="436.5"/></clipPath>
<text x="1595.7" y="806.1" font-size="13.6" fill="#231f20">PLOD3</text>
<text x="1637.5" y="830.5" font-size="13.6" fill="#231f20">EP300</text>
<text x="1668.2" y="855.6" font-size="13.6" fill="#231f20">SLC39A7</text>
<text x="1744.4" y="853.3" font-size="13.6" fill="#231f20">PIK3C3</text>
<text x="1744.4" y="878.7" font-size="13.6" fill="#231f20">SNX2</text>
<text x="1627.9" y="879.9" font-size="13.6" fill="#231f20">ARMC4</text>
<text x="1549.9" y="880.1" font-size="13.6" fill="#231f20">MSMO1</text>
<text x="1598.7" y="904.4" font-size="13.6" fill="#231f20">BMI1</text>
<text x="1648.8" y="904.4" font-size="13.6" fill="#231f20">SHTN1</text>
<text x="1711.1" y="903.8" font-size="13.6" fill="#231f20">AP2M1</text>
<text x="1632.0" y="928.5" font-size="13.6" fill="#231f20">PIK3R4</text>
<text x="1698.4" y="928.5" font-size="13.6" fill="#231f20">BECN1</text>
<text x="1564.2" y="951.2" font-size="13.6" fill="#231f20">EML4</text>
<text x="1666.4" y="953.6" font-size="13.6" fill="#231f20">TBC1D23</text>
<text x="1745.2" y="953.6" font-size="13.6" fill="#231f20">AP2S1</text>
<text x="1716.2" y="978.2" font-size="13.6" fill="#231f20">SYT15</text>
<text x="1594.6" y="976.1" font-size="13.6" fill="#231f20">FAM35A</text>
<clipPath id="clCUEDC2"><rect x="1549.7" y="991.6" width="90" height="14"/></clipPath>
<text x="1551.7" y="999.6" font-size="13.6" fill="#231f20" clip-path="url(#clCUEDC2)">CUEDC2</text>
<clipPath id="clFRA10AC1"><rect x="1625.3" y="991.6" width="90" height="14"/></clipPath>
<text x="1627.3" y="999.6" font-size="13.6" fill="#231f20" clip-path="url(#clFRA10AC1)">FRA10AC1</text>
<text x="1939.3" y="581.2" font-size="13.6" fill="#231f20">UVRAG</text>
<text x="1695.7" y="721.3" font-size="13.6" fill="#231f20">ARL5B</text>
<text x="1735.5" y="745.8" font-size="13.6" fill="#231f20">P4HA1</text>
<text x="1950.1" y="732.0" font-size="13.6" fill="#231f20">MSR1</text>
<text x="1307.7" y="1142.8" font-size="21" text-anchor="middle" fill="#474747">0</text>
<text x="1602.3" y="1142.8" font-size="21" text-anchor="middle" fill="#474747">1</text>
<text x="1896.9" y="1142.8" font-size="21" text-anchor="middle" fill="#474747">2</text>
<text x="1086.0" y="953.0" font-size="21" text-anchor="end" fill="#474747">5</text>
<text x="1086.0" y="769.5" font-size="21" text-anchor="end" fill="#474747">10</text>
<text x="1086.0" y="586.0" font-size="21" text-anchor="end" fill="#474747">15</text>
<text x="1526.2" y="1168.4" font-size="27.7" text-anchor="middle" fill="#231f20">Fold change (log2)</text>
<text transform="translate(1037.3,855.5) rotate(-90)" font-size="27.8" text-anchor="middle" fill="#231f20">Significance (-log10)</text>
<rect x="561.8" y="1301.4" width="109.0" height="14.6" fill="#000"/>
<line x1="551.3" x2="561.8" y1="1308.7" y2="1308.7" stroke="#000" stroke-width="2.3"/>
<rect x="561.8" y="1323.4" width="107.4" height="14.6" fill="#000"/>
<line x1="551.3" x2="561.8" y1="1330.7" y2="1330.7" stroke="#000" stroke-width="2.3"/>
<rect x="561.8" y="1346.4" width="20.7" height="12.6" fill="#fff" stroke="#000" stroke-width="2.3"/>
<line x1="551.3" x2="561.8" y1="1352.7" y2="1352.7" stroke="#000" stroke-width="2.3"/>
<rect x="561.8" y="1368.4" width="20.7" height="12.6" fill="#fff" stroke="#000" stroke-width="2.3"/>
<line x1="551.3" x2="561.8" y1="1374.7" y2="1374.7" stroke="#000" stroke-width="2.3"/>
<rect x="561.8" y="1390.4" width="15.8" height="12.6" fill="#fff" stroke="#000" stroke-width="2.3"/>
<line x1="551.3" x2="561.8" y1="1396.7" y2="1396.7" stroke="#000" stroke-width="2.3"/>
<rect x="561.8" y="1412.4" width="11.2" height="12.6" fill="#fff" stroke="#000" stroke-width="2.3"/>
<line x1="551.3" x2="561.8" y1="1418.7" y2="1418.7" stroke="#000" stroke-width="2.3"/>
<rect x="561.8" y="1434.4" width="9.3" height="12.6" fill="#fff" stroke="#000" stroke-width="2.3"/>
<line x1="551.3" x2="561.8" y1="1440.7" y2="1440.7" stroke="#000" stroke-width="2.3"/>
<rect x="561.8" y="1456.4" width="9.3" height="12.6" fill="#fff" stroke="#000" stroke-width="2.3"/>
<line x1="551.3" x2="561.8" y1="1462.7" y2="1462.7" stroke="#000" stroke-width="2.3"/>
<rect x="561.8" y="1478.4" width="4.3" height="12.6" fill="#fff" stroke="#000" stroke-width="2.3"/>
<line x1="551.3" x2="561.8" y1="1484.7" y2="1484.7" stroke="#000" stroke-width="2.3"/>
<rect x="561.8" y="1500.4" width="3.2" height="12.6" fill="#fff" stroke="#000" stroke-width="2.3"/>
<line x1="551.3" x2="561.8" y1="1506.7" y2="1506.7" stroke="#000" stroke-width="2.3"/>
<path d="M561.8 1291.9V1521.6H715.2" fill="none" stroke="#000" stroke-width="2.3"/>
<line x1="561.8" x2="561.8" y1="1521.6" y2="1532.1" stroke="#000" stroke-width="2.3"/>
<line x1="599.9" x2="599.9" y1="1521.6" y2="1532.1" stroke="#000" stroke-width="2.3"/>
<line x1="638.0" x2="638.0" y1="1521.6" y2="1532.1" stroke="#000" stroke-width="2.3"/>
<line x1="676.1" x2="676.1" y1="1521.6" y2="1532.1" stroke="#000" stroke-width="2.3"/>
<line x1="714.2" x2="714.2" y1="1521.6" y2="1532.1" stroke="#000" stroke-width="2.3"/>
<text x="547.5" y="1315.2" font-size="19.75" text-anchor="end" fill="#3c3c3c">clathrin adaptor activity</text>
<text x="547.5" y="1337.2" font-size="19.75" text-anchor="end" fill="#3c3c3c">cargo adaptor activity</text>
<text x="547.5" y="1359.2" font-size="19.75" text-anchor="end" fill="#3c3c3c">zinc efflux transmembrane transporter activity</text>
<text x="547.5" y="1381.2" font-size="19.75" text-anchor="end" fill="#3c3c3c">monoatomic cation efflux transmembrane transporter activity</text>
<text x="547.5" y="1403.2" font-size="19.75" text-anchor="end" fill="#3c3c3c">phosphoglycerate kinase activity</text>
<text x="547.5" y="1425.2" font-size="19.75" text-anchor="end" fill="#3c3c3c">C-rich single-stranded DNA binding</text>
<text x="547.5" y="1447.2" font-size="19.75" text-anchor="end" fill="#3c3c3c">phosphotransferase activity, carboxyl group as acceptor</text>
<text x="547.5" y="1469.2" font-size="19.75" text-anchor="end" fill="#3c3c3c">diphthine synthase activity</text>
<text x="547.5" y="1491.2" font-size="19.75" text-anchor="end" fill="#3c3c3c">4 iron, 4 sulfur cluster binding</text>
<text x="547.5" y="1513.2" font-size="19.75" text-anchor="end" fill="#3c3c3c">triose-phosphate isomerase activity</text>
<text x="561.8" y="1550.6" font-size="17.6" text-anchor="middle" fill="#000">0</text>
<text x="599.9" y="1550.6" font-size="17.6" text-anchor="middle" fill="#000">1</text>
<text x="638.0" y="1550.6" font-size="17.6" text-anchor="middle" fill="#000">2</text>
<text x="676.1" y="1550.6" font-size="17.6" text-anchor="middle" fill="#000">3</text>
<text x="714.2" y="1550.6" font-size="17.6" text-anchor="middle" fill="#000">4</text>
<text x="447.8" y="1271.4" font-size="27.6" text-anchor="middle" fill="#000">Molecular function</text>
<text x="649.3" y="1582.6" font-size="27.6" text-anchor="middle" fill="#000">-log10 (p-adj)</text>
<rect x="564.2" y="1660.1" width="120.1" height="14.6" fill="#000"/>
<line x1="553.7" x2="564.2" y1="1667.4" y2="1667.4" stroke="#000" stroke-width="2.3"/>
<rect x="564.2" y="1682.1" width="102.1" height="14.6" fill="#000"/>
<line x1="553.7" x2="564.2" y1="1689.4" y2="1689.4" stroke="#000" stroke-width="2.3"/>
<rect x="564.2" y="1704.1" width="94.8" height="14.6" fill="#000"/>
<line x1="553.7" x2="564.2" y1="1711.4" y2="1711.4" stroke="#000" stroke-width="2.3"/>
<rect x="564.2" y="1726.1" width="64.9" height="14.6" fill="#000"/>
<line x1="553.7" x2="564.2" y1="1733.4" y2="1733.4" stroke="#000" stroke-width="2.3"/>
<rect x="564.2" y="1748.1" width="56.4" height="14.6" fill="#000"/>
<line x1="553.7" x2="564.2" y1="1755.4" y2="1755.4" stroke="#000" stroke-width="2.3"/>
<rect x="564.2" y="1770.1" width="54.4" height="14.6" fill="#000"/>
<line x1="553.7" x2="564.2" y1="1777.4" y2="1777.4" stroke="#000" stroke-width="2.3"/>
<rect x="564.2" y="1792.1" width="50.6" height="14.6" fill="#000"/>
<line x1="553.7" x2="564.2" y1="1799.4" y2="1799.4" stroke="#000" stroke-width="2.3"/>
<rect x="564.2" y="1814.1" width="49.1" height="14.6" fill="#000"/>
<line x1="553.7" x2="564.2" y1="1821.4" y2="1821.4" stroke="#000" stroke-width="2.3"/>
<rect x="564.2" y="1836.1" width="47.9" height="14.6" fill="#000"/>
<line x1="553.7" x2="564.2" y1="1843.4" y2="1843.4" stroke="#000" stroke-width="2.3"/>
<rect x="564.2" y="1858.1" width="47.4" height="14.6" fill="#000"/>
<line x1="553.7" x2="564.2" y1="1865.4" y2="1865.4" stroke="#000" stroke-width="2.3"/>
<path d="M564.2 1650.3V1880.3H717.6" fill="none" stroke="#000" stroke-width="2.3"/>
<line x1="564.2" x2="564.2" y1="1880.3" y2="1890.8" stroke="#000" stroke-width="2.3"/>
<line x1="594.7" x2="594.7" y1="1880.3" y2="1890.8" stroke="#000" stroke-width="2.3"/>
<line x1="625.2" x2="625.2" y1="1880.3" y2="1890.8" stroke="#000" stroke-width="2.3"/>
<line x1="655.6" x2="655.6" y1="1880.3" y2="1890.8" stroke="#000" stroke-width="2.3"/>
<line x1="686.1" x2="686.1" y1="1880.3" y2="1890.8" stroke="#000" stroke-width="2.3"/>
<line x1="716.6" x2="716.6" y1="1880.3" y2="1890.8" stroke="#000" stroke-width="2.3"/>
<text x="547.3" y="1673.8" font-size="19.75" text-anchor="end" fill="#1a1a1a">cytoplasm</text>
<text x="547.3" y="1695.8" font-size="19.75" text-anchor="end" fill="#1a1a1a">Golgi apparatus</text>
<text x="547.3" y="1717.8" font-size="19.75" text-anchor="end" fill="#1a1a1a">cytosol</text>
<text x="547.3" y="1739.8" font-size="19.75" text-anchor="end" fill="#1a1a1a">Golgi membrane</text>
<text x="547.3" y="1761.8" font-size="19.75" text-anchor="end" fill="#1a1a1a">bounding membrane of organelle</text>
<text x="547.3" y="1783.8" font-size="19.75" text-anchor="end" fill="#1a1a1a">AP-1 adaptor complex</text>
<text x="547.3" y="1805.8" font-size="19.75" text-anchor="end" fill="#1a1a1a">trans-Golgi network</text>
<text x="547.3" y="1827.8" font-size="19.75" text-anchor="end" fill="#1a1a1a">clathrin coat of trans-Golgi network vesicle</text>
<text x="547.3" y="1849.8" font-size="19.75" text-anchor="end" fill="#1a1a1a">trans-Golgi network transport vesicle membrane</text>
<text x="547.3" y="1871.8" font-size="19.75" text-anchor="end" fill="#1a1a1a">Golgi-associated vesicle membrane</text>
<text x="564.2" y="1908.8" font-size="17.6" text-anchor="middle" fill="#000">0</text>
<text x="594.7" y="1908.8" font-size="17.6" text-anchor="middle" fill="#000">2</text>
<text x="625.2" y="1908.8" font-size="17.6" text-anchor="middle" fill="#000">4</text>
<text x="655.6" y="1908.8" font-size="17.6" text-anchor="middle" fill="#000">6</text>
<text x="686.1" y="1908.8" font-size="17.6" text-anchor="middle" fill="#000">8</text>
<text x="716.6" y="1908.8" font-size="17.6" text-anchor="middle" fill="#000">10</text>
<text x="454.5" y="1622.6" font-size="27.6" text-anchor="middle" fill="#000">Cellular component</text>
<text x="639.0" y="1935.5" font-size="27.6" text-anchor="middle" fill="#000">-log10 (p-adj)</text>
<rect x="1536.1" y="1300.4" width="133.4" height="14.6" fill="#000"/>
<line x1="1525.6" x2="1536.1" y1="1307.7" y2="1307.7" stroke="#000" stroke-width="2.3"/>
<rect x="1536.1" y="1322.5" width="114.5" height="14.6" fill="#000"/>
<line x1="1525.6" x2="1536.1" y1="1329.8" y2="1329.8" stroke="#000" stroke-width="2.3"/>
<rect x="1536.1" y="1344.5" width="102.8" height="14.6" fill="#000"/>
<line x1="1525.6" x2="1536.1" y1="1351.8" y2="1351.8" stroke="#000" stroke-width="2.3"/>
<rect x="1536.1" y="1366.6" width="101.8" height="14.6" fill="#000"/>
<line x1="1525.6" x2="1536.1" y1="1373.9" y2="1373.9" stroke="#000" stroke-width="2.3"/>
<rect x="1536.1" y="1388.7" width="96.7" height="14.6" fill="#000"/>
<line x1="1525.6" x2="1536.1" y1="1396.0" y2="1396.0" stroke="#000" stroke-width="2.3"/>
<rect x="1536.1" y="1410.8" width="94.2" height="14.6" fill="#000"/>
<line x1="1525.6" x2="1536.1" y1="1418.0" y2="1418.0" stroke="#000" stroke-width="2.3"/>
<rect x="1536.1" y="1432.8" width="85.0" height="14.6" fill="#000"/>
<line x1="1525.6" x2="1536.1" y1="1440.1" y2="1440.1" stroke="#000" stroke-width="2.3"/>
<rect x="1536.1" y="1454.9" width="69.2" height="14.6" fill="#000"/>
<line x1="1525.6" x2="1536.1" y1="1462.2" y2="1462.2" stroke="#000" stroke-width="2.3"/>
<rect x="1536.1" y="1478.0" width="54.0" height="12.6" fill="#fff" stroke="#000" stroke-width="2.3"/>
<line x1="1525.6" x2="1536.1" y1="1484.3" y2="1484.3" stroke="#000" stroke-width="2.3"/>
<rect x="1536.1" y="1500.0" width="49.9" height="12.6" fill="#fff" stroke="#000" stroke-width="2.3"/>
<line x1="1525.6" x2="1536.1" y1="1506.3" y2="1506.3" stroke="#000" stroke-width="2.3"/>
<path d="M1536.1 1290.7V1520.3H1689.8" fill="none" stroke="#000" stroke-width="2.3"/>
<line x1="1536.1" x2="1536.1" y1="1520.3" y2="1530.8" stroke="#000" stroke-width="2.3"/>
<line x1="1587.0" x2="1587.0" y1="1520.3" y2="1530.8" stroke="#000" stroke-width="2.3"/>
<line x1="1637.9" x2="1637.9" y1="1520.3" y2="1530.8" stroke="#000" stroke-width="2.3"/>
<line x1="1688.8" x2="1688.8" y1="1520.3" y2="1530.8" stroke="#000" stroke-width="2.3"/>
<text x="1518.3" y="1314.1" font-size="19.75" text-anchor="end" fill="#1a1a1a">histone H3 acetyltransferase activity</text>
<text x="1518.3" y="1336.2" font-size="19.75" text-anchor="end" fill="#1a1a1a">iron ion binding</text>
<text x="1518.3" y="1358.2" font-size="19.75" text-anchor="end" fill="#1a1a1a">oxidoreductase activity, acting on paired donors</text>
<text x="1518.3" y="1380.3" font-size="19.75" text-anchor="end" fill="#1a1a1a">histone H4 acetyltransferase activity</text>
<text x="1518.3" y="1402.4" font-size="19.75" text-anchor="end" fill="#1a1a1a">clathrin adaptor activity</text>
<text x="1518.3" y="1424.5" font-size="19.75" text-anchor="end" fill="#1a1a1a">cargo adaptor activity</text>
<text x="1518.3" y="1446.5" font-size="19.75" text-anchor="end" fill="#1a1a1a">protein binding</text>
<text x="1518.3" y="1468.6" font-size="19.75" text-anchor="end" fill="#1a1a1a">L-ascorbic acid binding</text>
<text x="1518.3" y="1490.7" font-size="19.75" text-anchor="end" fill="#1a1a1a">histone acetyltransferase activity</text>
<text x="1518.3" y="1512.7" font-size="19.75" text-anchor="end" fill="#1a1a1a">histone H3K14 acetyltransferase activity</text>
<text x="1536.1" y="1549.7" font-size="17.6" text-anchor="middle" fill="#000">0</text>
<text x="1587.0" y="1549.7" font-size="17.6" text-anchor="middle" fill="#000">1</text>
<text x="1637.9" y="1549.7" font-size="17.6" text-anchor="middle" fill="#000">2</text>
<text x="1688.8" y="1549.7" font-size="17.6" text-anchor="middle" fill="#000">3</text>
<text x="1452.1" y="1269.5" font-size="28.15" text-anchor="middle" fill="#000">Molecular function</text>
<text x="1611.3" y="1577.9" font-size="27.6" text-anchor="middle" fill="#000">-log10 (p-adj)</text>
<rect x="1535.6" y="1658.5" width="120.1" height="14.6" fill="#000"/>
<line x1="1525.1" x2="1535.6" y1="1665.8" y2="1665.8" stroke="#000" stroke-width="2.3"/>
<rect x="1535.6" y="1680.5" width="92.3" height="14.6" fill="#000"/>
<line x1="1525.1" x2="1535.6" y1="1687.8" y2="1687.8" stroke="#000" stroke-width="2.3"/>
<rect x="1535.6" y="1702.5" width="92.3" height="14.6" fill="#000"/>
<line x1="1525.1" x2="1535.6" y1="1709.8" y2="1709.8" stroke="#000" stroke-width="2.3"/>
<rect x="1535.6" y="1724.5" width="92.3" height="14.6" fill="#000"/>
<line x1="1525.1" x2="1535.6" y1="1731.8" y2="1731.8" stroke="#000" stroke-width="2.3"/>
<rect x="1535.6" y="1746.5" width="81.3" height="14.6" fill="#000"/>
<line x1="1525.1" x2="1535.6" y1="1753.8" y2="1753.8" stroke="#000" stroke-width="2.3"/>
<rect x="1535.6" y="1768.5" width="57.1" height="14.6" fill="#000"/>
<line x1="1525.1" x2="1535.6" y1="1775.8" y2="1775.8" stroke="#000" stroke-width="2.3"/>
<rect x="1535.6" y="1790.5" width="55.2" height="14.6" fill="#000"/>
<line x1="1525.1" x2="1535.6" y1="1797.8" y2="1797.8" stroke="#000" stroke-width="2.3"/>
<rect x="1535.6" y="1812.5" width="53.9" height="14.6" fill="#000"/>
<line x1="1525.1" x2="1535.6" y1="1819.8" y2="1819.8" stroke="#000" stroke-width="2.3"/>
<rect x="1535.6" y="1834.5" width="53.9" height="14.6" fill="#000"/>
<line x1="1525.1" x2="1535.6" y1="1841.8" y2="1841.8" stroke="#000" stroke-width="2.3"/>
<rect x="1535.6" y="1856.5" width="52.0" height="14.6" fill="#000"/>
<line x1="1525.1" x2="1535.6" y1="1863.8" y2="1863.8" stroke="#000" stroke-width="2.3"/>
<path d="M1535.6 1648.6V1878.3H1689.4" fill="none" stroke="#000" stroke-width="2.3"/>
<line x1="1535.6" x2="1535.6" y1="1878.3" y2="1888.8" stroke="#000" stroke-width="2.3"/>
<line x1="1566.2" x2="1566.2" y1="1878.3" y2="1888.8" stroke="#000" stroke-width="2.3"/>
<line x1="1596.7" x2="1596.7" y1="1878.3" y2="1888.8" stroke="#000" stroke-width="2.3"/>
<line x1="1627.3" x2="1627.3" y1="1878.3" y2="1888.8" stroke="#000" stroke-width="2.3"/>
<line x1="1657.8" x2="1657.8" y1="1878.3" y2="1888.8" stroke="#000" stroke-width="2.3"/>
<line x1="1688.4" x2="1688.4" y1="1878.3" y2="1888.8" stroke="#000" stroke-width="2.3"/>
<text x="1518.3" y="1672.9" font-size="19.75" text-anchor="end" fill="#1a1a1a">phosphatidylinositol 3-kinase complex, class III</text>
<text x="1518.3" y="1694.9" font-size="19.75" text-anchor="end" fill="#1a1a1a">endocytic vesicle</text>
<text x="1518.3" y="1716.9" font-size="19.75" text-anchor="end" fill="#1a1a1a">phosphatidylinositol 3-kinase complex, class III, type I</text>
<text x="1518.3" y="1738.9" font-size="19.75" text-anchor="end" fill="#1a1a1a">phosphatidylinositol 3-kinase complex, class III, type II</text>
<text x="1518.3" y="1760.9" font-size="19.75" text-anchor="end" fill="#1a1a1a">phosphatidylinositol 3-kinase complex</text>
<text x="1518.3" y="1782.9" font-size="19.75" text-anchor="end" fill="#1a1a1a">vacuole</text>
<text x="1518.3" y="1804.9" font-size="19.75" text-anchor="end" fill="#1a1a1a">endocytic vesicle membrane</text>
<text x="1518.3" y="1826.9" font-size="19.75" text-anchor="end" fill="#1a1a1a">cytoplasmic vesicle</text>
<text x="1518.3" y="1848.9" font-size="19.75" text-anchor="end" fill="#1a1a1a">intracellular vesicle</text>
<text x="1518.3" y="1870.9" font-size="19.75" text-anchor="end" fill="#1a1a1a">extrinsic component of membrane</text>
<text x="1535.6" y="1906.9" font-size="17.6" text-anchor="middle" fill="#000">0</text>
<text x="1566.2" y="1906.9" font-size="17.6" text-anchor="middle" fill="#000">2</text>
<text x="1596.7" y="1906.9" font-size="17.6" text-anchor="middle" fill="#000">4</text>
<text x="1627.3" y="1906.9" font-size="17.6" text-anchor="middle" fill="#000">6</text>
<text x="1657.8" y="1906.9" font-size="17.6" text-anchor="middle" fill="#000">8</text>
<text x="1688.4" y="1906.9" font-size="17.6" text-anchor="middle" fill="#000">10</text>
<text x="1461.7" y="1620.9" font-size="27.6" text-anchor="middle" fill="#000">Cellular component</text>
<text x="1613.9" y="1934.5" font-size="27.6" text-anchor="middle" fill="#000">-log10 (p-adj)</text>
</svg>
</body></html>
